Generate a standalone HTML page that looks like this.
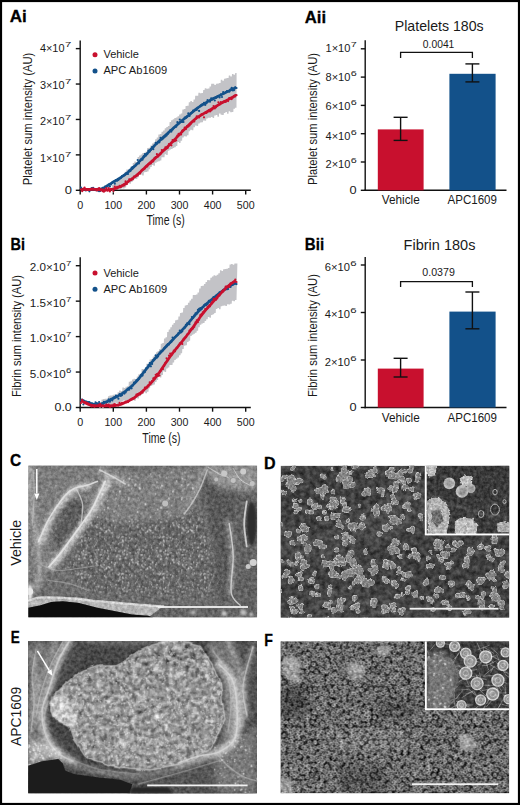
<!DOCTYPE html>
<html><head><meta charset="utf-8"><style>
html,body{margin:0;padding:0;background:#fff;}
svg{display:block;}
text{font-family:"Liberation Sans", sans-serif;}
</style></head><body>
<svg width="520" height="805" viewBox="0 0 520 805">
<rect x="0" y="0" width="520" height="805" fill="#fff"/>
<text x="9.8" y="22.4" font-size="17.0" text-anchor="start" font-weight="bold" textLength="17" lengthAdjust="spacingAndGlyphs" fill="#000" stroke="#000" stroke-width="0.3">Ai</text><text x="304.8" y="22.7" font-size="17.0" text-anchor="start" font-weight="bold" textLength="21.3" lengthAdjust="spacingAndGlyphs" fill="#000" stroke="#000" stroke-width="0.3">Aii</text><text x="10.5" y="250.0" font-size="17.0" text-anchor="start" font-weight="bold" textLength="14.5" lengthAdjust="spacingAndGlyphs" fill="#000" stroke="#000" stroke-width="0.3">Bi</text><text x="304.8" y="250.2" font-size="17.0" text-anchor="start" font-weight="bold" textLength="19.3" lengthAdjust="spacingAndGlyphs" fill="#000" stroke="#000" stroke-width="0.3">Bii</text><text x="10.0" y="465.59999999999997" font-size="17.0" text-anchor="start" font-weight="bold" textLength="11.2" lengthAdjust="spacingAndGlyphs" fill="#000" stroke="#000" stroke-width="0.3">C</text><text x="264.0" y="469.0" font-size="17.0" text-anchor="start" font-weight="bold" textLength="11.6" lengthAdjust="spacingAndGlyphs" fill="#000" stroke="#000" stroke-width="0.3">D</text><text x="10.8" y="642.5" font-size="17.0" text-anchor="start" font-weight="bold" textLength="9.0" lengthAdjust="spacingAndGlyphs" fill="#000" stroke="#000" stroke-width="0.3">E</text><text x="264.2" y="646.4000000000001" font-size="17.0" text-anchor="start" font-weight="bold" textLength="8.6" lengthAdjust="spacingAndGlyphs" fill="#000" stroke="#000" stroke-width="0.3">F</text><line x1="80.2" y1="40.5" x2="80.2" y2="191.0" stroke="#111" stroke-width="1.4"/><line x1="79.5" y1="190.3" x2="250.8" y2="190.3" stroke="#111" stroke-width="1.4"/><line x1="75.8" y1="190.3" x2="80.2" y2="190.3" stroke="#111" stroke-width="1.4"/><line x1="75.8" y1="154.88" x2="80.2" y2="154.88" stroke="#111" stroke-width="1.4"/><line x1="75.8" y1="119.46000000000001" x2="80.2" y2="119.46000000000001" stroke="#111" stroke-width="1.4"/><line x1="75.8" y1="84.04" x2="80.2" y2="84.04" stroke="#111" stroke-width="1.4"/><line x1="75.8" y1="48.620000000000005" x2="80.2" y2="48.620000000000005" stroke="#111" stroke-width="1.4"/><line x1="80.2" y1="190.3" x2="80.2" y2="194.5" stroke="#111" stroke-width="1.4"/><text x="80.2" y="208.70000000000002" font-size="11.5" text-anchor="middle" textLength="6.0" lengthAdjust="spacingAndGlyphs" fill="#1a1a1a">0</text><line x1="113.30000000000001" y1="190.3" x2="113.30000000000001" y2="194.5" stroke="#111" stroke-width="1.4"/><text x="113.30000000000001" y="208.70000000000002" font-size="11.5" text-anchor="middle" textLength="17.7" lengthAdjust="spacingAndGlyphs" fill="#1a1a1a">100</text><line x1="146.4" y1="190.3" x2="146.4" y2="194.5" stroke="#111" stroke-width="1.4"/><text x="146.4" y="208.70000000000002" font-size="11.5" text-anchor="middle" textLength="17.7" lengthAdjust="spacingAndGlyphs" fill="#1a1a1a">200</text><line x1="179.5" y1="190.3" x2="179.5" y2="194.5" stroke="#111" stroke-width="1.4"/><text x="179.5" y="208.70000000000002" font-size="11.5" text-anchor="middle" textLength="17.7" lengthAdjust="spacingAndGlyphs" fill="#1a1a1a">300</text><line x1="212.60000000000002" y1="190.3" x2="212.60000000000002" y2="194.5" stroke="#111" stroke-width="1.4"/><text x="212.60000000000002" y="208.70000000000002" font-size="11.5" text-anchor="middle" textLength="17.7" lengthAdjust="spacingAndGlyphs" fill="#1a1a1a">400</text><line x1="245.7" y1="190.3" x2="245.7" y2="194.5" stroke="#111" stroke-width="1.4"/><text x="245.7" y="208.70000000000002" font-size="11.5" text-anchor="middle" textLength="17.7" lengthAdjust="spacingAndGlyphs" fill="#1a1a1a">500</text><text x="165.6" y="224.60000000000002" font-size="13.8" text-anchor="middle" textLength="38.3" lengthAdjust="spacingAndGlyphs" fill="#1a1a1a">Time (s)</text><text x="31.6" y="119.0" font-size="12.8" text-anchor="middle" textLength="132.5" lengthAdjust="spacingAndGlyphs" transform="rotate(-90 31.6 119.0)" fill="#1a1a1a">Platelet sum intensity (AU)</text><text x="64.8" y="194.45000000000002" font-size="10.2" text-anchor="start" textLength="7.2" lengthAdjust="spacingAndGlyphs" fill="#1a1a1a">0</text><text x="39.9" y="162.35000000000002" font-size="10.2" text-anchor="start" textLength="24.6" lengthAdjust="spacingAndGlyphs" fill="#1a1a1a">1×10</text><text x="65.1" y="157.3" font-size="8.0" text-anchor="start" textLength="6.3" lengthAdjust="spacingAndGlyphs" fill="#1a1a1a">7</text><text x="39.9" y="125.2" font-size="10.2" text-anchor="start" textLength="24.6" lengthAdjust="spacingAndGlyphs" fill="#1a1a1a">2×10</text><text x="65.1" y="120.15" font-size="8.0" text-anchor="start" textLength="6.3" lengthAdjust="spacingAndGlyphs" fill="#1a1a1a">7</text><text x="39.9" y="88.55" font-size="10.2" text-anchor="start" textLength="24.6" lengthAdjust="spacingAndGlyphs" fill="#1a1a1a">3×10</text><text x="65.1" y="83.5" font-size="8.0" text-anchor="start" textLength="6.3" lengthAdjust="spacingAndGlyphs" fill="#1a1a1a">7</text><text x="39.9" y="51.75" font-size="10.2" text-anchor="start" textLength="24.6" lengthAdjust="spacingAndGlyphs" fill="#1a1a1a">4×10</text><text x="65.1" y="46.7" font-size="8.0" text-anchor="start" textLength="6.3" lengthAdjust="spacingAndGlyphs" fill="#1a1a1a">7</text><path d="M112.0,185.1 L113.4,185.1 L113.6,183.1 L115.0,183.1 L115.2,180.4 L116.6,180.4 L116.8,180.2 L118.2,180.2 L118.4,178.5 L119.8,178.5 L120.0,176.7 L121.4,176.7 L121.6,176.4 L123.0,176.4 L123.2,173.8 L124.6,173.8 L124.8,171.8 L126.2,171.8 L126.4,169.6 L127.8,169.6 L128.0,170.3 L129.4,170.3 L129.6,167.9 L131.0,167.9 L131.2,167.0 L132.6,167.0 L132.8,162.9 L134.2,162.9 L134.4,161.6 L135.8,161.6 L136.0,161.9 L137.4,161.9 L137.6,157.1 L139.0,157.1 L139.2,155.4 L140.6,155.4 L140.8,154.6 L142.2,154.6 L142.4,153.0 L143.8,153.0 L144.0,152.7 L145.4,152.7 L145.6,151.4 L147.0,151.4 L147.2,148.0 L148.6,148.0 L148.8,147.7 L150.2,147.7 L150.4,145.5 L151.8,145.5 L152.0,143.6 L153.4,143.6 L153.6,142.5 L155.0,142.5 L155.2,139.3 L156.6,139.3 L156.8,137.6 L158.2,137.6 L158.4,134.6 L159.8,134.6 L160.0,133.9 L161.4,133.9 L161.6,131.7 L163.0,131.7 L163.2,130.4 L164.6,130.4 L164.8,128.2 L166.2,128.2 L166.4,127.1 L167.8,127.1 L168.0,126.0 L169.4,126.0 L169.6,122.0 L171.0,122.0 L171.2,120.3 L172.6,120.3 L172.8,119.2 L174.2,119.2 L174.4,117.9 L175.8,117.9 L176.0,117.6 L177.4,117.6 L177.6,116.2 L179.0,116.2 L179.2,114.4 L180.6,114.4 L180.8,113.5 L182.2,113.5 L182.4,109.6 L183.8,109.6 L184.0,109.1 L185.4,109.1 L185.6,106.1 L187.0,106.1 L187.2,105.8 L188.6,105.8 L188.8,102.3 L190.2,102.3 L190.4,100.9 L191.8,100.9 L192.0,101.9 L193.4,101.9 L193.6,99.6 L195.0,99.6 L195.2,95.8 L196.6,95.8 L196.8,95.7 L198.2,95.7 L198.4,92.7 L199.8,92.7 L200.0,93.2 L201.4,93.2 L201.6,93.0 L203.0,93.0 L203.2,90.0 L204.6,90.0 L204.8,88.3 L206.2,88.3 L206.4,88.8 L207.8,88.8 L208.0,88.4 L209.4,88.4 L209.6,86.6 L211.0,86.6 L211.2,83.8 L212.6,83.8 L212.8,83.7 L214.2,83.7 L214.4,85.0 L215.8,85.0 L216.0,83.8 L217.4,83.8 L217.6,83.6 L219.0,83.6 L219.2,82.9 L220.6,82.9 L220.8,79.7 L222.2,79.7 L222.4,80.8 L223.8,80.8 L224.0,78.7 L225.4,78.7 L225.6,78.2 L227.0,78.2 L227.2,78.1 L228.6,78.1 L228.8,75.4 L230.2,75.4 L230.4,76.5 L231.8,76.5 L232.0,73.9 L233.4,73.9 L233.6,74.7 L235.0,74.7 L235.2,72.9 L236.6,72.9 L236.5,107.7 L235.1,107.7 L234.9,108.8 L233.5,108.8 L233.3,112.0 L231.9,112.0 L231.7,112.3 L230.3,112.3 L230.1,111.3 L228.7,111.3 L228.5,113.7 L227.1,113.7 L226.9,112.0 L225.5,112.0 L225.3,113.0 L223.9,113.0 L223.7,114.9 L222.3,114.9 L222.1,114.7 L220.7,114.7 L220.5,113.4 L219.1,113.4 L218.9,116.8 L217.5,116.8 L217.3,114.9 L215.9,114.9 L215.7,115.6 L214.3,115.6 L214.1,117.9 L212.7,117.9 L212.5,117.1 L211.1,117.1 L210.9,117.7 L209.5,117.7 L209.3,117.7 L207.9,117.7 L207.7,118.5 L206.3,118.5 L206.1,120.8 L204.7,120.8 L204.5,120.4 L203.1,120.4 L202.9,122.3 L201.5,122.3 L201.3,122.4 L199.9,122.4 L199.7,123.5 L198.3,123.5 L198.1,126.0 L196.7,126.0 L196.5,125.5 L195.1,125.5 L194.9,127.3 L193.5,127.3 L193.3,130.2 L191.9,130.2 L191.7,129.8 L190.3,129.8 L190.1,131.2 L188.7,131.2 L188.5,135.2 L187.1,135.2 L186.9,136.5 L185.5,136.5 L185.3,136.2 L183.9,136.2 L183.7,137.5 L182.3,137.5 L182.1,140.8 L180.7,140.8 L180.5,143.0 L179.1,143.0 L178.9,142.1 L177.5,142.1 L177.3,146.0 L175.9,146.0 L175.7,147.3 L174.3,147.3 L174.1,147.9 L172.7,147.9 L172.5,148.9 L171.1,148.9 L170.9,149.4 L169.5,149.4 L169.3,150.7 L167.9,150.7 L167.7,155.1 L166.3,155.1 L166.1,154.3 L164.7,154.3 L164.5,157.3 L163.1,157.3 L162.9,157.3 L161.5,157.3 L161.3,160.6 L159.9,160.6 L159.7,161.3 L158.3,161.3 L158.1,161.8 L156.7,161.8 L156.5,162.7 L155.1,162.7 L154.9,165.8 L153.5,165.8 L153.3,165.1 L151.9,165.1 L151.7,166.9 L150.3,166.9 L150.1,169.3 L148.7,169.3 L148.5,171.5 L147.1,171.5 L146.9,172.1 L145.5,172.1 L145.3,172.2 L143.9,172.2 L143.7,175.5 L142.3,175.5 L142.1,174.5 L140.7,174.5 L140.5,175.1 L139.1,175.1 L138.9,177.2 L137.5,177.2 L137.3,179.0 L135.9,179.0 L135.7,178.9 L134.3,178.9 L134.1,180.4 L132.7,180.4 L132.5,182.1 L131.1,182.1 L130.9,183.8 L129.5,183.8 L129.3,183.3 L127.9,183.3 L127.7,184.9 L126.3,184.9 L126.1,187.4 L124.7,187.4 L124.5,188.5 L123.1,188.5 L122.9,188.2 L121.5,188.2 L121.3,189.0 L119.9,189.0 L119.7,189.4 L118.3,189.4 L118.1,188.7 L116.7,188.7 L116.5,189.1 L115.1,189.1 L114.9,189.7 L113.5,189.7 L113.3,193.3 L111.9,193.3 Z" fill="#c3c3c7"/><circle cx="81.0" cy="187.7" r="1.1" fill="#13518a"/><circle cx="82.2" cy="189.6" r="1.1" fill="#13518a"/><circle cx="83.4" cy="189.0" r="1.1" fill="#13518a"/><circle cx="84.6" cy="188.8" r="1.1" fill="#13518a"/><circle cx="85.8" cy="190.4" r="1.1" fill="#13518a"/><circle cx="87.0" cy="189.4" r="1.1" fill="#13518a"/><circle cx="88.2" cy="189.0" r="1.1" fill="#13518a"/><circle cx="89.4" cy="191.3" r="1.1" fill="#13518a"/><circle cx="90.6" cy="188.8" r="1.1" fill="#13518a"/><circle cx="91.8" cy="188.0" r="1.1" fill="#13518a"/><circle cx="93.1" cy="187.8" r="1.1" fill="#13518a"/><circle cx="94.3" cy="188.8" r="1.1" fill="#13518a"/><circle cx="95.5" cy="190.1" r="1.1" fill="#13518a"/><circle cx="96.7" cy="190.2" r="1.1" fill="#13518a"/><circle cx="97.9" cy="190.5" r="1.1" fill="#13518a"/><circle cx="99.1" cy="191.2" r="1.1" fill="#13518a"/><circle cx="100.3" cy="190.9" r="1.1" fill="#13518a"/><circle cx="101.5" cy="189.5" r="1.1" fill="#13518a"/><circle cx="102.7" cy="189.6" r="1.1" fill="#13518a"/><circle cx="103.9" cy="188.5" r="1.1" fill="#13518a"/><circle cx="105.1" cy="186.6" r="1.1" fill="#13518a"/><circle cx="106.3" cy="187.6" r="1.1" fill="#13518a"/><circle cx="107.5" cy="185.5" r="1.1" fill="#13518a"/><circle cx="108.7" cy="184.5" r="1.1" fill="#13518a"/><circle cx="109.9" cy="186.4" r="1.1" fill="#13518a"/><circle cx="111.1" cy="184.4" r="1.1" fill="#13518a"/><circle cx="112.3" cy="182.4" r="1.1" fill="#13518a"/><circle cx="113.5" cy="181.6" r="1.1" fill="#13518a"/><circle cx="114.8" cy="183.7" r="1.1" fill="#13518a"/><circle cx="116.0" cy="180.2" r="1.1" fill="#13518a"/><circle cx="117.2" cy="180.7" r="1.1" fill="#13518a"/><circle cx="118.4" cy="180.0" r="1.1" fill="#13518a"/><circle cx="119.6" cy="178.6" r="1.1" fill="#13518a"/><circle cx="120.8" cy="178.1" r="1.1" fill="#13518a"/><circle cx="122.0" cy="176.2" r="1.1" fill="#13518a"/><circle cx="123.2" cy="175.5" r="1.1" fill="#13518a"/><circle cx="124.4" cy="175.2" r="1.1" fill="#13518a"/><circle cx="125.6" cy="173.5" r="1.1" fill="#13518a"/><circle cx="126.8" cy="174.0" r="1.1" fill="#13518a"/><circle cx="128.0" cy="174.0" r="1.1" fill="#13518a"/><circle cx="129.2" cy="170.4" r="1.1" fill="#13518a"/><circle cx="130.4" cy="171.1" r="1.1" fill="#13518a"/><circle cx="131.6" cy="167.6" r="1.1" fill="#13518a"/><circle cx="132.8" cy="167.0" r="1.1" fill="#13518a"/><circle cx="134.0" cy="166.6" r="1.1" fill="#13518a"/><circle cx="135.2" cy="166.0" r="1.1" fill="#13518a"/><circle cx="136.4" cy="164.4" r="1.1" fill="#13518a"/><circle cx="137.7" cy="160.0" r="1.1" fill="#13518a"/><circle cx="138.9" cy="163.5" r="1.1" fill="#13518a"/><circle cx="140.1" cy="160.7" r="1.1" fill="#13518a"/><circle cx="141.3" cy="159.2" r="1.1" fill="#13518a"/><circle cx="142.5" cy="159.7" r="1.1" fill="#13518a"/><circle cx="143.7" cy="156.2" r="1.1" fill="#13518a"/><circle cx="144.9" cy="154.2" r="1.1" fill="#13518a"/><circle cx="146.1" cy="155.3" r="1.1" fill="#13518a"/><circle cx="147.3" cy="154.1" r="1.1" fill="#13518a"/><circle cx="148.5" cy="150.6" r="1.1" fill="#13518a"/><circle cx="149.7" cy="151.4" r="1.1" fill="#13518a"/><circle cx="150.9" cy="149.8" r="1.1" fill="#13518a"/><circle cx="152.1" cy="147.1" r="1.1" fill="#13518a"/><circle cx="153.3" cy="149.2" r="1.1" fill="#13518a"/><circle cx="154.5" cy="145.5" r="1.1" fill="#13518a"/><circle cx="155.7" cy="142.9" r="1.1" fill="#13518a"/><circle cx="156.9" cy="143.7" r="1.1" fill="#13518a"/><circle cx="158.1" cy="142.3" r="1.1" fill="#13518a"/><circle cx="159.4" cy="142.3" r="1.1" fill="#13518a"/><circle cx="160.6" cy="137.8" r="1.1" fill="#13518a"/><circle cx="161.8" cy="139.6" r="1.1" fill="#13518a"/><circle cx="163.0" cy="138.6" r="1.1" fill="#13518a"/><circle cx="164.2" cy="137.4" r="1.1" fill="#13518a"/><circle cx="165.4" cy="136.4" r="1.1" fill="#13518a"/><circle cx="166.6" cy="135.4" r="1.1" fill="#13518a"/><circle cx="167.8" cy="133.9" r="1.1" fill="#13518a"/><circle cx="169.0" cy="132.3" r="1.1" fill="#13518a"/><circle cx="170.2" cy="130.3" r="1.1" fill="#13518a"/><circle cx="171.4" cy="131.6" r="1.1" fill="#13518a"/><circle cx="172.6" cy="129.6" r="1.1" fill="#13518a"/><circle cx="173.8" cy="128.0" r="1.1" fill="#13518a"/><circle cx="175.0" cy="126.9" r="1.1" fill="#13518a"/><circle cx="176.2" cy="126.7" r="1.1" fill="#13518a"/><circle cx="177.4" cy="122.2" r="1.1" fill="#13518a"/><circle cx="178.6" cy="123.6" r="1.1" fill="#13518a"/><circle cx="179.8" cy="119.6" r="1.1" fill="#13518a"/><circle cx="181.1" cy="121.8" r="1.1" fill="#13518a"/><circle cx="182.3" cy="121.9" r="1.1" fill="#13518a"/><circle cx="183.5" cy="122.0" r="1.1" fill="#13518a"/><circle cx="184.7" cy="117.7" r="1.1" fill="#13518a"/><circle cx="185.9" cy="117.9" r="1.1" fill="#13518a"/><circle cx="187.1" cy="116.6" r="1.1" fill="#13518a"/><circle cx="188.3" cy="113.4" r="1.1" fill="#13518a"/><circle cx="189.5" cy="115.9" r="1.1" fill="#13518a"/><circle cx="190.7" cy="113.4" r="1.1" fill="#13518a"/><circle cx="191.9" cy="112.6" r="1.1" fill="#13518a"/><circle cx="193.1" cy="110.7" r="1.1" fill="#13518a"/><circle cx="194.3" cy="110.8" r="1.1" fill="#13518a"/><circle cx="195.5" cy="109.4" r="1.1" fill="#13518a"/><circle cx="196.7" cy="109.9" r="1.1" fill="#13518a"/><circle cx="197.9" cy="108.1" r="1.1" fill="#13518a"/><circle cx="199.1" cy="110.9" r="1.1" fill="#13518a"/><circle cx="200.3" cy="105.9" r="1.1" fill="#13518a"/><circle cx="201.5" cy="104.8" r="1.1" fill="#13518a"/><circle cx="202.7" cy="104.4" r="1.1" fill="#13518a"/><circle cx="204.0" cy="102.9" r="1.1" fill="#13518a"/><circle cx="205.2" cy="104.9" r="1.1" fill="#13518a"/><circle cx="206.4" cy="103.3" r="1.1" fill="#13518a"/><circle cx="207.6" cy="100.1" r="1.1" fill="#13518a"/><circle cx="208.8" cy="101.0" r="1.1" fill="#13518a"/><circle cx="210.0" cy="101.7" r="1.1" fill="#13518a"/><circle cx="211.2" cy="98.3" r="1.1" fill="#13518a"/><circle cx="212.4" cy="99.5" r="1.1" fill="#13518a"/><circle cx="213.6" cy="98.1" r="1.1" fill="#13518a"/><circle cx="214.8" cy="100.5" r="1.1" fill="#13518a"/><circle cx="216.0" cy="97.9" r="1.1" fill="#13518a"/><circle cx="217.2" cy="96.4" r="1.1" fill="#13518a"/><circle cx="218.4" cy="95.8" r="1.1" fill="#13518a"/><circle cx="219.6" cy="97.5" r="1.1" fill="#13518a"/><circle cx="220.8" cy="94.4" r="1.1" fill="#13518a"/><circle cx="222.0" cy="97.0" r="1.1" fill="#13518a"/><circle cx="223.2" cy="92.2" r="1.1" fill="#13518a"/><circle cx="224.4" cy="93.2" r="1.1" fill="#13518a"/><circle cx="225.7" cy="92.2" r="1.1" fill="#13518a"/><circle cx="226.9" cy="91.2" r="1.1" fill="#13518a"/><circle cx="228.1" cy="91.2" r="1.1" fill="#13518a"/><circle cx="229.3" cy="91.7" r="1.1" fill="#13518a"/><circle cx="230.5" cy="89.7" r="1.1" fill="#13518a"/><circle cx="231.7" cy="87.8" r="1.1" fill="#13518a"/><circle cx="232.9" cy="90.4" r="1.1" fill="#13518a"/><circle cx="234.1" cy="90.1" r="1.1" fill="#13518a"/><circle cx="235.3" cy="87.3" r="1.1" fill="#13518a"/><circle cx="236.5" cy="88.0" r="1.1" fill="#13518a"/><path d="M81.0,189.3 L82.0,189.3 L83.0,189.3 L84.0,189.3 L85.0,189.3 L86.0,189.3 L87.0,189.3 L88.0,189.3 L89.0,189.3 L90.0,189.3 L91.0,189.4 L92.0,189.4 L93.0,189.4 L94.0,189.3 L95.0,189.3 L96.0,189.3 L97.0,189.3 L98.0,189.2 L99.0,189.1 L100.0,189.0 L101.0,188.8 L102.0,188.5 L103.0,188.1 L104.0,187.7 L105.0,187.2 L106.0,186.6 L107.0,186.0 L108.0,185.4 L109.0,184.7 L110.0,184.1 L111.0,183.5 L112.0,182.8 L113.0,182.2 L114.0,181.6 L115.0,181.0 L116.0,180.4 L117.0,179.8 L118.0,179.2 L119.0,178.6 L120.0,178.0 L121.0,177.3 L122.0,176.7 L123.0,176.0 L124.0,175.3 L125.0,174.6 L126.0,173.8 L127.0,173.0 L128.0,172.2 L129.0,171.3 L130.0,170.5 L131.0,169.6 L132.0,168.7 L133.0,167.7 L134.0,166.8 L135.0,165.8 L136.0,164.9 L137.0,163.9 L138.0,162.9 L139.0,161.9 L140.0,160.9 L141.0,159.9 L142.0,158.9 L143.0,157.8 L144.0,156.8 L145.0,155.7 L146.0,154.7 L147.0,153.6 L148.0,152.6 L149.0,151.5 L150.0,150.4 L151.0,149.3 L152.0,148.3 L153.0,147.2 L154.0,146.2 L155.0,145.1 L156.0,144.1 L157.0,143.1 L158.0,142.1 L159.0,141.2 L160.0,140.2 L161.0,139.3 L162.0,138.4 L163.0,137.5 L164.0,136.6 L165.0,135.7 L166.0,134.8 L167.0,133.9 L168.0,133.0 L169.0,132.1 L170.0,131.2 L171.0,130.3 L172.0,129.4 L173.0,128.5 L174.0,127.6 L175.0,126.7 L176.0,125.8 L177.0,124.9 L178.0,124.0 L179.0,123.2 L180.0,122.3 L181.0,121.5 L182.0,120.6 L183.0,119.8 L184.0,119.0 L185.0,118.2 L186.0,117.4 L187.0,116.6 L188.0,115.8 L189.0,115.0 L190.0,114.2 L191.0,113.3 L192.0,112.5 L193.0,111.7 L194.0,110.8 L195.0,110.0 L196.0,109.2 L197.0,108.4 L198.0,107.7 L199.0,107.0 L200.0,106.3 L201.0,105.6 L202.0,105.0 L203.0,104.4 L204.0,103.8 L205.0,103.1 L206.0,102.6 L207.0,102.0 L208.0,101.4 L209.0,100.9 L210.0,100.3 L211.0,99.8 L212.0,99.3 L213.0,98.8 L214.0,98.3 L215.0,97.8 L216.0,97.3 L217.0,96.9 L218.0,96.4 L219.0,95.9 L220.0,95.4 L221.0,94.9 L222.0,94.4 L223.0,93.9 L224.0,93.4 L225.0,92.9 L226.0,92.4 L227.0,91.9 L228.0,91.4 L229.0,90.9 L230.0,90.3 L231.0,89.8 L232.0,89.3 L233.0,88.8 L234.0,88.4 L235.0,88.0 L236.0,87.6" stroke="#13518a" stroke-width="2.7" fill="none" stroke-linejoin="round"/><circle cx="81.0" cy="189.5" r="1.1" fill="#c8102e"/><circle cx="82.2" cy="191.2" r="1.1" fill="#c8102e"/><circle cx="83.4" cy="188.6" r="1.1" fill="#c8102e"/><circle cx="84.6" cy="187.5" r="1.1" fill="#c8102e"/><circle cx="85.8" cy="189.7" r="1.1" fill="#c8102e"/><circle cx="87.0" cy="190.1" r="1.1" fill="#c8102e"/><circle cx="88.2" cy="189.8" r="1.1" fill="#c8102e"/><circle cx="89.4" cy="189.9" r="1.1" fill="#c8102e"/><circle cx="90.6" cy="189.2" r="1.1" fill="#c8102e"/><circle cx="91.8" cy="188.7" r="1.1" fill="#c8102e"/><circle cx="93.1" cy="188.5" r="1.1" fill="#c8102e"/><circle cx="94.3" cy="189.1" r="1.1" fill="#c8102e"/><circle cx="95.5" cy="189.0" r="1.1" fill="#c8102e"/><circle cx="96.7" cy="190.5" r="1.1" fill="#c8102e"/><circle cx="97.9" cy="190.2" r="1.1" fill="#c8102e"/><circle cx="99.1" cy="188.2" r="1.1" fill="#c8102e"/><circle cx="100.3" cy="190.5" r="1.1" fill="#c8102e"/><circle cx="101.5" cy="189.8" r="1.1" fill="#c8102e"/><circle cx="102.7" cy="191.2" r="1.1" fill="#c8102e"/><circle cx="103.9" cy="191.7" r="1.1" fill="#c8102e"/><circle cx="105.1" cy="190.7" r="1.1" fill="#c8102e"/><circle cx="106.3" cy="188.1" r="1.1" fill="#c8102e"/><circle cx="107.5" cy="190.7" r="1.1" fill="#c8102e"/><circle cx="108.7" cy="188.2" r="1.1" fill="#c8102e"/><circle cx="109.9" cy="191.5" r="1.1" fill="#c8102e"/><circle cx="111.1" cy="188.9" r="1.1" fill="#c8102e"/><circle cx="112.3" cy="189.2" r="1.1" fill="#c8102e"/><circle cx="113.5" cy="191.0" r="1.1" fill="#c8102e"/><circle cx="114.8" cy="186.7" r="1.1" fill="#c8102e"/><circle cx="116.0" cy="188.4" r="1.1" fill="#c8102e"/><circle cx="117.2" cy="186.8" r="1.1" fill="#c8102e"/><circle cx="118.4" cy="187.0" r="1.1" fill="#c8102e"/><circle cx="119.6" cy="185.9" r="1.1" fill="#c8102e"/><circle cx="120.8" cy="187.1" r="1.1" fill="#c8102e"/><circle cx="122.0" cy="185.5" r="1.1" fill="#c8102e"/><circle cx="123.2" cy="185.6" r="1.1" fill="#c8102e"/><circle cx="124.4" cy="185.4" r="1.1" fill="#c8102e"/><circle cx="125.6" cy="181.4" r="1.1" fill="#c8102e"/><circle cx="126.8" cy="184.1" r="1.1" fill="#c8102e"/><circle cx="128.0" cy="181.6" r="1.1" fill="#c8102e"/><circle cx="129.2" cy="179.3" r="1.1" fill="#c8102e"/><circle cx="130.4" cy="179.6" r="1.1" fill="#c8102e"/><circle cx="131.6" cy="179.8" r="1.1" fill="#c8102e"/><circle cx="132.8" cy="179.2" r="1.1" fill="#c8102e"/><circle cx="134.0" cy="176.6" r="1.1" fill="#c8102e"/><circle cx="135.2" cy="176.7" r="1.1" fill="#c8102e"/><circle cx="136.4" cy="176.1" r="1.1" fill="#c8102e"/><circle cx="137.7" cy="175.3" r="1.1" fill="#c8102e"/><circle cx="138.9" cy="173.2" r="1.1" fill="#c8102e"/><circle cx="140.1" cy="173.5" r="1.1" fill="#c8102e"/><circle cx="141.3" cy="170.5" r="1.1" fill="#c8102e"/><circle cx="142.5" cy="169.7" r="1.1" fill="#c8102e"/><circle cx="143.7" cy="169.3" r="1.1" fill="#c8102e"/><circle cx="144.9" cy="168.4" r="1.1" fill="#c8102e"/><circle cx="146.1" cy="166.6" r="1.1" fill="#c8102e"/><circle cx="147.3" cy="166.4" r="1.1" fill="#c8102e"/><circle cx="148.5" cy="164.1" r="1.1" fill="#c8102e"/><circle cx="149.7" cy="163.8" r="1.1" fill="#c8102e"/><circle cx="150.9" cy="163.4" r="1.1" fill="#c8102e"/><circle cx="152.1" cy="161.8" r="1.1" fill="#c8102e"/><circle cx="153.3" cy="161.3" r="1.1" fill="#c8102e"/><circle cx="154.5" cy="158.2" r="1.1" fill="#c8102e"/><circle cx="155.7" cy="157.1" r="1.1" fill="#c8102e"/><circle cx="156.9" cy="154.2" r="1.1" fill="#c8102e"/><circle cx="158.1" cy="156.4" r="1.1" fill="#c8102e"/><circle cx="159.4" cy="155.1" r="1.1" fill="#c8102e"/><circle cx="160.6" cy="153.8" r="1.1" fill="#c8102e"/><circle cx="161.8" cy="150.1" r="1.1" fill="#c8102e"/><circle cx="163.0" cy="150.7" r="1.1" fill="#c8102e"/><circle cx="164.2" cy="149.7" r="1.1" fill="#c8102e"/><circle cx="165.4" cy="147.3" r="1.1" fill="#c8102e"/><circle cx="166.6" cy="148.4" r="1.1" fill="#c8102e"/><circle cx="167.8" cy="147.8" r="1.1" fill="#c8102e"/><circle cx="169.0" cy="144.0" r="1.1" fill="#c8102e"/><circle cx="170.2" cy="144.9" r="1.1" fill="#c8102e"/><circle cx="171.4" cy="145.3" r="1.1" fill="#c8102e"/><circle cx="172.6" cy="140.0" r="1.1" fill="#c8102e"/><circle cx="173.8" cy="141.4" r="1.1" fill="#c8102e"/><circle cx="175.0" cy="141.0" r="1.1" fill="#c8102e"/><circle cx="176.2" cy="140.3" r="1.1" fill="#c8102e"/><circle cx="177.4" cy="135.6" r="1.1" fill="#c8102e"/><circle cx="178.6" cy="133.9" r="1.1" fill="#c8102e"/><circle cx="179.8" cy="134.3" r="1.1" fill="#c8102e"/><circle cx="181.1" cy="134.4" r="1.1" fill="#c8102e"/><circle cx="182.3" cy="130.5" r="1.1" fill="#c8102e"/><circle cx="183.5" cy="130.1" r="1.1" fill="#c8102e"/><circle cx="184.7" cy="127.6" r="1.1" fill="#c8102e"/><circle cx="185.9" cy="129.1" r="1.1" fill="#c8102e"/><circle cx="187.1" cy="126.2" r="1.1" fill="#c8102e"/><circle cx="188.3" cy="126.4" r="1.1" fill="#c8102e"/><circle cx="189.5" cy="125.5" r="1.1" fill="#c8102e"/><circle cx="190.7" cy="124.1" r="1.1" fill="#c8102e"/><circle cx="191.9" cy="122.4" r="1.1" fill="#c8102e"/><circle cx="193.1" cy="121.4" r="1.1" fill="#c8102e"/><circle cx="194.3" cy="121.4" r="1.1" fill="#c8102e"/><circle cx="195.5" cy="119.1" r="1.1" fill="#c8102e"/><circle cx="196.7" cy="116.4" r="1.1" fill="#c8102e"/><circle cx="197.9" cy="116.5" r="1.1" fill="#c8102e"/><circle cx="199.1" cy="117.5" r="1.1" fill="#c8102e"/><circle cx="200.3" cy="116.0" r="1.1" fill="#c8102e"/><circle cx="201.5" cy="114.3" r="1.1" fill="#c8102e"/><circle cx="202.7" cy="114.4" r="1.1" fill="#c8102e"/><circle cx="204.0" cy="117.3" r="1.1" fill="#c8102e"/><circle cx="205.2" cy="112.9" r="1.1" fill="#c8102e"/><circle cx="206.4" cy="112.9" r="1.1" fill="#c8102e"/><circle cx="207.6" cy="111.8" r="1.1" fill="#c8102e"/><circle cx="208.8" cy="110.4" r="1.1" fill="#c8102e"/><circle cx="210.0" cy="111.4" r="1.1" fill="#c8102e"/><circle cx="211.2" cy="110.4" r="1.1" fill="#c8102e"/><circle cx="212.4" cy="109.3" r="1.1" fill="#c8102e"/><circle cx="213.6" cy="106.1" r="1.1" fill="#c8102e"/><circle cx="214.8" cy="108.5" r="1.1" fill="#c8102e"/><circle cx="216.0" cy="107.3" r="1.1" fill="#c8102e"/><circle cx="217.2" cy="105.8" r="1.1" fill="#c8102e"/><circle cx="218.4" cy="102.3" r="1.1" fill="#c8102e"/><circle cx="219.6" cy="104.1" r="1.1" fill="#c8102e"/><circle cx="220.8" cy="102.2" r="1.1" fill="#c8102e"/><circle cx="222.0" cy="102.7" r="1.1" fill="#c8102e"/><circle cx="223.2" cy="101.9" r="1.1" fill="#c8102e"/><circle cx="224.4" cy="101.0" r="1.1" fill="#c8102e"/><circle cx="225.7" cy="101.9" r="1.1" fill="#c8102e"/><circle cx="226.9" cy="100.4" r="1.1" fill="#c8102e"/><circle cx="228.1" cy="101.1" r="1.1" fill="#c8102e"/><circle cx="229.3" cy="98.1" r="1.1" fill="#c8102e"/><circle cx="230.5" cy="98.4" r="1.1" fill="#c8102e"/><circle cx="231.7" cy="99.1" r="1.1" fill="#c8102e"/><circle cx="232.9" cy="97.5" r="1.1" fill="#c8102e"/><circle cx="234.1" cy="95.8" r="1.1" fill="#c8102e"/><circle cx="235.3" cy="95.2" r="1.1" fill="#c8102e"/><circle cx="236.5" cy="95.2" r="1.1" fill="#c8102e"/><path d="M81.0,189.6 L82.0,189.5 L83.0,189.5 L84.0,189.5 L85.0,189.4 L86.0,189.4 L87.0,189.4 L88.0,189.3 L89.0,189.3 L90.0,189.3 L91.0,189.3 L92.0,189.3 L93.0,189.3 L94.0,189.3 L95.0,189.3 L96.0,189.3 L97.0,189.4 L98.0,189.4 L99.0,189.5 L100.0,189.6 L101.0,189.7 L102.0,189.8 L103.0,189.9 L104.0,189.9 L105.0,190.0 L106.0,190.0 L107.0,189.9 L108.0,189.9 L109.0,189.8 L110.0,189.7 L111.0,189.5 L112.0,189.3 L113.0,189.1 L114.0,188.8 L115.0,188.5 L116.0,188.2 L117.0,187.9 L118.0,187.5 L119.0,187.1 L120.0,186.7 L121.0,186.2 L122.0,185.7 L123.0,185.1 L124.0,184.5 L125.0,183.9 L126.0,183.2 L127.0,182.5 L128.0,181.7 L129.0,181.0 L130.0,180.2 L131.0,179.5 L132.0,178.7 L133.0,178.0 L134.0,177.2 L135.0,176.5 L136.0,175.7 L137.0,174.9 L138.0,174.0 L139.0,173.2 L140.0,172.3 L141.0,171.4 L142.0,170.4 L143.0,169.4 L144.0,168.5 L145.0,167.5 L146.0,166.5 L147.0,165.6 L148.0,164.7 L149.0,163.7 L150.0,162.8 L151.0,162.0 L152.0,161.1 L153.0,160.2 L154.0,159.4 L155.0,158.5 L156.0,157.6 L157.0,156.7 L158.0,155.8 L159.0,154.9 L160.0,154.0 L161.0,153.0 L162.0,152.1 L163.0,151.1 L164.0,150.2 L165.0,149.2 L166.0,148.2 L167.0,147.2 L168.0,146.3 L169.0,145.3 L170.0,144.3 L171.0,143.2 L172.0,142.2 L173.0,141.2 L174.0,140.2 L175.0,139.1 L176.0,138.1 L177.0,137.0 L178.0,136.0 L179.0,135.0 L180.0,133.9 L181.0,132.9 L182.0,131.8 L183.0,130.8 L184.0,129.8 L185.0,128.7 L186.0,127.7 L187.0,126.7 L188.0,125.7 L189.0,124.7 L190.0,123.7 L191.0,122.7 L192.0,121.8 L193.0,120.9 L194.0,120.0 L195.0,119.2 L196.0,118.4 L197.0,117.7 L198.0,117.0 L199.0,116.3 L200.0,115.7 L201.0,115.1 L202.0,114.5 L203.0,114.0 L204.0,113.4 L205.0,112.8 L206.0,112.3 L207.0,111.7 L208.0,111.1 L209.0,110.5 L210.0,109.9 L211.0,109.3 L212.0,108.7 L213.0,108.1 L214.0,107.5 L215.0,106.9 L216.0,106.3 L217.0,105.8 L218.0,105.2 L219.0,104.6 L220.0,104.0 L221.0,103.4 L222.0,102.9 L223.0,102.3 L224.0,101.8 L225.0,101.2 L226.0,100.7 L227.0,100.1 L228.0,99.6 L229.0,99.0 L230.0,98.5 L231.0,98.0 L232.0,97.5 L233.0,97.0 L234.0,96.5 L235.0,96.1 L236.0,95.8" stroke="#c8102e" stroke-width="2.7" fill="none" stroke-linejoin="round"/><circle cx="95.0" cy="54.7" r="2.5" fill="#c8102e"/><circle cx="95.0" cy="70.9" r="2.5" fill="#13518a"/><text x="103.4" y="58.300000000000004" font-size="11.8" text-anchor="start" textLength="35.5" lengthAdjust="spacingAndGlyphs" fill="#1a1a1a">Vehicle</text><text x="103.4" y="74.30000000000001" font-size="11.8" text-anchor="start" textLength="63.8" lengthAdjust="spacingAndGlyphs" fill="#1a1a1a">APC Ab1609</text><line x1="80.2" y1="257.3" x2="80.2" y2="408.2" stroke="#111" stroke-width="1.4"/><line x1="79.5" y1="407.5" x2="250.8" y2="407.5" stroke="#111" stroke-width="1.4"/><line x1="75.8" y1="407.5" x2="80.2" y2="407.5" stroke="#111" stroke-width="1.4"/><line x1="75.8" y1="372.05" x2="80.2" y2="372.05" stroke="#111" stroke-width="1.4"/><line x1="75.8" y1="336.6" x2="80.2" y2="336.6" stroke="#111" stroke-width="1.4"/><line x1="75.8" y1="301.15" x2="80.2" y2="301.15" stroke="#111" stroke-width="1.4"/><line x1="75.8" y1="265.7" x2="80.2" y2="265.7" stroke="#111" stroke-width="1.4"/><line x1="80.2" y1="407.5" x2="80.2" y2="411.7" stroke="#111" stroke-width="1.4"/><text x="80.2" y="425.9" font-size="11.5" text-anchor="middle" textLength="6.0" lengthAdjust="spacingAndGlyphs" fill="#1a1a1a">0</text><line x1="113.30000000000001" y1="407.5" x2="113.30000000000001" y2="411.7" stroke="#111" stroke-width="1.4"/><text x="113.30000000000001" y="425.9" font-size="11.5" text-anchor="middle" textLength="17.7" lengthAdjust="spacingAndGlyphs" fill="#1a1a1a">100</text><line x1="146.4" y1="407.5" x2="146.4" y2="411.7" stroke="#111" stroke-width="1.4"/><text x="146.4" y="425.9" font-size="11.5" text-anchor="middle" textLength="17.7" lengthAdjust="spacingAndGlyphs" fill="#1a1a1a">200</text><line x1="179.5" y1="407.5" x2="179.5" y2="411.7" stroke="#111" stroke-width="1.4"/><text x="179.5" y="425.9" font-size="11.5" text-anchor="middle" textLength="17.7" lengthAdjust="spacingAndGlyphs" fill="#1a1a1a">300</text><line x1="212.60000000000002" y1="407.5" x2="212.60000000000002" y2="411.7" stroke="#111" stroke-width="1.4"/><text x="212.60000000000002" y="425.9" font-size="11.5" text-anchor="middle" textLength="17.7" lengthAdjust="spacingAndGlyphs" fill="#1a1a1a">400</text><line x1="245.7" y1="407.5" x2="245.7" y2="411.7" stroke="#111" stroke-width="1.4"/><text x="245.7" y="425.9" font-size="11.5" text-anchor="middle" textLength="17.7" lengthAdjust="spacingAndGlyphs" fill="#1a1a1a">500</text><text x="161.5" y="442.8" font-size="13.8" text-anchor="middle" textLength="38.3" lengthAdjust="spacingAndGlyphs" fill="#1a1a1a">Time (s)</text><text x="20.8" y="336.0" font-size="12.8" text-anchor="middle" textLength="122.0" lengthAdjust="spacingAndGlyphs" transform="rotate(-90 20.8 336.0)" fill="#1a1a1a">Fibrin sum intensity (AU)</text><text x="54.5" y="410.65000000000003" font-size="10.2" text-anchor="start" textLength="17.25" lengthAdjust="spacingAndGlyphs" fill="#1a1a1a">0.0</text><text x="29.8" y="377.7" font-size="10.2" text-anchor="start" textLength="36.0" lengthAdjust="spacingAndGlyphs" fill="#1a1a1a">5.0×10</text><text x="66.1" y="372.65" font-size="8.0" text-anchor="start" textLength="5.3" lengthAdjust="spacingAndGlyphs" fill="#1a1a1a">6</text><text x="29.8" y="342.3" font-size="10.2" text-anchor="start" textLength="36.0" lengthAdjust="spacingAndGlyphs" fill="#1a1a1a">1.0×10</text><text x="66.1" y="337.25" font-size="8.0" text-anchor="start" textLength="5.3" lengthAdjust="spacingAndGlyphs" fill="#1a1a1a">7</text><text x="29.8" y="306.55" font-size="10.2" text-anchor="start" textLength="36.0" lengthAdjust="spacingAndGlyphs" fill="#1a1a1a">1.5×10</text><text x="66.1" y="301.5" font-size="8.0" text-anchor="start" textLength="5.3" lengthAdjust="spacingAndGlyphs" fill="#1a1a1a">7</text><text x="29.8" y="270.8" font-size="10.2" text-anchor="start" textLength="36.0" lengthAdjust="spacingAndGlyphs" fill="#1a1a1a">2.0×10</text><text x="66.1" y="265.75" font-size="8.0" text-anchor="start" textLength="5.3" lengthAdjust="spacingAndGlyphs" fill="#1a1a1a">7</text><path d="M100.0,402.0 L101.4,402.0 L101.6,399.5 L103.0,399.5 L103.2,398.9 L104.6,398.9 L104.8,398.7 L106.2,398.7 L106.4,398.8 L107.8,398.8 L108.0,396.2 L109.4,396.2 L109.6,395.4 L111.0,395.4 L111.2,395.5 L112.6,395.5 L112.8,394.7 L114.2,394.7 L114.4,394.6 L115.8,394.6 L116.0,394.4 L117.4,394.4 L117.6,392.2 L119.0,392.2 L119.2,390.4 L120.6,390.4 L120.8,390.9 L122.2,390.9 L122.4,387.5 L123.8,387.5 L124.0,388.1 L125.4,388.1 L125.6,386.8 L127.0,386.8 L127.2,386.2 L128.6,386.2 L128.8,381.8 L130.2,381.8 L130.4,381.3 L131.8,381.3 L132.0,379.5 L133.4,379.5 L133.6,378.8 L135.0,378.8 L135.2,379.1 L136.6,379.1 L136.8,376.5 L138.2,376.5 L138.4,374.2 L139.8,374.2 L140.0,373.6 L141.4,373.6 L141.6,369.1 L143.0,369.1 L143.2,369.0 L144.6,369.0 L144.8,367.8 L146.2,367.8 L146.4,363.7 L147.8,363.7 L148.0,364.0 L149.4,364.0 L149.6,359.4 L151.0,359.4 L151.2,358.9 L152.6,358.9 L152.8,356.4 L154.2,356.4 L154.4,355.0 L155.8,355.0 L156.0,352.3 L157.4,352.3 L157.6,351.0 L159.0,351.0 L159.2,349.1 L160.6,349.1 L160.8,343.8 L162.2,343.8 L162.4,343.0 L163.8,343.0 L164.0,338.4 L165.4,338.4 L165.6,337.3 L167.0,337.3 L167.2,332.0 L168.6,332.0 L168.8,329.4 L170.2,329.4 L170.4,327.3 L171.8,327.3 L172.0,324.8 L173.4,324.8 L173.6,323.0 L175.0,323.0 L175.2,320.2 L176.6,320.2 L176.8,319.8 L178.2,319.8 L178.4,316.4 L179.8,316.4 L180.0,313.0 L181.4,313.0 L181.6,312.6 L183.0,312.6 L183.2,307.9 L184.6,307.9 L184.8,305.6 L186.2,305.6 L186.4,304.9 L187.8,304.9 L188.0,302.8 L189.4,302.8 L189.6,300.5 L191.0,300.5 L191.2,298.8 L192.6,298.8 L192.8,295.0 L194.2,295.0 L194.4,295.1 L195.8,295.1 L196.0,294.5 L197.4,294.5 L197.6,292.5 L199.0,292.5 L199.2,288.6 L200.6,288.6 L200.8,285.9 L202.2,285.9 L202.4,285.7 L203.8,285.7 L204.0,284.0 L205.4,284.0 L205.6,282.1 L207.0,282.1 L207.2,279.9 L208.6,279.9 L208.8,280.2 L210.2,280.2 L210.4,277.7 L211.8,277.7 L212.0,276.6 L213.4,276.6 L213.6,275.3 L215.0,275.3 L215.2,275.7 L216.6,275.7 L216.8,274.7 L218.2,274.7 L218.4,273.2 L219.8,273.2 L220.0,270.3 L221.4,270.3 L221.6,271.1 L223.0,271.1 L223.2,269.2 L224.6,269.2 L224.8,269.1 L226.2,269.1 L226.4,268.8 L227.8,268.8 L228.0,267.9 L229.4,267.9 L229.6,264.6 L231.0,264.6 L231.2,264.0 L232.6,264.0 L232.8,264.8 L234.2,264.8 L234.4,263.6 L235.8,263.6 L236.0,263.4 L237.4,263.4 L236.5,299.9 L235.1,299.9 L234.9,301.3 L233.5,301.3 L233.3,300.8 L231.9,300.8 L231.7,303.8 L230.3,303.8 L230.1,304.6 L228.7,304.6 L228.5,304.3 L227.1,304.3 L226.9,305.9 L225.5,305.9 L225.3,305.4 L223.9,305.4 L223.7,305.8 L222.3,305.8 L222.1,306.2 L220.7,306.2 L220.5,309.2 L219.1,309.2 L218.9,308.1 L217.5,308.1 L217.3,309.1 L215.9,309.1 L215.7,312.9 L214.3,312.9 L214.1,314.3 L212.7,314.3 L212.5,315.0 L211.1,315.0 L210.9,317.8 L209.5,317.8 L209.3,316.9 L207.9,316.9 L207.7,319.2 L206.3,319.2 L206.1,320.9 L204.7,320.9 L204.5,322.9 L203.1,322.9 L202.9,323.6 L201.5,323.6 L201.3,324.8 L199.9,324.8 L199.7,327.3 L198.3,327.3 L198.1,330.7 L196.7,330.7 L196.5,332.7 L195.1,332.7 L194.9,333.7 L193.5,333.7 L193.3,334.8 L191.9,334.8 L191.7,336.1 L190.3,336.1 L190.1,340.8 L188.7,340.8 L188.5,342.0 L187.1,342.0 L186.9,345.3 L185.5,345.3 L185.3,345.7 L183.9,345.7 L183.7,348.9 L182.3,348.9 L182.1,353.3 L180.7,353.3 L180.5,355.3 L179.1,355.3 L178.9,357.6 L177.5,357.6 L177.3,358.7 L175.9,358.7 L175.7,360.0 L174.3,360.0 L174.1,362.4 L172.7,362.4 L172.5,365.1 L171.1,365.1 L170.9,365.1 L169.5,365.1 L169.3,367.6 L167.9,367.6 L167.7,368.6 L166.3,368.6 L166.1,371.9 L164.7,371.9 L164.5,371.2 L163.1,371.2 L162.9,375.1 L161.5,375.1 L161.3,377.6 L159.9,377.6 L159.7,376.4 L158.3,376.4 L158.1,380.0 L156.7,380.0 L156.5,381.9 L155.1,381.9 L154.9,384.4 L153.5,384.4 L153.3,385.3 L151.9,385.3 L151.7,386.0 L150.3,386.0 L150.1,388.3 L148.7,388.3 L148.5,391.7 L147.1,391.7 L146.9,393.2 L145.5,393.2 L145.3,392.3 L143.9,392.3 L143.7,393.7 L142.3,393.7 L142.1,395.1 L140.7,395.1 L140.5,396.2 L139.1,396.2 L138.9,398.6 L137.5,398.6 L137.3,398.3 L135.9,398.3 L135.7,400.8 L134.3,400.8 L134.1,400.2 L132.7,400.2 L132.5,398.6 L131.1,398.6 L130.9,400.0 L129.5,400.0 L129.3,399.7 L127.9,399.7 L127.7,400.7 L126.3,400.7 L126.1,400.3 L124.7,400.3 L124.5,400.6 L123.1,400.6 L122.9,401.2 L121.5,401.2 L121.3,402.3 L119.9,402.3 L119.7,403.9 L118.3,403.9 L118.1,403.9 L116.7,403.9 L116.5,402.7 L115.1,402.7 L114.9,405.3 L113.5,405.3 L113.3,406.2 L111.9,406.2 L111.7,406.3 L110.3,406.3 L110.1,406.7 L108.7,406.7 L108.5,404.6 L107.1,404.6 L106.9,406.4 L105.5,406.4 L105.3,405.5 L103.9,405.5 L103.7,408.1 L102.3,408.1 L102.1,406.6 L100.7,406.6 L100.5,408.7 L99.1,408.7 Z" fill="#c3c3c7"/><circle cx="81.0" cy="400.3" r="1.1" fill="#13518a"/><circle cx="82.2" cy="399.9" r="1.1" fill="#13518a"/><circle cx="83.4" cy="404.4" r="1.1" fill="#13518a"/><circle cx="84.6" cy="402.0" r="1.1" fill="#13518a"/><circle cx="85.8" cy="402.1" r="1.1" fill="#13518a"/><circle cx="87.0" cy="402.8" r="1.1" fill="#13518a"/><circle cx="88.2" cy="402.1" r="1.1" fill="#13518a"/><circle cx="89.4" cy="402.2" r="1.1" fill="#13518a"/><circle cx="90.6" cy="404.3" r="1.1" fill="#13518a"/><circle cx="91.8" cy="403.4" r="1.1" fill="#13518a"/><circle cx="93.1" cy="405.0" r="1.1" fill="#13518a"/><circle cx="94.3" cy="404.0" r="1.1" fill="#13518a"/><circle cx="95.5" cy="402.3" r="1.1" fill="#13518a"/><circle cx="96.7" cy="403.0" r="1.1" fill="#13518a"/><circle cx="97.9" cy="403.5" r="1.1" fill="#13518a"/><circle cx="99.1" cy="402.1" r="1.1" fill="#13518a"/><circle cx="100.3" cy="404.1" r="1.1" fill="#13518a"/><circle cx="101.5" cy="403.7" r="1.1" fill="#13518a"/><circle cx="102.7" cy="404.4" r="1.1" fill="#13518a"/><circle cx="103.9" cy="401.9" r="1.1" fill="#13518a"/><circle cx="105.1" cy="402.2" r="1.1" fill="#13518a"/><circle cx="106.3" cy="402.6" r="1.1" fill="#13518a"/><circle cx="107.5" cy="401.8" r="1.1" fill="#13518a"/><circle cx="108.7" cy="399.3" r="1.1" fill="#13518a"/><circle cx="109.9" cy="401.7" r="1.1" fill="#13518a"/><circle cx="111.1" cy="398.8" r="1.1" fill="#13518a"/><circle cx="112.3" cy="400.4" r="1.1" fill="#13518a"/><circle cx="113.5" cy="397.7" r="1.1" fill="#13518a"/><circle cx="114.8" cy="397.0" r="1.1" fill="#13518a"/><circle cx="116.0" cy="395.6" r="1.1" fill="#13518a"/><circle cx="117.2" cy="396.4" r="1.1" fill="#13518a"/><circle cx="118.4" cy="398.7" r="1.1" fill="#13518a"/><circle cx="119.6" cy="394.1" r="1.1" fill="#13518a"/><circle cx="120.8" cy="396.0" r="1.1" fill="#13518a"/><circle cx="122.0" cy="395.2" r="1.1" fill="#13518a"/><circle cx="123.2" cy="392.5" r="1.1" fill="#13518a"/><circle cx="124.4" cy="393.6" r="1.1" fill="#13518a"/><circle cx="125.6" cy="392.4" r="1.1" fill="#13518a"/><circle cx="126.8" cy="389.7" r="1.1" fill="#13518a"/><circle cx="128.0" cy="388.6" r="1.1" fill="#13518a"/><circle cx="129.2" cy="389.7" r="1.1" fill="#13518a"/><circle cx="130.4" cy="388.0" r="1.1" fill="#13518a"/><circle cx="131.6" cy="388.3" r="1.1" fill="#13518a"/><circle cx="132.8" cy="385.4" r="1.1" fill="#13518a"/><circle cx="134.0" cy="382.5" r="1.1" fill="#13518a"/><circle cx="135.2" cy="382.8" r="1.1" fill="#13518a"/><circle cx="136.4" cy="380.4" r="1.1" fill="#13518a"/><circle cx="137.7" cy="380.3" r="1.1" fill="#13518a"/><circle cx="138.9" cy="379.1" r="1.1" fill="#13518a"/><circle cx="140.1" cy="376.6" r="1.1" fill="#13518a"/><circle cx="141.3" cy="374.8" r="1.1" fill="#13518a"/><circle cx="142.5" cy="375.6" r="1.1" fill="#13518a"/><circle cx="143.7" cy="371.6" r="1.1" fill="#13518a"/><circle cx="144.9" cy="372.1" r="1.1" fill="#13518a"/><circle cx="146.1" cy="368.3" r="1.1" fill="#13518a"/><circle cx="147.3" cy="367.8" r="1.1" fill="#13518a"/><circle cx="148.5" cy="365.0" r="1.1" fill="#13518a"/><circle cx="149.7" cy="363.2" r="1.1" fill="#13518a"/><circle cx="150.9" cy="366.3" r="1.1" fill="#13518a"/><circle cx="152.1" cy="363.9" r="1.1" fill="#13518a"/><circle cx="153.3" cy="360.1" r="1.1" fill="#13518a"/><circle cx="154.5" cy="359.4" r="1.1" fill="#13518a"/><circle cx="155.7" cy="355.3" r="1.1" fill="#13518a"/><circle cx="156.9" cy="357.7" r="1.1" fill="#13518a"/><circle cx="158.1" cy="356.4" r="1.1" fill="#13518a"/><circle cx="159.4" cy="353.7" r="1.1" fill="#13518a"/><circle cx="160.6" cy="351.6" r="1.1" fill="#13518a"/><circle cx="161.8" cy="351.2" r="1.1" fill="#13518a"/><circle cx="163.0" cy="350.4" r="1.1" fill="#13518a"/><circle cx="164.2" cy="348.4" r="1.1" fill="#13518a"/><circle cx="165.4" cy="346.8" r="1.1" fill="#13518a"/><circle cx="166.6" cy="345.4" r="1.1" fill="#13518a"/><circle cx="167.8" cy="344.1" r="1.1" fill="#13518a"/><circle cx="169.0" cy="344.5" r="1.1" fill="#13518a"/><circle cx="170.2" cy="342.7" r="1.1" fill="#13518a"/><circle cx="171.4" cy="341.8" r="1.1" fill="#13518a"/><circle cx="172.6" cy="337.6" r="1.1" fill="#13518a"/><circle cx="173.8" cy="338.0" r="1.1" fill="#13518a"/><circle cx="175.0" cy="337.0" r="1.1" fill="#13518a"/><circle cx="176.2" cy="335.8" r="1.1" fill="#13518a"/><circle cx="177.4" cy="335.2" r="1.1" fill="#13518a"/><circle cx="178.6" cy="333.0" r="1.1" fill="#13518a"/><circle cx="179.8" cy="330.5" r="1.1" fill="#13518a"/><circle cx="181.1" cy="332.3" r="1.1" fill="#13518a"/><circle cx="182.3" cy="331.3" r="1.1" fill="#13518a"/><circle cx="183.5" cy="328.6" r="1.1" fill="#13518a"/><circle cx="184.7" cy="327.7" r="1.1" fill="#13518a"/><circle cx="185.9" cy="324.8" r="1.1" fill="#13518a"/><circle cx="187.1" cy="323.3" r="1.1" fill="#13518a"/><circle cx="188.3" cy="323.3" r="1.1" fill="#13518a"/><circle cx="189.5" cy="324.2" r="1.1" fill="#13518a"/><circle cx="190.7" cy="319.9" r="1.1" fill="#13518a"/><circle cx="191.9" cy="317.0" r="1.1" fill="#13518a"/><circle cx="193.1" cy="317.8" r="1.1" fill="#13518a"/><circle cx="194.3" cy="315.7" r="1.1" fill="#13518a"/><circle cx="195.5" cy="313.3" r="1.1" fill="#13518a"/><circle cx="196.7" cy="313.4" r="1.1" fill="#13518a"/><circle cx="197.9" cy="309.9" r="1.1" fill="#13518a"/><circle cx="199.1" cy="308.8" r="1.1" fill="#13518a"/><circle cx="200.3" cy="308.2" r="1.1" fill="#13518a"/><circle cx="201.5" cy="309.2" r="1.1" fill="#13518a"/><circle cx="202.7" cy="307.1" r="1.1" fill="#13518a"/><circle cx="204.0" cy="305.4" r="1.1" fill="#13518a"/><circle cx="205.2" cy="304.4" r="1.1" fill="#13518a"/><circle cx="206.4" cy="305.0" r="1.1" fill="#13518a"/><circle cx="207.6" cy="304.0" r="1.1" fill="#13518a"/><circle cx="208.8" cy="300.9" r="1.1" fill="#13518a"/><circle cx="210.0" cy="301.2" r="1.1" fill="#13518a"/><circle cx="211.2" cy="302.8" r="1.1" fill="#13518a"/><circle cx="212.4" cy="299.9" r="1.1" fill="#13518a"/><circle cx="213.6" cy="297.2" r="1.1" fill="#13518a"/><circle cx="214.8" cy="297.2" r="1.1" fill="#13518a"/><circle cx="216.0" cy="296.1" r="1.1" fill="#13518a"/><circle cx="217.2" cy="296.0" r="1.1" fill="#13518a"/><circle cx="218.4" cy="294.8" r="1.1" fill="#13518a"/><circle cx="219.6" cy="292.3" r="1.1" fill="#13518a"/><circle cx="220.8" cy="292.0" r="1.1" fill="#13518a"/><circle cx="222.0" cy="291.8" r="1.1" fill="#13518a"/><circle cx="223.2" cy="289.8" r="1.1" fill="#13518a"/><circle cx="224.4" cy="290.0" r="1.1" fill="#13518a"/><circle cx="225.7" cy="287.5" r="1.1" fill="#13518a"/><circle cx="226.9" cy="289.3" r="1.1" fill="#13518a"/><circle cx="228.1" cy="289.0" r="1.1" fill="#13518a"/><circle cx="229.3" cy="285.6" r="1.1" fill="#13518a"/><circle cx="230.5" cy="287.0" r="1.1" fill="#13518a"/><circle cx="231.7" cy="285.0" r="1.1" fill="#13518a"/><circle cx="232.9" cy="284.4" r="1.1" fill="#13518a"/><circle cx="234.1" cy="283.5" r="1.1" fill="#13518a"/><circle cx="235.3" cy="283.6" r="1.1" fill="#13518a"/><circle cx="236.5" cy="284.1" r="1.1" fill="#13518a"/><path d="M81.0,399.7 L82.0,400.0 L83.0,400.5 L84.0,400.9 L85.0,401.4 L86.0,401.8 L87.0,402.3 L88.0,402.7 L89.0,403.1 L90.0,403.4 L91.0,403.7 L92.0,403.9 L93.0,404.1 L94.0,404.3 L95.0,404.4 L96.0,404.5 L97.0,404.5 L98.0,404.5 L99.0,404.4 L100.0,404.2 L101.0,404.0 L102.0,403.7 L103.0,403.3 L104.0,402.9 L105.0,402.4 L106.0,401.9 L107.0,401.5 L108.0,401.0 L109.0,400.5 L110.0,400.0 L111.0,399.5 L112.0,399.0 L113.0,398.5 L114.0,398.0 L115.0,397.5 L116.0,397.0 L117.0,396.5 L118.0,396.0 L119.0,395.4 L120.0,394.9 L121.0,394.3 L122.0,393.6 L123.0,393.0 L124.0,392.3 L125.0,391.5 L126.0,390.8 L127.0,390.0 L128.0,389.3 L129.0,388.4 L130.0,387.6 L131.0,386.7 L132.0,385.8 L133.0,384.9 L134.0,383.9 L135.0,382.8 L136.0,381.8 L137.0,380.6 L138.0,379.5 L139.0,378.3 L140.0,377.1 L141.0,375.8 L142.0,374.6 L143.0,373.3 L144.0,372.0 L145.0,370.7 L146.0,369.4 L147.0,368.2 L148.0,366.9 L149.0,365.6 L150.0,364.4 L151.0,363.2 L152.0,362.0 L153.0,360.8 L154.0,359.6 L155.0,358.5 L156.0,357.4 L157.0,356.3 L158.0,355.2 L159.0,354.1 L160.0,353.0 L161.0,352.0 L162.0,350.9 L163.0,349.9 L164.0,348.8 L165.0,347.8 L166.0,346.7 L167.0,345.7 L168.0,344.6 L169.0,343.6 L170.0,342.6 L171.0,341.5 L172.0,340.5 L173.0,339.5 L174.0,338.4 L175.0,337.4 L176.0,336.4 L177.0,335.4 L178.0,334.3 L179.0,333.3 L180.0,332.3 L181.0,331.2 L182.0,330.2 L183.0,329.1 L184.0,328.1 L185.0,327.0 L186.0,325.9 L187.0,324.7 L188.0,323.6 L189.0,322.4 L190.0,321.2 L191.0,320.0 L192.0,318.7 L193.0,317.5 L194.0,316.4 L195.0,315.2 L196.0,314.1 L197.0,313.0 L198.0,311.9 L199.0,310.9 L200.0,309.8 L201.0,308.9 L202.0,307.9 L203.0,306.9 L204.0,306.0 L205.0,305.1 L206.0,304.2 L207.0,303.4 L208.0,302.5 L209.0,301.7 L210.0,300.8 L211.0,300.0 L212.0,299.2 L213.0,298.4 L214.0,297.6 L215.0,296.8 L216.0,295.9 L217.0,295.2 L218.0,294.4 L219.0,293.6 L220.0,292.8 L221.0,292.1 L222.0,291.3 L223.0,290.6 L224.0,289.9 L225.0,289.2 L226.0,288.5 L227.0,287.8 L228.0,287.2 L229.0,286.5 L230.0,285.9 L231.0,285.3 L232.0,284.7 L233.0,284.2 L234.0,283.7 L235.0,283.3 L236.0,282.9" stroke="#13518a" stroke-width="2.7" fill="none" stroke-linejoin="round"/><circle cx="81.0" cy="403.0" r="1.1" fill="#c8102e"/><circle cx="82.2" cy="399.9" r="1.1" fill="#c8102e"/><circle cx="83.4" cy="402.0" r="1.1" fill="#c8102e"/><circle cx="84.6" cy="402.4" r="1.1" fill="#c8102e"/><circle cx="85.8" cy="402.3" r="1.1" fill="#c8102e"/><circle cx="87.0" cy="403.1" r="1.1" fill="#c8102e"/><circle cx="88.2" cy="403.6" r="1.1" fill="#c8102e"/><circle cx="89.4" cy="404.4" r="1.1" fill="#c8102e"/><circle cx="90.6" cy="405.6" r="1.1" fill="#c8102e"/><circle cx="91.8" cy="406.5" r="1.1" fill="#c8102e"/><circle cx="93.1" cy="405.7" r="1.1" fill="#c8102e"/><circle cx="94.3" cy="406.8" r="1.1" fill="#c8102e"/><circle cx="95.5" cy="406.2" r="1.1" fill="#c8102e"/><circle cx="96.7" cy="405.9" r="1.1" fill="#c8102e"/><circle cx="97.9" cy="405.5" r="1.1" fill="#c8102e"/><circle cx="99.1" cy="404.7" r="1.1" fill="#c8102e"/><circle cx="100.3" cy="404.0" r="1.1" fill="#c8102e"/><circle cx="101.5" cy="405.7" r="1.1" fill="#c8102e"/><circle cx="102.7" cy="405.6" r="1.1" fill="#c8102e"/><circle cx="103.9" cy="406.2" r="1.1" fill="#c8102e"/><circle cx="105.1" cy="406.2" r="1.1" fill="#c8102e"/><circle cx="106.3" cy="404.5" r="1.1" fill="#c8102e"/><circle cx="107.5" cy="405.1" r="1.1" fill="#c8102e"/><circle cx="108.7" cy="404.6" r="1.1" fill="#c8102e"/><circle cx="109.9" cy="406.9" r="1.1" fill="#c8102e"/><circle cx="111.1" cy="405.7" r="1.1" fill="#c8102e"/><circle cx="112.3" cy="405.9" r="1.1" fill="#c8102e"/><circle cx="113.5" cy="404.7" r="1.1" fill="#c8102e"/><circle cx="114.8" cy="404.2" r="1.1" fill="#c8102e"/><circle cx="116.0" cy="404.8" r="1.1" fill="#c8102e"/><circle cx="117.2" cy="405.1" r="1.1" fill="#c8102e"/><circle cx="118.4" cy="405.5" r="1.1" fill="#c8102e"/><circle cx="119.6" cy="402.8" r="1.1" fill="#c8102e"/><circle cx="120.8" cy="404.5" r="1.1" fill="#c8102e"/><circle cx="122.0" cy="402.9" r="1.1" fill="#c8102e"/><circle cx="123.2" cy="402.9" r="1.1" fill="#c8102e"/><circle cx="124.4" cy="402.6" r="1.1" fill="#c8102e"/><circle cx="125.6" cy="401.6" r="1.1" fill="#c8102e"/><circle cx="126.8" cy="402.1" r="1.1" fill="#c8102e"/><circle cx="128.0" cy="402.1" r="1.1" fill="#c8102e"/><circle cx="129.2" cy="401.0" r="1.1" fill="#c8102e"/><circle cx="130.4" cy="399.5" r="1.1" fill="#c8102e"/><circle cx="131.6" cy="399.4" r="1.1" fill="#c8102e"/><circle cx="132.8" cy="398.7" r="1.1" fill="#c8102e"/><circle cx="134.0" cy="398.6" r="1.1" fill="#c8102e"/><circle cx="135.2" cy="397.3" r="1.1" fill="#c8102e"/><circle cx="136.4" cy="394.6" r="1.1" fill="#c8102e"/><circle cx="137.7" cy="394.1" r="1.1" fill="#c8102e"/><circle cx="138.9" cy="393.7" r="1.1" fill="#c8102e"/><circle cx="140.1" cy="394.3" r="1.1" fill="#c8102e"/><circle cx="141.3" cy="392.3" r="1.1" fill="#c8102e"/><circle cx="142.5" cy="392.6" r="1.1" fill="#c8102e"/><circle cx="143.7" cy="390.1" r="1.1" fill="#c8102e"/><circle cx="144.9" cy="387.6" r="1.1" fill="#c8102e"/><circle cx="146.1" cy="387.9" r="1.1" fill="#c8102e"/><circle cx="147.3" cy="387.5" r="1.1" fill="#c8102e"/><circle cx="148.5" cy="385.4" r="1.1" fill="#c8102e"/><circle cx="149.7" cy="382.3" r="1.1" fill="#c8102e"/><circle cx="150.9" cy="383.3" r="1.1" fill="#c8102e"/><circle cx="152.1" cy="381.1" r="1.1" fill="#c8102e"/><circle cx="153.3" cy="378.3" r="1.1" fill="#c8102e"/><circle cx="154.5" cy="377.6" r="1.1" fill="#c8102e"/><circle cx="155.7" cy="374.8" r="1.1" fill="#c8102e"/><circle cx="156.9" cy="374.2" r="1.1" fill="#c8102e"/><circle cx="158.1" cy="375.8" r="1.1" fill="#c8102e"/><circle cx="159.4" cy="375.5" r="1.1" fill="#c8102e"/><circle cx="160.6" cy="371.0" r="1.1" fill="#c8102e"/><circle cx="161.8" cy="368.9" r="1.1" fill="#c8102e"/><circle cx="163.0" cy="369.0" r="1.1" fill="#c8102e"/><circle cx="164.2" cy="365.8" r="1.1" fill="#c8102e"/><circle cx="165.4" cy="362.8" r="1.1" fill="#c8102e"/><circle cx="166.6" cy="358.3" r="1.1" fill="#c8102e"/><circle cx="167.8" cy="360.5" r="1.1" fill="#c8102e"/><circle cx="169.0" cy="355.7" r="1.1" fill="#c8102e"/><circle cx="170.2" cy="353.7" r="1.1" fill="#c8102e"/><circle cx="171.4" cy="354.7" r="1.1" fill="#c8102e"/><circle cx="172.6" cy="352.8" r="1.1" fill="#c8102e"/><circle cx="173.8" cy="350.5" r="1.1" fill="#c8102e"/><circle cx="175.0" cy="351.3" r="1.1" fill="#c8102e"/><circle cx="176.2" cy="348.8" r="1.1" fill="#c8102e"/><circle cx="177.4" cy="347.8" r="1.1" fill="#c8102e"/><circle cx="178.6" cy="345.6" r="1.1" fill="#c8102e"/><circle cx="179.8" cy="343.3" r="1.1" fill="#c8102e"/><circle cx="181.1" cy="342.9" r="1.1" fill="#c8102e"/><circle cx="182.3" cy="344.0" r="1.1" fill="#c8102e"/><circle cx="183.5" cy="339.2" r="1.1" fill="#c8102e"/><circle cx="184.7" cy="337.9" r="1.1" fill="#c8102e"/><circle cx="185.9" cy="337.1" r="1.1" fill="#c8102e"/><circle cx="187.1" cy="334.6" r="1.1" fill="#c8102e"/><circle cx="188.3" cy="333.9" r="1.1" fill="#c8102e"/><circle cx="189.5" cy="330.7" r="1.1" fill="#c8102e"/><circle cx="190.7" cy="329.4" r="1.1" fill="#c8102e"/><circle cx="191.9" cy="328.6" r="1.1" fill="#c8102e"/><circle cx="193.1" cy="328.4" r="1.1" fill="#c8102e"/><circle cx="194.3" cy="326.8" r="1.1" fill="#c8102e"/><circle cx="195.5" cy="322.3" r="1.1" fill="#c8102e"/><circle cx="196.7" cy="320.3" r="1.1" fill="#c8102e"/><circle cx="197.9" cy="322.1" r="1.1" fill="#c8102e"/><circle cx="199.1" cy="319.6" r="1.1" fill="#c8102e"/><circle cx="200.3" cy="315.2" r="1.1" fill="#c8102e"/><circle cx="201.5" cy="314.2" r="1.1" fill="#c8102e"/><circle cx="202.7" cy="312.3" r="1.1" fill="#c8102e"/><circle cx="204.0" cy="311.4" r="1.1" fill="#c8102e"/><circle cx="205.2" cy="309.0" r="1.1" fill="#c8102e"/><circle cx="206.4" cy="309.2" r="1.1" fill="#c8102e"/><circle cx="207.6" cy="306.8" r="1.1" fill="#c8102e"/><circle cx="208.8" cy="306.0" r="1.1" fill="#c8102e"/><circle cx="210.0" cy="306.3" r="1.1" fill="#c8102e"/><circle cx="211.2" cy="304.3" r="1.1" fill="#c8102e"/><circle cx="212.4" cy="301.7" r="1.1" fill="#c8102e"/><circle cx="213.6" cy="298.9" r="1.1" fill="#c8102e"/><circle cx="214.8" cy="299.1" r="1.1" fill="#c8102e"/><circle cx="216.0" cy="299.8" r="1.1" fill="#c8102e"/><circle cx="217.2" cy="298.5" r="1.1" fill="#c8102e"/><circle cx="218.4" cy="295.7" r="1.1" fill="#c8102e"/><circle cx="219.6" cy="295.4" r="1.1" fill="#c8102e"/><circle cx="220.8" cy="293.5" r="1.1" fill="#c8102e"/><circle cx="222.0" cy="291.3" r="1.1" fill="#c8102e"/><circle cx="223.2" cy="291.4" r="1.1" fill="#c8102e"/><circle cx="224.4" cy="289.8" r="1.1" fill="#c8102e"/><circle cx="225.7" cy="286.7" r="1.1" fill="#c8102e"/><circle cx="226.9" cy="286.6" r="1.1" fill="#c8102e"/><circle cx="228.1" cy="286.4" r="1.1" fill="#c8102e"/><circle cx="229.3" cy="286.8" r="1.1" fill="#c8102e"/><circle cx="230.5" cy="283.4" r="1.1" fill="#c8102e"/><circle cx="231.7" cy="283.3" r="1.1" fill="#c8102e"/><circle cx="232.9" cy="282.3" r="1.1" fill="#c8102e"/><circle cx="234.1" cy="281.6" r="1.1" fill="#c8102e"/><circle cx="235.3" cy="279.7" r="1.1" fill="#c8102e"/><circle cx="236.5" cy="282.0" r="1.1" fill="#c8102e"/><path d="M81.0,400.6 L82.0,401.1 L83.0,401.6 L84.0,402.2 L85.0,402.7 L86.0,403.3 L87.0,403.7 L88.0,404.2 L89.0,404.6 L90.0,404.9 L91.0,405.1 L92.0,405.3 L93.0,405.5 L94.0,405.6 L95.0,405.7 L96.0,405.8 L97.0,405.8 L98.0,405.8 L99.0,405.8 L100.0,405.8 L101.0,405.8 L102.0,405.8 L103.0,405.9 L104.0,405.9 L105.0,405.9 L106.0,405.9 L107.0,405.9 L108.0,405.9 L109.0,405.9 L110.0,405.9 L111.0,405.9 L112.0,405.8 L113.0,405.8 L114.0,405.7 L115.0,405.6 L116.0,405.5 L117.0,405.3 L118.0,405.1 L119.0,404.8 L120.0,404.6 L121.0,404.2 L122.0,403.9 L123.0,403.5 L124.0,403.1 L125.0,402.6 L126.0,402.2 L127.0,401.7 L128.0,401.2 L129.0,400.7 L130.0,400.1 L131.0,399.6 L132.0,399.0 L133.0,398.4 L134.0,397.8 L135.0,397.1 L136.0,396.4 L137.0,395.7 L138.0,395.0 L139.0,394.2 L140.0,393.4 L141.0,392.6 L142.0,391.7 L143.0,390.8 L144.0,389.9 L145.0,388.9 L146.0,388.0 L147.0,387.0 L148.0,386.0 L149.0,385.0 L150.0,384.0 L151.0,382.9 L152.0,381.8 L153.0,380.7 L154.0,379.5 L155.0,378.3 L156.0,377.0 L157.0,375.7 L158.0,374.3 L159.0,372.9 L160.0,371.4 L161.0,370.0 L162.0,368.5 L163.0,367.0 L164.0,365.5 L165.0,364.0 L166.0,362.5 L167.0,361.1 L168.0,359.6 L169.0,358.2 L170.0,356.8 L171.0,355.5 L172.0,354.1 L173.0,352.8 L174.0,351.5 L175.0,350.2 L176.0,348.9 L177.0,347.7 L178.0,346.5 L179.0,345.2 L180.0,344.0 L181.0,342.8 L182.0,341.6 L183.0,340.3 L184.0,339.1 L185.0,337.8 L186.0,336.6 L187.0,335.3 L188.0,334.0 L189.0,332.7 L190.0,331.3 L191.0,330.0 L192.0,328.6 L193.0,327.2 L194.0,325.8 L195.0,324.4 L196.0,323.0 L197.0,321.6 L198.0,320.1 L199.0,318.7 L200.0,317.3 L201.0,316.0 L202.0,314.6 L203.0,313.4 L204.0,312.1 L205.0,310.9 L206.0,309.7 L207.0,308.6 L208.0,307.5 L209.0,306.4 L210.0,305.2 L211.0,304.1 L212.0,303.0 L213.0,301.9 L214.0,300.8 L215.0,299.7 L216.0,298.6 L217.0,297.5 L218.0,296.4 L219.0,295.2 L220.0,294.1 L221.0,293.1 L222.0,292.0 L223.0,291.0 L224.0,289.9 L225.0,289.0 L226.0,288.0 L227.0,287.1 L228.0,286.2 L229.0,285.4 L230.0,284.6 L231.0,283.8 L232.0,283.0 L233.0,282.3 L234.0,281.7 L235.0,281.1 L236.0,280.6" stroke="#c8102e" stroke-width="2.7" fill="none" stroke-linejoin="round"/><circle cx="95.0" cy="273.0" r="2.5" fill="#c8102e"/><circle cx="95.0" cy="289.2" r="2.5" fill="#13518a"/><text x="103.4" y="276.6" font-size="11.8" text-anchor="start" textLength="35.5" lengthAdjust="spacingAndGlyphs" fill="#1a1a1a">Vehicle</text><text x="103.4" y="292.6" font-size="11.8" text-anchor="start" textLength="63.8" lengthAdjust="spacingAndGlyphs" fill="#1a1a1a">APC Ab1609</text><line x1="365.2" y1="40.2" x2="365.2" y2="191.0" stroke="#111" stroke-width="1.4"/><line x1="364.5" y1="190.3" x2="506.5" y2="190.3" stroke="#111" stroke-width="1.4"/><line x1="360.8" y1="190.3" x2="365.2" y2="190.3" stroke="#111" stroke-width="1.4"/><line x1="360.8" y1="162.0" x2="365.2" y2="162.0" stroke="#111" stroke-width="1.4"/><line x1="360.8" y1="133.70000000000002" x2="365.2" y2="133.70000000000002" stroke="#111" stroke-width="1.4"/><line x1="360.8" y1="105.4" x2="365.2" y2="105.4" stroke="#111" stroke-width="1.4"/><line x1="360.8" y1="77.10000000000001" x2="365.2" y2="77.10000000000001" stroke="#111" stroke-width="1.4"/><line x1="360.8" y1="48.80000000000001" x2="365.2" y2="48.80000000000001" stroke="#111" stroke-width="1.4"/><text x="349.5" y="194.4" font-size="10.2" text-anchor="start" textLength="7.1" lengthAdjust="spacingAndGlyphs" fill="#1a1a1a">0</text><text x="325.5" y="168.15" font-size="10.2" text-anchor="start" textLength="24.9" lengthAdjust="spacingAndGlyphs" fill="#1a1a1a">2×10</text><text x="350.7" y="163.1" font-size="8.0" text-anchor="start" textLength="6.0" lengthAdjust="spacingAndGlyphs" fill="#1a1a1a">6</text><text x="325.5" y="139.55" font-size="10.2" text-anchor="start" textLength="24.9" lengthAdjust="spacingAndGlyphs" fill="#1a1a1a">4×10</text><text x="350.7" y="134.5" font-size="8.0" text-anchor="start" textLength="6.0" lengthAdjust="spacingAndGlyphs" fill="#1a1a1a">6</text><text x="325.5" y="110.35" font-size="10.2" text-anchor="start" textLength="24.9" lengthAdjust="spacingAndGlyphs" fill="#1a1a1a">6×10</text><text x="350.7" y="105.3" font-size="8.0" text-anchor="start" textLength="6.0" lengthAdjust="spacingAndGlyphs" fill="#1a1a1a">6</text><text x="325.5" y="81.25" font-size="10.2" text-anchor="start" textLength="24.9" lengthAdjust="spacingAndGlyphs" fill="#1a1a1a">8×10</text><text x="350.7" y="76.2" font-size="8.0" text-anchor="start" textLength="6.0" lengthAdjust="spacingAndGlyphs" fill="#1a1a1a">6</text><text x="325.5" y="52.449999999999996" font-size="10.2" text-anchor="start" textLength="24.9" lengthAdjust="spacingAndGlyphs" fill="#1a1a1a">1×10</text><text x="350.7" y="47.4" font-size="8.0" text-anchor="start" textLength="6.0" lengthAdjust="spacingAndGlyphs" fill="#1a1a1a">7</text><rect x="377.8" y="129.4" width="45.8" height="60.900000000000006" fill="#c8102e"/><rect x="449.4" y="73.8" width="46.2" height="116.50000000000001" fill="#13518a"/><line x1="400.6" y1="117.3" x2="400.6" y2="140.4" stroke="#111" stroke-width="1.4"/><line x1="393.6" y1="117.3" x2="407.6" y2="117.3" stroke="#111" stroke-width="1.4"/><line x1="393.6" y1="140.4" x2="407.6" y2="140.4" stroke="#111" stroke-width="1.4"/><line x1="472.4" y1="63.9" x2="472.4" y2="81.9" stroke="#111" stroke-width="1.4"/><line x1="465.4" y1="63.9" x2="479.4" y2="63.9" stroke="#111" stroke-width="1.4"/><line x1="465.4" y1="81.9" x2="479.4" y2="81.9" stroke="#111" stroke-width="1.4"/><path d="M400.6,57.9 V52.4 H472.4 V57.9" stroke="#111" stroke-width="1.3" fill="none"/><text x="438.6" y="48.3" font-size="10.6" text-anchor="middle" textLength="31.5" lengthAdjust="spacingAndGlyphs" fill="#1a1a1a">0.0041</text><text x="394.8" y="31.3" font-size="14.6" text-anchor="start" textLength="88.8" lengthAdjust="spacingAndGlyphs" fill="#1a1a1a">Platelets 180s</text><text x="400.8" y="204.3" font-size="12.2" text-anchor="middle" textLength="38.0" lengthAdjust="spacingAndGlyphs" fill="#1a1a1a">Vehicle</text><text x="472.2" y="204.3" font-size="12.2" text-anchor="middle" textLength="49.4" lengthAdjust="spacingAndGlyphs" fill="#1a1a1a">APC1609</text><text x="317.4" y="119.0" font-size="12.6" text-anchor="middle" textLength="132.0" lengthAdjust="spacingAndGlyphs" transform="rotate(-90 317.4 119.0)" fill="#1a1a1a">Platelet sum intensity (AU)</text><line x1="365.2" y1="257.0" x2="365.2" y2="408.2" stroke="#111" stroke-width="1.4"/><line x1="364.5" y1="407.5" x2="506.5" y2="407.5" stroke="#111" stroke-width="1.4"/><line x1="360.8" y1="407.5" x2="365.2" y2="407.5" stroke="#111" stroke-width="1.4"/><line x1="360.8" y1="360.0" x2="365.2" y2="360.0" stroke="#111" stroke-width="1.4"/><line x1="360.8" y1="312.5" x2="365.2" y2="312.5" stroke="#111" stroke-width="1.4"/><line x1="360.8" y1="265.0" x2="365.2" y2="265.0" stroke="#111" stroke-width="1.4"/><text x="349.40000000000003" y="410.85" font-size="10.2" text-anchor="start" textLength="7.1" lengthAdjust="spacingAndGlyphs" fill="#1a1a1a">0</text><text x="324.8" y="365.90000000000003" font-size="10.2" text-anchor="start" textLength="25.2" lengthAdjust="spacingAndGlyphs" fill="#1a1a1a">2×10</text><text x="350.3" y="360.85" font-size="8.0" text-anchor="start" textLength="6.3" lengthAdjust="spacingAndGlyphs" fill="#1a1a1a">6</text><text x="324.8" y="317.85" font-size="10.2" text-anchor="start" textLength="25.2" lengthAdjust="spacingAndGlyphs" fill="#1a1a1a">4×10</text><text x="350.3" y="312.8" font-size="8.0" text-anchor="start" textLength="6.3" lengthAdjust="spacingAndGlyphs" fill="#1a1a1a">6</text><text x="324.8" y="270.6" font-size="10.2" text-anchor="start" textLength="25.2" lengthAdjust="spacingAndGlyphs" fill="#1a1a1a">6×10</text><text x="350.3" y="265.55" font-size="8.0" text-anchor="start" textLength="6.3" lengthAdjust="spacingAndGlyphs" fill="#1a1a1a">6</text><rect x="377.8" y="368.6" width="45.8" height="38.89999999999998" fill="#c8102e"/><rect x="449.4" y="311.6" width="46.2" height="95.89999999999998" fill="#13518a"/><line x1="400.6" y1="358.3" x2="400.6" y2="377.0" stroke="#111" stroke-width="1.4"/><line x1="393.6" y1="358.3" x2="407.6" y2="358.3" stroke="#111" stroke-width="1.4"/><line x1="393.6" y1="377.0" x2="407.6" y2="377.0" stroke="#111" stroke-width="1.4"/><line x1="472.4" y1="292.0" x2="472.4" y2="328.8" stroke="#111" stroke-width="1.4"/><line x1="465.4" y1="292.0" x2="479.4" y2="292.0" stroke="#111" stroke-width="1.4"/><line x1="465.4" y1="328.8" x2="479.4" y2="328.8" stroke="#111" stroke-width="1.4"/><path d="M400.6,287.1 V281.6 H472.4 V287.1" stroke="#111" stroke-width="1.3" fill="none"/><text x="438.6" y="276.3" font-size="10.6" text-anchor="middle" textLength="32.5" lengthAdjust="spacingAndGlyphs" fill="#1a1a1a">0.0379</text><text x="403.6" y="250.4" font-size="14.6" text-anchor="start" textLength="71.8" lengthAdjust="spacingAndGlyphs" fill="#1a1a1a">Fibrin 180s</text><text x="400.8" y="421.5" font-size="12.2" text-anchor="middle" textLength="38.0" lengthAdjust="spacingAndGlyphs" fill="#1a1a1a">Vehicle</text><text x="472.2" y="421.5" font-size="12.2" text-anchor="middle" textLength="49.4" lengthAdjust="spacingAndGlyphs" fill="#1a1a1a">APC1609</text><text x="317.4" y="335.5" font-size="12.6" text-anchor="middle" textLength="123.0" lengthAdjust="spacingAndGlyphs" transform="rotate(-90 317.4 335.5)" fill="#1a1a1a">Fibrin sum intensity (AU)</text><text x="21.5" y="542.8" font-size="15.0" text-anchor="middle" textLength="46.0" lengthAdjust="spacingAndGlyphs" transform="rotate(-90 21.5 542.8)" fill="#1a1a1a">Vehicle</text><text x="21.4" y="716.4" font-size="14.6" text-anchor="middle" textLength="59.2" lengthAdjust="spacingAndGlyphs" transform="rotate(-90 21.4 716.4)" fill="#1a1a1a">APC1609</text>
<defs><filter id="b0_5" x="-30%" y="-30%" width="160%" height="160%"><feGaussianBlur stdDeviation="0.5"/></filter><filter id="b0_8" x="-30%" y="-30%" width="160%" height="160%"><feGaussianBlur stdDeviation="0.8"/></filter><filter id="b1" x="-30%" y="-30%" width="160%" height="160%"><feGaussianBlur stdDeviation="1"/></filter><filter id="b1_5" x="-30%" y="-30%" width="160%" height="160%"><feGaussianBlur stdDeviation="1.5"/></filter><filter id="b2" x="-30%" y="-30%" width="160%" height="160%"><feGaussianBlur stdDeviation="2"/></filter><filter id="b3" x="-30%" y="-30%" width="160%" height="160%"><feGaussianBlur stdDeviation="3"/></filter><filter id="b4" x="-30%" y="-30%" width="160%" height="160%"><feGaussianBlur stdDeviation="4"/></filter><filter id="b6" x="-30%" y="-30%" width="160%" height="160%"><feGaussianBlur stdDeviation="6"/></filter><filter id="b8" x="-30%" y="-30%" width="160%" height="160%"><feGaussianBlur stdDeviation="8"/></filter><filter id="gr1" x="0" y="0" width="100%" height="100%"><feTurbulence type="fractalNoise" baseFrequency="0.7" numOctaves="2" seed="3"/><feColorMatrix type="matrix" values="0 0 0 0 0  0 0 0 0 0  0 0 0 0 0  1.2 0 0 0 -0.35"/></filter><filter id="gr1w" x="0" y="0" width="100%" height="100%"><feTurbulence type="fractalNoise" baseFrequency="0.7" numOctaves="2" seed="53"/><feColorMatrix type="matrix" values="0 0 0 0 1  0 0 0 0 1  0 0 0 0 1  1.2 0 0 0 -0.35"/></filter><filter id="gr2" x="0" y="0" width="100%" height="100%"><feTurbulence type="fractalNoise" baseFrequency="0.35" numOctaves="3" seed="7"/><feColorMatrix type="matrix" values="0 0 0 0 0  0 0 0 0 0  0 0 0 0 0  1.2 0 0 0 -0.35"/></filter><filter id="gr2w" x="0" y="0" width="100%" height="100%"><feTurbulence type="fractalNoise" baseFrequency="0.35" numOctaves="3" seed="57"/><feColorMatrix type="matrix" values="0 0 0 0 1  0 0 0 0 1  0 0 0 0 1  1.2 0 0 0 -0.35"/></filter><filter id="gr3" x="0" y="0" width="100%" height="100%"><feTurbulence type="fractalNoise" baseFrequency="0.15" numOctaves="3" seed="11"/><feColorMatrix type="matrix" values="0 0 0 0 0  0 0 0 0 0  0 0 0 0 0  1.2 0 0 0 -0.35"/></filter><filter id="gr3w" x="0" y="0" width="100%" height="100%"><feTurbulence type="fractalNoise" baseFrequency="0.15" numOctaves="3" seed="61"/><feColorMatrix type="matrix" values="0 0 0 0 1  0 0 0 0 1  0 0 0 0 1  1.2 0 0 0 -0.35"/></filter><filter id="txC" x="0" y="0" width="100%" height="100%" color-interpolation-filters="sRGB"><feTurbulence type="fractalNoise" baseFrequency="0.3" numOctaves="3" seed="3" result="n"/><feColorMatrix in="n" type="matrix" values="1 0 0 0 0  1 0 0 0 0  1 0 0 0 0  0 0 0 0 1" result="g"/><feComposite in="SourceGraphic" in2="g" operator="arithmetic" k1="0" k2="1" k3="0.32" k4="-0.16" result="c"/><feComposite in="c" in2="SourceGraphic" operator="in"/></filter><filter id="txCs" x="0" y="0" width="100%" height="100%" color-interpolation-filters="sRGB"><feTurbulence type="fractalNoise" baseFrequency="0.45" numOctaves="2" seed="4" result="n"/><feColorMatrix in="n" type="matrix" values="1 0 0 0 0  1 0 0 0 0  1 0 0 0 0  0 0 0 0 1" result="g"/><feComposite in="SourceGraphic" in2="g" operator="arithmetic" k1="0" k2="1" k3="0.5" k4="-0.25" result="c"/><feComposite in="c" in2="SourceGraphic" operator="in"/></filter><filter id="txD" x="0" y="0" width="100%" height="100%" color-interpolation-filters="sRGB"><feTurbulence type="fractalNoise" baseFrequency="0.2" numOctaves="3" seed="5" result="n"/><feColorMatrix in="n" type="matrix" values="1 0 0 0 0  1 0 0 0 0  1 0 0 0 0  0 0 0 0 1" result="g"/><feComposite in="SourceGraphic" in2="g" operator="arithmetic" k1="0" k2="1" k3="0.35" k4="-0.175" result="c"/><feComposite in="c" in2="SourceGraphic" operator="in"/></filter><filter id="txDb" x="0" y="0" width="100%" height="100%" color-interpolation-filters="sRGB"><feTurbulence type="fractalNoise" baseFrequency="0.45" numOctaves="2" seed="6" result="n"/><feColorMatrix in="n" type="matrix" values="1 0 0 0 0  1 0 0 0 0  1 0 0 0 0  0 0 0 0 1" result="g"/><feComposite in="SourceGraphic" in2="g" operator="arithmetic" k1="0" k2="1" k3="0.6" k4="-0.3" result="c"/><feComposite in="c" in2="SourceGraphic" operator="in"/></filter><filter id="txE" x="0" y="0" width="100%" height="100%" color-interpolation-filters="sRGB"><feTurbulence type="fractalNoise" baseFrequency="0.3" numOctaves="2" seed="7" result="n"/><feColorMatrix in="n" type="matrix" values="1 0 0 0 0  1 0 0 0 0  1 0 0 0 0  0 0 0 0 1" result="g"/><feComposite in="SourceGraphic" in2="g" operator="arithmetic" k1="0" k2="1" k3="0.3" k4="-0.15" result="c"/><feComposite in="c" in2="SourceGraphic" operator="in"/></filter><filter id="txEc" x="0" y="0" width="100%" height="100%" color-interpolation-filters="sRGB"><feTurbulence type="fractalNoise" baseFrequency="0.22" numOctaves="3" seed="8" result="n"/><feColorMatrix in="n" type="matrix" values="1 0 0 0 0  1 0 0 0 0  1 0 0 0 0  0 0 0 0 1" result="g"/><feComposite in="SourceGraphic" in2="g" operator="arithmetic" k1="0" k2="1" k3="0.75" k4="-0.375" result="c"/><feComposite in="c" in2="SourceGraphic" operator="in"/></filter><filter id="txF" x="0" y="0" width="100%" height="100%" color-interpolation-filters="sRGB"><feTurbulence type="fractalNoise" baseFrequency="0.3" numOctaves="2" seed="9" result="n"/><feColorMatrix in="n" type="matrix" values="1 0 0 0 0  1 0 0 0 0  1 0 0 0 0  0 0 0 0 1" result="g"/><feComposite in="SourceGraphic" in2="g" operator="arithmetic" k1="0" k2="1" k3="0.6" k4="-0.3" result="c"/><feComposite in="c" in2="SourceGraphic" operator="in"/></filter><filter id="dsp" x="-5%" y="-5%" width="110%" height="110%" color-interpolation-filters="sRGB"><feTurbulence type="fractalNoise" baseFrequency="0.18" numOctaves="2" seed="21" result="t"/><feDisplacementMap in="SourceGraphic" in2="t" scale="3.5" xChannelSelector="R" yChannelSelector="G" result="d0"/><feGaussianBlur in="d0" stdDeviation="0.35" result="d"/><feTurbulence type="fractalNoise" baseFrequency="0.45" numOctaves="2" seed="6" result="n"/><feColorMatrix in="n" type="matrix" values="1 0 0 0 0  1 0 0 0 0  1 0 0 0 0  0 0 0 0 1" result="g"/><feComposite in="d" in2="g" operator="arithmetic" k1="0" k2="1" k3="0.4" k4="-0.2" result="c"/><feComposite in="c" in2="d" operator="in"/></filter><filter id="dsp2" x="-5%" y="-5%" width="110%" height="110%"><feTurbulence type="fractalNoise" baseFrequency="0.06" numOctaves="2" seed="31" result="t"/><feDisplacementMap in="SourceGraphic" in2="t" scale="7" xChannelSelector="R" yChannelSelector="G"/></filter><pattern id="spA" width="47" height="41" patternUnits="userSpaceOnUse"><circle cx="6.3" cy="34.7" r="0.83" fill="#f0f0f0" opacity="0.70"/><circle cx="23.3" cy="18.4" r="0.78" fill="#f0f0f0" opacity="0.92"/><circle cx="4.4" cy="1.2" r="0.87" fill="#f0f0f0" opacity="0.77"/><circle cx="35.8" cy="0.1" r="0.67" fill="#f0f0f0" opacity="0.89"/><circle cx="35.8" cy="41.1" r="0.67" fill="#f0f0f0" opacity="0.89"/><circle cx="10.8" cy="38.8" r="0.90" fill="#f0f0f0" opacity="0.61"/><circle cx="1.2" cy="22.2" r="0.92" fill="#f0f0f0" opacity="0.75"/><circle cx="10.2" cy="17.3" r="0.46" fill="#f0f0f0" opacity="0.69"/><circle cx="20.6" cy="20.3" r="0.57" fill="#f0f0f0" opacity="0.69"/><circle cx="10.3" cy="18.8" r="0.59" fill="#f0f0f0" opacity="0.61"/><circle cx="39.4" cy="22.8" r="0.77" fill="#f0f0f0" opacity="0.67"/><circle cx="-0.4" cy="35.3" r="0.51" fill="#f0f0f0" opacity="0.73"/><circle cx="46.6" cy="35.3" r="0.51" fill="#f0f0f0" opacity="0.73"/><circle cx="33.9" cy="29.2" r="0.92" fill="#f0f0f0" opacity="0.77"/><circle cx="39.0" cy="27.5" r="0.60" fill="#f0f0f0" opacity="0.84"/><circle cx="41.5" cy="34.7" r="0.70" fill="#f0f0f0" opacity="0.84"/><circle cx="1.6" cy="10.0" r="0.85" fill="#f0f0f0" opacity="0.77"/><circle cx="8.1" cy="22.5" r="0.80" fill="#f0f0f0" opacity="0.87"/><circle cx="17.6" cy="18.0" r="0.70" fill="#f0f0f0" opacity="0.91"/><circle cx="24.5" cy="16.1" r="0.69" fill="#f0f0f0" opacity="0.61"/><circle cx="2.0" cy="28.8" r="0.94" fill="#f0f0f0" opacity="0.84"/><circle cx="18.5" cy="7.0" r="0.70" fill="#f0f0f0" opacity="0.99"/><circle cx="36.2" cy="22.1" r="0.88" fill="#f0f0f0" opacity="0.69"/><circle cx="24.1" cy="39.1" r="0.74" fill="#f0f0f0" opacity="0.78"/><circle cx="12.7" cy="22.5" r="0.93" fill="#f0f0f0" opacity="0.60"/><circle cx="36.8" cy="33.6" r="0.89" fill="#f0f0f0" opacity="0.90"/><circle cx="38.0" cy="21.3" r="0.73" fill="#f0f0f0" opacity="0.77"/><circle cx="2.6" cy="35.7" r="0.73" fill="#f0f0f0" opacity="0.68"/><circle cx="23.7" cy="19.9" r="0.63" fill="#f0f0f0" opacity="0.74"/><circle cx="25.3" cy="25.6" r="0.76" fill="#f0f0f0" opacity="0.78"/><circle cx="1.3" cy="9.4" r="0.54" fill="#f0f0f0" opacity="0.83"/><circle cx="40.5" cy="32.7" r="0.85" fill="#f0f0f0" opacity="0.93"/><circle cx="12.0" cy="34.5" r="0.79" fill="#f0f0f0" opacity="0.63"/><circle cx="0.8" cy="0.6" r="0.83" fill="#f0f0f0" opacity="0.70"/><circle cx="0.8" cy="41.6" r="0.83" fill="#f0f0f0" opacity="0.70"/><circle cx="47.8" cy="0.6" r="0.83" fill="#f0f0f0" opacity="0.70"/><circle cx="47.8" cy="41.6" r="0.83" fill="#f0f0f0" opacity="0.70"/><circle cx="5.1" cy="25.6" r="0.62" fill="#f0f0f0" opacity="0.63"/><circle cx="7.5" cy="21.6" r="0.53" fill="#f0f0f0" opacity="0.71"/><circle cx="33.4" cy="18.6" r="0.61" fill="#f0f0f0" opacity="0.79"/><circle cx="1.1" cy="15.8" r="0.66" fill="#f0f0f0" opacity="0.68"/><circle cx="5.1" cy="36.9" r="0.71" fill="#f0f0f0" opacity="0.68"/><circle cx="28.5" cy="33.5" r="0.46" fill="#f0f0f0" opacity="0.61"/><circle cx="6.9" cy="29.5" r="0.53" fill="#f0f0f0" opacity="0.88"/><circle cx="31.9" cy="22.3" r="0.56" fill="#f0f0f0" opacity="0.99"/><circle cx="37.5" cy="21.2" r="0.56" fill="#f0f0f0" opacity="0.86"/><circle cx="18.6" cy="23.6" r="0.61" fill="#f0f0f0" opacity="0.85"/><circle cx="2.8" cy="12.2" r="0.93" fill="#f0f0f0" opacity="0.95"/><circle cx="14.4" cy="35.2" r="0.61" fill="#f0f0f0" opacity="0.98"/><circle cx="35.0" cy="17.1" r="0.58" fill="#f0f0f0" opacity="0.60"/><circle cx="41.3" cy="1.6" r="0.86" fill="#f0f0f0" opacity="0.98"/><circle cx="26.8" cy="7.0" r="0.88" fill="#f0f0f0" opacity="0.99"/><circle cx="33.1" cy="20.9" r="0.64" fill="#f0f0f0" opacity="0.74"/><circle cx="9.7" cy="27.6" r="0.67" fill="#f0f0f0" opacity="0.68"/><circle cx="4.9" cy="27.3" r="0.60" fill="#f0f0f0" opacity="0.80"/><circle cx="15.3" cy="35.7" r="0.90" fill="#f0f0f0" opacity="0.61"/><circle cx="9.4" cy="13.4" r="0.94" fill="#f0f0f0" opacity="0.91"/><circle cx="15.9" cy="8.7" r="0.79" fill="#f0f0f0" opacity="0.94"/><circle cx="43.8" cy="14.1" r="0.89" fill="#f0f0f0" opacity="0.87"/><circle cx="22.8" cy="40.4" r="0.57" fill="#f0f0f0" opacity="0.89"/><circle cx="4.0" cy="7.0" r="0.91" fill="#f0f0f0" opacity="0.69"/><circle cx="35.7" cy="24.6" r="0.87" fill="#f0f0f0" opacity="0.75"/><circle cx="16.0" cy="11.9" r="0.88" fill="#f0f0f0" opacity="0.84"/><circle cx="44.9" cy="36.4" r="0.52" fill="#f0f0f0" opacity="0.82"/><circle cx="4.9" cy="1.6" r="0.49" fill="#f0f0f0" opacity="0.95"/><circle cx="37.0" cy="34.0" r="0.62" fill="#f0f0f0" opacity="0.85"/><circle cx="36.7" cy="15.5" r="0.74" fill="#f0f0f0" opacity="0.69"/><circle cx="3.8" cy="10.9" r="0.90" fill="#f0f0f0" opacity="0.83"/><circle cx="43.5" cy="18.8" r="0.59" fill="#f0f0f0" opacity="0.91"/><circle cx="38.9" cy="0.5" r="0.79" fill="#f0f0f0" opacity="0.64"/><circle cx="38.9" cy="41.5" r="0.79" fill="#f0f0f0" opacity="0.64"/><circle cx="5.4" cy="36.3" r="0.47" fill="#f0f0f0" opacity="0.70"/><circle cx="46.4" cy="17.3" r="0.51" fill="#f0f0f0" opacity="0.67"/><circle cx="11.3" cy="30.5" r="0.50" fill="#f0f0f0" opacity="0.96"/><circle cx="17.8" cy="39.8" r="0.90" fill="#f0f0f0" opacity="0.72"/><circle cx="11.9" cy="19.6" r="0.50" fill="#f0f0f0" opacity="0.86"/><circle cx="1.9" cy="0.4" r="0.94" fill="#f0f0f0" opacity="0.72"/><circle cx="1.9" cy="41.4" r="0.94" fill="#f0f0f0" opacity="0.72"/><circle cx="28.0" cy="18.4" r="0.61" fill="#f0f0f0" opacity="0.63"/><circle cx="42.9" cy="39.8" r="0.93" fill="#f0f0f0" opacity="0.64"/><circle cx="10.1" cy="25.3" r="0.94" fill="#f0f0f0" opacity="0.82"/><circle cx="32.3" cy="27.1" r="0.58" fill="#f0f0f0" opacity="0.82"/><circle cx="14.4" cy="10.1" r="0.49" fill="#f0f0f0" opacity="0.71"/><circle cx="46.2" cy="18.4" r="0.78" fill="#f0f0f0" opacity="0.86"/><circle cx="44.2" cy="16.0" r="0.60" fill="#f0f0f0" opacity="0.73"/><circle cx="14.9" cy="34.7" r="0.90" fill="#f0f0f0" opacity="0.72"/><circle cx="15.7" cy="22.3" r="0.74" fill="#f0f0f0" opacity="0.84"/><circle cx="11.5" cy="0.8" r="0.57" fill="#f0f0f0" opacity="0.63"/><circle cx="25.9" cy="2.9" r="0.49" fill="#f0f0f0" opacity="0.85"/><circle cx="13.7" cy="32.5" r="0.70" fill="#f0f0f0" opacity="0.95"/><circle cx="7.2" cy="20.6" r="0.85" fill="#f0f0f0" opacity="0.63"/><circle cx="44.6" cy="7.1" r="0.84" fill="#f0f0f0" opacity="0.99"/><circle cx="38.6" cy="13.1" r="0.50" fill="#f0f0f0" opacity="0.81"/><circle cx="43.2" cy="12.0" r="0.90" fill="#f0f0f0" opacity="0.66"/><circle cx="42.8" cy="1.3" r="0.61" fill="#f0f0f0" opacity="0.96"/><circle cx="37.8" cy="37.2" r="0.87" fill="#f0f0f0" opacity="0.90"/><circle cx="32.4" cy="7.3" r="0.67" fill="#f0f0f0" opacity="0.66"/><circle cx="33.6" cy="27.4" r="0.58" fill="#f0f0f0" opacity="0.63"/><circle cx="45.3" cy="33.1" r="0.72" fill="#f0f0f0" opacity="0.82"/><circle cx="40.0" cy="18.6" r="0.65" fill="#f0f0f0" opacity="0.74"/><circle cx="12.1" cy="1.0" r="0.77" fill="#f0f0f0" opacity="0.77"/><circle cx="26.8" cy="2.6" r="0.63" fill="#f0f0f0" opacity="0.66"/><circle cx="5.9" cy="10.6" r="0.86" fill="#f0f0f0" opacity="0.76"/><circle cx="18.9" cy="25.1" r="0.57" fill="#f0f0f0" opacity="0.60"/><circle cx="24.8" cy="20.5" r="0.77" fill="#f0f0f0" opacity="0.78"/><circle cx="32.3" cy="30.0" r="0.57" fill="#f0f0f0" opacity="0.80"/><circle cx="22.5" cy="9.2" r="0.66" fill="#f0f0f0" opacity="0.82"/><circle cx="42.6" cy="37.6" r="0.59" fill="#f0f0f0" opacity="0.86"/><circle cx="2.3" cy="2.9" r="0.71" fill="#f0f0f0" opacity="0.95"/><circle cx="7.5" cy="31.4" r="0.89" fill="#f0f0f0" opacity="0.72"/><circle cx="32.6" cy="34.8" r="0.64" fill="#f0f0f0" opacity="0.88"/><circle cx="34.6" cy="24.4" r="0.88" fill="#f0f0f0" opacity="0.96"/><circle cx="45.1" cy="23.4" r="0.54" fill="#f0f0f0" opacity="0.70"/><circle cx="10.2" cy="23.4" r="0.83" fill="#f0f0f0" opacity="0.62"/><circle cx="32.0" cy="29.4" r="0.62" fill="#f0f0f0" opacity="0.81"/><circle cx="7.7" cy="29.9" r="0.47" fill="#f0f0f0" opacity="0.99"/><circle cx="38.0" cy="25.8" r="0.58" fill="#f0f0f0" opacity="0.97"/><circle cx="45.1" cy="5.7" r="0.84" fill="#f0f0f0" opacity="0.94"/><circle cx="31.0" cy="28.7" r="0.67" fill="#f0f0f0" opacity="0.97"/><circle cx="45.6" cy="15.7" r="0.85" fill="#f0f0f0" opacity="0.77"/><circle cx="7.7" cy="13.3" r="0.51" fill="#f0f0f0" opacity="0.96"/><circle cx="45.1" cy="4.9" r="0.75" fill="#f0f0f0" opacity="0.76"/><circle cx="5.6" cy="12.1" r="0.57" fill="#f0f0f0" opacity="0.90"/><circle cx="0.2" cy="7.8" r="0.67" fill="#f0f0f0" opacity="0.61"/><circle cx="47.2" cy="7.8" r="0.67" fill="#f0f0f0" opacity="0.61"/><circle cx="29.5" cy="24.8" r="0.87" fill="#f0f0f0" opacity="0.68"/><circle cx="13.4" cy="22.2" r="0.59" fill="#f0f0f0" opacity="0.83"/><circle cx="11.8" cy="28.0" r="0.85" fill="#f0f0f0" opacity="0.92"/><circle cx="45.8" cy="22.4" r="0.70" fill="#f0f0f0" opacity="0.94"/><circle cx="36.1" cy="23.4" r="0.64" fill="#f0f0f0" opacity="0.71"/><circle cx="5.1" cy="33.1" r="0.51" fill="#f0f0f0" opacity="0.90"/><circle cx="25.6" cy="39.6" r="0.83" fill="#f0f0f0" opacity="0.99"/><circle cx="6.4" cy="20.5" r="0.74" fill="#f0f0f0" opacity="0.72"/><circle cx="23.6" cy="14.6" r="0.71" fill="#f0f0f0" opacity="0.60"/><circle cx="20.8" cy="18.4" r="0.60" fill="#f0f0f0" opacity="0.76"/><circle cx="36.8" cy="28.0" r="0.70" fill="#f0f0f0" opacity="0.86"/><circle cx="17.7" cy="8.4" r="0.45" fill="#f0f0f0" opacity="0.71"/><circle cx="28.1" cy="36.1" r="0.86" fill="#f0f0f0" opacity="0.80"/><circle cx="-0.6" cy="18.9" r="0.87" fill="#f0f0f0" opacity="0.76"/><circle cx="46.4" cy="18.9" r="0.87" fill="#f0f0f0" opacity="0.76"/><circle cx="35.0" cy="-0.5" r="0.60" fill="#f0f0f0" opacity="0.67"/><circle cx="35.0" cy="40.5" r="0.60" fill="#f0f0f0" opacity="0.67"/><circle cx="29.1" cy="21.8" r="0.63" fill="#f0f0f0" opacity="0.60"/><circle cx="18.3" cy="17.5" r="0.65" fill="#f0f0f0" opacity="0.94"/><circle cx="27.5" cy="30.1" r="0.90" fill="#f0f0f0" opacity="0.90"/><circle cx="23.2" cy="30.6" r="0.77" fill="#f0f0f0" opacity="0.86"/><circle cx="29.6" cy="16.7" r="0.76" fill="#f0f0f0" opacity="0.85"/><circle cx="44.0" cy="32.1" r="0.87" fill="#f0f0f0" opacity="0.91"/><circle cx="38.3" cy="24.8" r="0.62" fill="#f0f0f0" opacity="0.71"/><circle cx="33.3" cy="35.8" r="0.72" fill="#f0f0f0" opacity="0.66"/></pattern><pattern id="spB" width="53" height="43" patternUnits="userSpaceOnUse"><circle cx="50.7" cy="40.8" r="0.38" fill="#f2f2f2" opacity="0.54"/><circle cx="44.3" cy="31.6" r="0.72" fill="#f2f2f2" opacity="0.65"/><circle cx="32.1" cy="26.1" r="0.67" fill="#f2f2f2" opacity="0.58"/><circle cx="22.8" cy="16.9" r="0.75" fill="#f2f2f2" opacity="1.00"/><circle cx="50.3" cy="23.4" r="0.59" fill="#f2f2f2" opacity="0.63"/><circle cx="1.9" cy="1.2" r="0.61" fill="#f2f2f2" opacity="0.66"/><circle cx="20.1" cy="38.3" r="0.64" fill="#f2f2f2" opacity="0.78"/><circle cx="12.5" cy="1.0" r="0.53" fill="#f2f2f2" opacity="0.57"/><circle cx="27.0" cy="-0.1" r="0.72" fill="#f2f2f2" opacity="0.59"/><circle cx="27.0" cy="42.9" r="0.72" fill="#f2f2f2" opacity="0.59"/><circle cx="47.4" cy="34.3" r="0.75" fill="#f2f2f2" opacity="0.95"/><circle cx="40.4" cy="34.0" r="0.54" fill="#f2f2f2" opacity="0.99"/><circle cx="51.0" cy="6.9" r="0.76" fill="#f2f2f2" opacity="0.86"/><circle cx="24.5" cy="22.8" r="0.62" fill="#f2f2f2" opacity="0.96"/><circle cx="26.5" cy="35.8" r="0.54" fill="#f2f2f2" opacity="0.94"/><circle cx="47.7" cy="19.8" r="0.66" fill="#f2f2f2" opacity="0.96"/><circle cx="38.4" cy="20.9" r="0.47" fill="#f2f2f2" opacity="0.66"/><circle cx="37.1" cy="7.1" r="0.85" fill="#f2f2f2" opacity="0.63"/><circle cx="48.3" cy="13.3" r="0.88" fill="#f2f2f2" opacity="0.85"/><circle cx="26.7" cy="22.3" r="0.71" fill="#f2f2f2" opacity="0.79"/><circle cx="16.5" cy="8.9" r="0.63" fill="#f2f2f2" opacity="0.97"/><circle cx="33.0" cy="3.2" r="0.80" fill="#f2f2f2" opacity="0.86"/><circle cx="48.1" cy="8.2" r="0.76" fill="#f2f2f2" opacity="0.53"/><circle cx="34.6" cy="11.7" r="0.47" fill="#f2f2f2" opacity="0.94"/><circle cx="5.6" cy="22.5" r="0.82" fill="#f2f2f2" opacity="0.62"/><circle cx="11.2" cy="37.9" r="0.58" fill="#f2f2f2" opacity="0.86"/><circle cx="1.7" cy="15.6" r="0.44" fill="#f2f2f2" opacity="0.84"/><circle cx="4.4" cy="41.0" r="0.36" fill="#f2f2f2" opacity="0.86"/><circle cx="1.1" cy="11.0" r="0.80" fill="#f2f2f2" opacity="0.58"/><circle cx="9.7" cy="29.7" r="0.56" fill="#f2f2f2" opacity="0.52"/><circle cx="52.5" cy="6.5" r="0.37" fill="#f2f2f2" opacity="0.67"/><circle cx="32.6" cy="31.9" r="0.41" fill="#f2f2f2" opacity="0.67"/><circle cx="1.6" cy="19.3" r="0.77" fill="#f2f2f2" opacity="0.87"/><circle cx="47.8" cy="32.5" r="0.82" fill="#f2f2f2" opacity="0.85"/><circle cx="25.1" cy="9.7" r="0.71" fill="#f2f2f2" opacity="0.66"/><circle cx="5.4" cy="19.3" r="0.83" fill="#f2f2f2" opacity="0.56"/><circle cx="31.0" cy="16.9" r="0.63" fill="#f2f2f2" opacity="0.57"/><circle cx="50.9" cy="11.1" r="0.68" fill="#f2f2f2" opacity="0.71"/><circle cx="1.0" cy="24.0" r="0.43" fill="#f2f2f2" opacity="0.53"/><circle cx="1.8" cy="6.9" r="0.40" fill="#f2f2f2" opacity="0.82"/><circle cx="26.9" cy="-0.7" r="0.86" fill="#f2f2f2" opacity="1.00"/><circle cx="26.9" cy="42.3" r="0.86" fill="#f2f2f2" opacity="1.00"/><circle cx="12.3" cy="19.1" r="0.49" fill="#f2f2f2" opacity="0.80"/><circle cx="33.1" cy="34.4" r="0.74" fill="#f2f2f2" opacity="0.63"/><circle cx="22.4" cy="22.6" r="0.35" fill="#f2f2f2" opacity="0.52"/><circle cx="21.7" cy="4.8" r="0.75" fill="#f2f2f2" opacity="0.62"/><circle cx="5.3" cy="7.8" r="0.48" fill="#f2f2f2" opacity="0.61"/><circle cx="27.6" cy="20.0" r="0.52" fill="#f2f2f2" opacity="0.82"/><circle cx="11.3" cy="39.0" r="0.88" fill="#f2f2f2" opacity="0.86"/><circle cx="23.0" cy="22.0" r="0.67" fill="#f2f2f2" opacity="0.53"/><circle cx="22.2" cy="22.6" r="0.45" fill="#f2f2f2" opacity="0.55"/><circle cx="42.5" cy="15.7" r="0.64" fill="#f2f2f2" opacity="0.96"/><circle cx="32.4" cy="12.5" r="0.89" fill="#f2f2f2" opacity="0.69"/><circle cx="1.0" cy="29.5" r="0.41" fill="#f2f2f2" opacity="0.65"/><circle cx="44.6" cy="28.9" r="0.36" fill="#f2f2f2" opacity="0.73"/><circle cx="21.8" cy="20.9" r="0.46" fill="#f2f2f2" opacity="0.79"/><circle cx="3.9" cy="12.2" r="0.56" fill="#f2f2f2" opacity="0.97"/><circle cx="4.1" cy="32.5" r="0.46" fill="#f2f2f2" opacity="0.79"/><circle cx="20.8" cy="19.9" r="0.76" fill="#f2f2f2" opacity="0.70"/><circle cx="6.5" cy="5.2" r="0.39" fill="#f2f2f2" opacity="0.93"/><circle cx="34.0" cy="41.3" r="0.73" fill="#f2f2f2" opacity="0.51"/><circle cx="34.9" cy="33.4" r="0.75" fill="#f2f2f2" opacity="0.75"/><circle cx="19.0" cy="19.7" r="0.79" fill="#f2f2f2" opacity="0.63"/><circle cx="27.9" cy="20.5" r="0.88" fill="#f2f2f2" opacity="0.90"/><circle cx="49.4" cy="35.9" r="0.51" fill="#f2f2f2" opacity="0.62"/><circle cx="25.9" cy="11.2" r="0.59" fill="#f2f2f2" opacity="0.84"/><circle cx="48.7" cy="25.2" r="0.80" fill="#f2f2f2" opacity="0.55"/><circle cx="18.9" cy="-0.1" r="0.43" fill="#f2f2f2" opacity="0.71"/><circle cx="18.9" cy="42.9" r="0.43" fill="#f2f2f2" opacity="0.71"/><circle cx="3.5" cy="3.7" r="0.84" fill="#f2f2f2" opacity="0.99"/><circle cx="34.3" cy="5.5" r="0.51" fill="#f2f2f2" opacity="0.62"/><circle cx="35.5" cy="29.3" r="0.59" fill="#f2f2f2" opacity="0.76"/><circle cx="5.9" cy="23.3" r="0.87" fill="#f2f2f2" opacity="0.88"/><circle cx="5.1" cy="22.2" r="0.74" fill="#f2f2f2" opacity="0.63"/><circle cx="47.4" cy="19.8" r="0.74" fill="#f2f2f2" opacity="0.70"/><circle cx="-0.3" cy="33.7" r="0.67" fill="#f2f2f2" opacity="0.57"/><circle cx="52.7" cy="33.7" r="0.67" fill="#f2f2f2" opacity="0.57"/><circle cx="23.4" cy="1.3" r="0.68" fill="#f2f2f2" opacity="0.94"/><circle cx="9.6" cy="21.9" r="0.62" fill="#f2f2f2" opacity="0.70"/><circle cx="37.7" cy="40.3" r="0.74" fill="#f2f2f2" opacity="0.74"/><circle cx="51.0" cy="14.2" r="0.76" fill="#f2f2f2" opacity="0.83"/><circle cx="40.4" cy="36.6" r="0.47" fill="#f2f2f2" opacity="0.81"/><circle cx="21.3" cy="28.7" r="0.89" fill="#f2f2f2" opacity="0.82"/><circle cx="0.6" cy="20.0" r="0.74" fill="#f2f2f2" opacity="0.94"/><circle cx="53.6" cy="20.0" r="0.74" fill="#f2f2f2" opacity="0.94"/><circle cx="34.5" cy="35.1" r="0.36" fill="#f2f2f2" opacity="0.97"/><circle cx="38.7" cy="26.1" r="0.85" fill="#f2f2f2" opacity="0.94"/><circle cx="5.3" cy="35.1" r="0.77" fill="#f2f2f2" opacity="0.60"/><circle cx="39.4" cy="25.2" r="0.46" fill="#f2f2f2" opacity="0.90"/><circle cx="7.3" cy="26.3" r="0.59" fill="#f2f2f2" opacity="0.63"/><circle cx="30.0" cy="20.1" r="0.46" fill="#f2f2f2" opacity="0.98"/><circle cx="3.9" cy="0.1" r="0.62" fill="#f2f2f2" opacity="0.92"/><circle cx="3.9" cy="43.1" r="0.62" fill="#f2f2f2" opacity="0.92"/><circle cx="34.9" cy="32.5" r="0.62" fill="#f2f2f2" opacity="0.84"/><circle cx="17.7" cy="11.5" r="0.63" fill="#f2f2f2" opacity="0.51"/><circle cx="4.2" cy="32.4" r="0.45" fill="#f2f2f2" opacity="0.88"/></pattern><pattern id="spW" width="41" height="37" patternUnits="userSpaceOnUse"><circle cx="19.5" cy="24.3" r="0.63" fill="#ffffff" opacity="0.74"/><circle cx="0.4" cy="13.9" r="0.50" fill="#ffffff" opacity="0.94"/><circle cx="41.4" cy="13.9" r="0.50" fill="#ffffff" opacity="0.94"/><circle cx="28.3" cy="22.3" r="0.60" fill="#ffffff" opacity="0.90"/><circle cx="6.0" cy="16.3" r="0.46" fill="#ffffff" opacity="0.97"/><circle cx="2.4" cy="30.3" r="0.43" fill="#ffffff" opacity="0.91"/><circle cx="13.8" cy="15.0" r="0.69" fill="#ffffff" opacity="0.71"/><circle cx="2.5" cy="33.9" r="0.58" fill="#ffffff" opacity="0.73"/><circle cx="40.5" cy="35.0" r="0.44" fill="#ffffff" opacity="0.83"/><circle cx="5.5" cy="11.6" r="0.62" fill="#ffffff" opacity="0.75"/><circle cx="28.6" cy="1.9" r="0.46" fill="#ffffff" opacity="0.94"/><circle cx="16.4" cy="15.5" r="0.61" fill="#ffffff" opacity="0.84"/><circle cx="15.8" cy="1.1" r="0.65" fill="#ffffff" opacity="0.99"/><circle cx="40.0" cy="24.6" r="0.52" fill="#ffffff" opacity="0.81"/><circle cx="28.3" cy="24.9" r="0.44" fill="#ffffff" opacity="0.77"/><circle cx="14.9" cy="18.9" r="0.68" fill="#ffffff" opacity="0.85"/><circle cx="1.2" cy="30.4" r="0.55" fill="#ffffff" opacity="0.86"/><circle cx="9.1" cy="15.8" r="0.54" fill="#ffffff" opacity="0.93"/><circle cx="4.2" cy="20.3" r="0.46" fill="#ffffff" opacity="0.91"/><circle cx="1.5" cy="10.2" r="0.52" fill="#ffffff" opacity="0.89"/><circle cx="2.1" cy="17.0" r="0.47" fill="#ffffff" opacity="0.78"/><circle cx="19.5" cy="35.5" r="0.57" fill="#ffffff" opacity="0.99"/><circle cx="6.9" cy="34.2" r="0.53" fill="#ffffff" opacity="0.76"/><circle cx="30.7" cy="33.7" r="0.40" fill="#ffffff" opacity="0.78"/><circle cx="31.6" cy="12.6" r="0.48" fill="#ffffff" opacity="0.70"/><circle cx="1.6" cy="22.9" r="0.74" fill="#ffffff" opacity="1.00"/><circle cx="20.6" cy="0.9" r="0.51" fill="#ffffff" opacity="0.94"/><circle cx="34.1" cy="23.7" r="0.48" fill="#ffffff" opacity="0.86"/><circle cx="19.6" cy="23.2" r="0.49" fill="#ffffff" opacity="0.98"/><circle cx="36.7" cy="6.0" r="0.50" fill="#ffffff" opacity="0.96"/><circle cx="11.4" cy="34.9" r="0.58" fill="#ffffff" opacity="0.91"/><circle cx="28.9" cy="7.9" r="0.50" fill="#ffffff" opacity="0.78"/><circle cx="28.0" cy="25.7" r="0.45" fill="#ffffff" opacity="0.97"/><circle cx="17.2" cy="8.9" r="0.55" fill="#ffffff" opacity="0.99"/><circle cx="23.0" cy="23.1" r="0.72" fill="#ffffff" opacity="0.99"/><circle cx="31.2" cy="15.5" r="0.61" fill="#ffffff" opacity="0.97"/><circle cx="32.4" cy="21.5" r="0.52" fill="#ffffff" opacity="0.81"/><circle cx="30.2" cy="20.8" r="0.41" fill="#ffffff" opacity="0.91"/><circle cx="37.1" cy="29.5" r="0.71" fill="#ffffff" opacity="0.97"/><circle cx="21.9" cy="29.2" r="0.53" fill="#ffffff" opacity="0.73"/><circle cx="14.5" cy="11.5" r="0.73" fill="#ffffff" opacity="0.91"/><circle cx="22.2" cy="23.0" r="0.44" fill="#ffffff" opacity="0.86"/><circle cx="28.7" cy="14.6" r="0.49" fill="#ffffff" opacity="0.82"/><circle cx="13.3" cy="25.4" r="0.45" fill="#ffffff" opacity="0.73"/><circle cx="12.8" cy="25.7" r="0.67" fill="#ffffff" opacity="0.90"/><circle cx="38.3" cy="13.5" r="0.41" fill="#ffffff" opacity="0.85"/><circle cx="18.2" cy="6.6" r="0.63" fill="#ffffff" opacity="0.80"/><circle cx="9.8" cy="12.1" r="0.73" fill="#ffffff" opacity="0.70"/><circle cx="14.8" cy="10.3" r="0.47" fill="#ffffff" opacity="0.83"/><circle cx="9.0" cy="34.0" r="0.58" fill="#ffffff" opacity="0.91"/><circle cx="6.7" cy="17.2" r="0.61" fill="#ffffff" opacity="0.95"/><circle cx="10.2" cy="17.0" r="0.70" fill="#ffffff" opacity="0.95"/><circle cx="9.3" cy="19.9" r="0.67" fill="#ffffff" opacity="0.82"/><circle cx="27.6" cy="24.5" r="0.74" fill="#ffffff" opacity="0.87"/><circle cx="27.9" cy="13.0" r="0.66" fill="#ffffff" opacity="0.80"/><circle cx="20.5" cy="13.4" r="0.51" fill="#ffffff" opacity="0.74"/><circle cx="9.3" cy="20.1" r="0.49" fill="#ffffff" opacity="0.71"/><circle cx="32.9" cy="10.6" r="0.73" fill="#ffffff" opacity="0.88"/><circle cx="16.0" cy="32.3" r="0.71" fill="#ffffff" opacity="0.80"/><circle cx="5.2" cy="23.7" r="0.69" fill="#ffffff" opacity="0.88"/><circle cx="32.2" cy="15.3" r="0.62" fill="#ffffff" opacity="0.78"/><circle cx="16.7" cy="14.0" r="0.53" fill="#ffffff" opacity="0.82"/><circle cx="33.1" cy="6.3" r="0.47" fill="#ffffff" opacity="0.78"/><circle cx="39.8" cy="19.3" r="0.42" fill="#ffffff" opacity="0.95"/><circle cx="35.8" cy="30.4" r="0.53" fill="#ffffff" opacity="0.92"/><circle cx="12.5" cy="5.1" r="0.70" fill="#ffffff" opacity="0.95"/><circle cx="8.7" cy="32.6" r="0.41" fill="#ffffff" opacity="0.79"/><circle cx="0.5" cy="6.3" r="0.46" fill="#ffffff" opacity="0.91"/><circle cx="12.2" cy="7.0" r="0.46" fill="#ffffff" opacity="0.79"/><circle cx="35.3" cy="22.5" r="0.44" fill="#ffffff" opacity="0.91"/><circle cx="22.0" cy="16.6" r="0.58" fill="#ffffff" opacity="0.90"/><circle cx="32.8" cy="18.7" r="0.62" fill="#ffffff" opacity="0.84"/><circle cx="26.0" cy="14.4" r="0.55" fill="#ffffff" opacity="0.85"/><circle cx="29.3" cy="10.3" r="0.72" fill="#ffffff" opacity="0.85"/><circle cx="35.1" cy="25.5" r="0.73" fill="#ffffff" opacity="0.90"/><circle cx="17.5" cy="15.0" r="0.61" fill="#ffffff" opacity="0.93"/><circle cx="34.4" cy="4.8" r="0.42" fill="#ffffff" opacity="0.73"/><circle cx="3.5" cy="2.1" r="0.40" fill="#ffffff" opacity="0.77"/><circle cx="4.6" cy="25.4" r="0.62" fill="#ffffff" opacity="0.99"/><circle cx="39.4" cy="27.6" r="0.73" fill="#ffffff" opacity="0.71"/><circle cx="9.3" cy="34.3" r="0.57" fill="#ffffff" opacity="0.76"/><circle cx="31.0" cy="15.7" r="0.59" fill="#ffffff" opacity="0.79"/><circle cx="9.9" cy="3.2" r="0.61" fill="#ffffff" opacity="0.99"/><circle cx="-0.5" cy="28.3" r="0.73" fill="#ffffff" opacity="0.81"/><circle cx="40.5" cy="28.3" r="0.73" fill="#ffffff" opacity="0.81"/><circle cx="12.2" cy="34.2" r="0.61" fill="#ffffff" opacity="0.90"/><circle cx="0.5" cy="8.5" r="0.57" fill="#ffffff" opacity="0.92"/><circle cx="41.5" cy="8.5" r="0.57" fill="#ffffff" opacity="0.92"/><circle cx="33.9" cy="28.0" r="0.52" fill="#ffffff" opacity="0.81"/><circle cx="35.4" cy="-0.4" r="0.57" fill="#ffffff" opacity="0.76"/><circle cx="35.4" cy="36.6" r="0.57" fill="#ffffff" opacity="0.76"/><circle cx="25.6" cy="19.8" r="0.53" fill="#ffffff" opacity="0.77"/><circle cx="15.8" cy="22.7" r="0.44" fill="#ffffff" opacity="0.86"/><circle cx="39.0" cy="27.6" r="0.49" fill="#ffffff" opacity="0.83"/><circle cx="4.2" cy="27.3" r="0.62" fill="#ffffff" opacity="0.75"/><circle cx="22.5" cy="22.0" r="0.60" fill="#ffffff" opacity="0.81"/><circle cx="12.7" cy="13.1" r="0.75" fill="#ffffff" opacity="0.80"/><circle cx="20.6" cy="17.0" r="0.46" fill="#ffffff" opacity="0.82"/><circle cx="8.4" cy="11.9" r="0.53" fill="#ffffff" opacity="0.80"/><circle cx="38.5" cy="11.0" r="0.52" fill="#ffffff" opacity="0.90"/><circle cx="16.3" cy="19.1" r="0.63" fill="#ffffff" opacity="0.72"/><circle cx="27.5" cy="3.7" r="0.49" fill="#ffffff" opacity="0.94"/><circle cx="-0.4" cy="24.9" r="0.46" fill="#ffffff" opacity="0.83"/><circle cx="40.6" cy="24.9" r="0.46" fill="#ffffff" opacity="0.83"/><circle cx="11.6" cy="31.1" r="0.48" fill="#ffffff" opacity="0.76"/><circle cx="26.2" cy="23.6" r="0.61" fill="#ffffff" opacity="0.84"/><circle cx="39.3" cy="17.0" r="0.73" fill="#ffffff" opacity="0.82"/><circle cx="19.1" cy="13.3" r="0.65" fill="#ffffff" opacity="0.93"/><circle cx="9.8" cy="19.5" r="0.65" fill="#ffffff" opacity="0.85"/><circle cx="27.2" cy="22.8" r="0.65" fill="#ffffff" opacity="0.81"/><circle cx="12.6" cy="0.9" r="0.71" fill="#ffffff" opacity="0.94"/><circle cx="16.0" cy="35.8" r="0.72" fill="#ffffff" opacity="0.75"/><circle cx="34.3" cy="15.6" r="0.51" fill="#ffffff" opacity="0.78"/><circle cx="17.0" cy="1.9" r="0.42" fill="#ffffff" opacity="0.74"/><circle cx="12.6" cy="5.9" r="0.44" fill="#ffffff" opacity="0.95"/><circle cx="15.6" cy="18.1" r="0.61" fill="#ffffff" opacity="0.98"/><circle cx="6.0" cy="8.4" r="0.70" fill="#ffffff" opacity="0.97"/><circle cx="38.2" cy="19.6" r="0.53" fill="#ffffff" opacity="0.76"/><circle cx="37.3" cy="28.3" r="0.59" fill="#ffffff" opacity="0.94"/><circle cx="10.7" cy="19.7" r="0.72" fill="#ffffff" opacity="0.73"/><circle cx="25.3" cy="6.9" r="0.69" fill="#ffffff" opacity="0.95"/><circle cx="26.4" cy="16.1" r="0.41" fill="#ffffff" opacity="0.85"/><circle cx="14.7" cy="14.8" r="0.43" fill="#ffffff" opacity="0.98"/><circle cx="21.4" cy="20.8" r="0.69" fill="#ffffff" opacity="0.97"/><circle cx="22.5" cy="20.1" r="0.70" fill="#ffffff" opacity="0.81"/><circle cx="36.9" cy="0.9" r="0.68" fill="#ffffff" opacity="0.86"/><circle cx="25.5" cy="-0.4" r="0.48" fill="#ffffff" opacity="0.82"/><circle cx="25.5" cy="36.6" r="0.48" fill="#ffffff" opacity="0.82"/><circle cx="32.8" cy="27.6" r="0.58" fill="#ffffff" opacity="0.93"/><circle cx="27.8" cy="32.2" r="0.63" fill="#ffffff" opacity="0.81"/><circle cx="11.8" cy="3.0" r="0.44" fill="#ffffff" opacity="0.71"/><circle cx="40.0" cy="5.2" r="0.61" fill="#ffffff" opacity="0.74"/><circle cx="39.6" cy="19.7" r="0.46" fill="#ffffff" opacity="0.95"/><circle cx="35.3" cy="36.2" r="0.48" fill="#ffffff" opacity="0.82"/><circle cx="27.1" cy="10.5" r="0.60" fill="#ffffff" opacity="0.91"/><circle cx="30.8" cy="30.5" r="0.66" fill="#ffffff" opacity="0.79"/><circle cx="31.0" cy="16.0" r="0.46" fill="#ffffff" opacity="0.71"/><circle cx="25.5" cy="13.2" r="0.43" fill="#ffffff" opacity="0.85"/><circle cx="17.0" cy="12.0" r="0.60" fill="#ffffff" opacity="0.86"/><circle cx="21.7" cy="-0.5" r="0.72" fill="#ffffff" opacity="0.79"/><circle cx="21.7" cy="36.5" r="0.72" fill="#ffffff" opacity="0.79"/><circle cx="35.8" cy="11.7" r="0.73" fill="#ffffff" opacity="0.72"/><circle cx="13.0" cy="34.5" r="0.63" fill="#ffffff" opacity="0.91"/><circle cx="8.4" cy="4.5" r="0.74" fill="#ffffff" opacity="0.72"/><circle cx="7.2" cy="15.9" r="0.69" fill="#ffffff" opacity="0.90"/><circle cx="-0.1" cy="28.8" r="0.55" fill="#ffffff" opacity="0.97"/><circle cx="40.9" cy="28.8" r="0.55" fill="#ffffff" opacity="0.97"/><circle cx="13.0" cy="1.9" r="0.74" fill="#ffffff" opacity="0.96"/><circle cx="27.1" cy="17.8" r="0.47" fill="#ffffff" opacity="0.77"/><circle cx="2.8" cy="3.5" r="0.57" fill="#ffffff" opacity="0.97"/><circle cx="38.2" cy="19.0" r="0.64" fill="#ffffff" opacity="0.84"/><circle cx="31.8" cy="26.1" r="0.74" fill="#ffffff" opacity="0.95"/><circle cx="27.8" cy="21.8" r="0.46" fill="#ffffff" opacity="0.84"/><circle cx="18.4" cy="5.7" r="0.47" fill="#ffffff" opacity="0.82"/><circle cx="7.2" cy="23.1" r="0.51" fill="#ffffff" opacity="1.00"/><circle cx="28.0" cy="19.1" r="0.55" fill="#ffffff" opacity="0.82"/><circle cx="8.2" cy="35.6" r="0.72" fill="#ffffff" opacity="0.90"/><circle cx="26.7" cy="5.3" r="0.59" fill="#ffffff" opacity="0.75"/></pattern><pattern id="spD" width="41" height="37" patternUnits="userSpaceOnUse"><circle cx="9.7" cy="3.8" r="0.72" fill="#303030" opacity="0.36"/><circle cx="2.7" cy="14.9" r="1.13" fill="#303030" opacity="0.62"/><circle cx="31.4" cy="8.2" r="0.83" fill="#303030" opacity="0.41"/><circle cx="7.1" cy="3.9" r="0.57" fill="#303030" opacity="0.67"/><circle cx="34.0" cy="29.8" r="1.04" fill="#303030" opacity="0.38"/><circle cx="12.7" cy="23.2" r="0.99" fill="#303030" opacity="0.64"/><circle cx="36.1" cy="3.2" r="0.88" fill="#303030" opacity="0.57"/><circle cx="20.7" cy="6.6" r="0.78" fill="#303030" opacity="0.34"/><circle cx="38.3" cy="32.0" r="0.84" fill="#303030" opacity="0.42"/><circle cx="37.3" cy="21.2" r="1.11" fill="#303030" opacity="0.64"/><circle cx="20.8" cy="15.3" r="0.88" fill="#303030" opacity="0.47"/><circle cx="6.6" cy="11.3" r="1.05" fill="#303030" opacity="0.32"/><circle cx="1.9" cy="23.2" r="0.62" fill="#303030" opacity="0.51"/><circle cx="19.3" cy="12.7" r="1.20" fill="#303030" opacity="0.38"/><circle cx="16.9" cy="7.5" r="0.91" fill="#303030" opacity="0.41"/><circle cx="14.6" cy="27.6" r="0.66" fill="#303030" opacity="0.52"/><circle cx="37.1" cy="3.7" r="0.45" fill="#303030" opacity="0.39"/><circle cx="31.4" cy="22.8" r="0.59" fill="#303030" opacity="0.43"/><circle cx="7.3" cy="17.0" r="0.43" fill="#303030" opacity="0.58"/><circle cx="36.7" cy="35.3" r="0.99" fill="#303030" opacity="0.68"/><circle cx="0.7" cy="10.7" r="1.17" fill="#303030" opacity="0.61"/><circle cx="41.7" cy="10.7" r="1.17" fill="#303030" opacity="0.61"/><circle cx="16.8" cy="34.9" r="0.90" fill="#303030" opacity="0.63"/><circle cx="12.0" cy="7.1" r="0.76" fill="#303030" opacity="0.35"/><circle cx="15.6" cy="35.6" r="0.67" fill="#303030" opacity="0.30"/><circle cx="1.8" cy="6.3" r="1.03" fill="#303030" opacity="0.45"/><circle cx="11.9" cy="3.6" r="1.19" fill="#303030" opacity="0.47"/><circle cx="8.5" cy="2.2" r="0.44" fill="#303030" opacity="0.37"/><circle cx="27.7" cy="5.5" r="0.43" fill="#303030" opacity="0.50"/><circle cx="10.2" cy="-0.1" r="0.50" fill="#303030" opacity="0.51"/><circle cx="10.2" cy="36.9" r="0.50" fill="#303030" opacity="0.51"/><circle cx="31.7" cy="15.1" r="1.19" fill="#303030" opacity="0.49"/><circle cx="9.9" cy="15.2" r="0.43" fill="#303030" opacity="0.47"/><circle cx="10.2" cy="32.9" r="1.06" fill="#303030" opacity="0.50"/><circle cx="1.3" cy="9.4" r="0.59" fill="#303030" opacity="0.38"/><circle cx="9.5" cy="32.2" r="0.51" fill="#303030" opacity="0.32"/><circle cx="38.0" cy="20.9" r="1.19" fill="#303030" opacity="0.46"/><circle cx="36.9" cy="24.2" r="1.03" fill="#303030" opacity="0.60"/><circle cx="20.3" cy="3.4" r="0.57" fill="#303030" opacity="0.65"/><circle cx="36.9" cy="34.2" r="0.67" fill="#303030" opacity="0.56"/><circle cx="32.8" cy="23.8" r="1.05" fill="#303030" opacity="0.51"/><circle cx="26.8" cy="25.4" r="0.61" fill="#303030" opacity="0.67"/><circle cx="39.2" cy="2.8" r="1.18" fill="#303030" opacity="0.68"/><circle cx="27.4" cy="1.6" r="1.12" fill="#303030" opacity="0.35"/><circle cx="39.7" cy="24.7" r="0.45" fill="#303030" opacity="0.37"/><circle cx="26.0" cy="21.1" r="1.00" fill="#303030" opacity="0.67"/><circle cx="9.0" cy="0.1" r="1.14" fill="#303030" opacity="0.31"/><circle cx="9.0" cy="37.1" r="1.14" fill="#303030" opacity="0.31"/><circle cx="35.9" cy="4.3" r="1.05" fill="#303030" opacity="0.61"/><circle cx="36.0" cy="20.4" r="1.10" fill="#303030" opacity="0.38"/><circle cx="27.5" cy="12.2" r="1.11" fill="#303030" opacity="0.61"/><circle cx="19.3" cy="19.5" r="0.42" fill="#303030" opacity="0.31"/><circle cx="24.4" cy="18.1" r="1.09" fill="#303030" opacity="0.54"/><circle cx="5.7" cy="13.4" r="1.01" fill="#303030" opacity="0.51"/><circle cx="0.4" cy="31.0" r="1.06" fill="#303030" opacity="0.33"/><circle cx="41.4" cy="31.0" r="1.06" fill="#303030" opacity="0.33"/><circle cx="22.3" cy="14.1" r="1.03" fill="#303030" opacity="0.42"/><circle cx="9.6" cy="18.0" r="1.17" fill="#303030" opacity="0.34"/><circle cx="4.7" cy="23.0" r="1.11" fill="#303030" opacity="0.50"/><circle cx="17.8" cy="31.7" r="1.02" fill="#303030" opacity="0.33"/><circle cx="36.1" cy="7.2" r="0.64" fill="#303030" opacity="0.63"/><circle cx="17.3" cy="29.5" r="0.53" fill="#303030" opacity="0.65"/><circle cx="7.2" cy="5.5" r="0.80" fill="#303030" opacity="0.44"/><circle cx="22.2" cy="33.5" r="0.97" fill="#303030" opacity="0.30"/></pattern><pattern id="dnA" width="61" height="53" patternUnits="userSpaceOnUse"><rect width="61" height="53" fill="#2e2e2e"/><circle cx="38.0" cy="39.3" r="1.77" fill="#505050" stroke="#a2a2a2" stroke-width="1.0"/><circle cx="57.5" cy="39.2" r="1.82" fill="#505050" stroke="#a2a2a2" stroke-width="1.0"/><circle cx="1.8" cy="24.7" r="1.83" fill="#505050" stroke="#a2a2a2" stroke-width="1.0"/><circle cx="62.8" cy="24.7" r="1.83" fill="#505050" stroke="#a2a2a2" stroke-width="1.0"/><circle cx="39.6" cy="47.7" r="1.50" fill="#505050" stroke="#a2a2a2" stroke-width="1.0"/><circle cx="28.6" cy="13.1" r="1.67" fill="#505050" stroke="#a2a2a2" stroke-width="1.0"/><circle cx="35.0" cy="0.7" r="1.54" fill="#505050" stroke="#a2a2a2" stroke-width="1.0"/><circle cx="35.0" cy="53.7" r="1.54" fill="#505050" stroke="#a2a2a2" stroke-width="1.0"/><circle cx="17.0" cy="48.6" r="1.76" fill="#505050" stroke="#a2a2a2" stroke-width="1.0"/><circle cx="9.7" cy="42.2" r="1.51" fill="#505050" stroke="#a2a2a2" stroke-width="1.0"/><circle cx="37.7" cy="6.7" r="1.45" fill="#505050" stroke="#a2a2a2" stroke-width="1.0"/><circle cx="53.2" cy="11.1" r="1.54" fill="#505050" stroke="#a2a2a2" stroke-width="1.0"/><circle cx="-1.1" cy="46.2" r="1.57" fill="#505050" stroke="#a2a2a2" stroke-width="1.0"/><circle cx="59.9" cy="46.2" r="1.57" fill="#505050" stroke="#a2a2a2" stroke-width="1.0"/><circle cx="-2.3" cy="28.6" r="1.72" fill="#505050" stroke="#a2a2a2" stroke-width="1.0"/><circle cx="58.7" cy="28.6" r="1.72" fill="#505050" stroke="#a2a2a2" stroke-width="1.0"/><circle cx="12.5" cy="49.9" r="1.73" fill="#505050" stroke="#a2a2a2" stroke-width="1.0"/><circle cx="18.2" cy="19.1" r="1.52" fill="#505050" stroke="#a2a2a2" stroke-width="1.0"/><circle cx="8.9" cy="3.5" r="1.57" fill="#505050" stroke="#a2a2a2" stroke-width="1.0"/><circle cx="41.4" cy="17.9" r="1.57" fill="#505050" stroke="#a2a2a2" stroke-width="1.0"/><circle cx="49.9" cy="25.5" r="1.58" fill="#505050" stroke="#a2a2a2" stroke-width="1.0"/><circle cx="29.4" cy="37.3" r="1.47" fill="#505050" stroke="#a2a2a2" stroke-width="1.0"/><circle cx="-1.5" cy="1.2" r="1.75" fill="#505050" stroke="#a2a2a2" stroke-width="1.0"/><circle cx="-1.5" cy="54.2" r="1.75" fill="#505050" stroke="#a2a2a2" stroke-width="1.0"/><circle cx="59.5" cy="1.2" r="1.75" fill="#505050" stroke="#a2a2a2" stroke-width="1.0"/><circle cx="59.5" cy="54.2" r="1.75" fill="#505050" stroke="#a2a2a2" stroke-width="1.0"/><circle cx="51.5" cy="1.0" r="1.77" fill="#505050" stroke="#a2a2a2" stroke-width="1.0"/><circle cx="51.5" cy="54.0" r="1.77" fill="#505050" stroke="#a2a2a2" stroke-width="1.0"/><circle cx="22.3" cy="30.7" r="1.45" fill="#505050" stroke="#a2a2a2" stroke-width="1.0"/><circle cx="2.9" cy="9.6" r="1.83" fill="#505050" stroke="#a2a2a2" stroke-width="1.0"/><circle cx="56.7" cy="49.9" r="1.59" fill="#505050" stroke="#a2a2a2" stroke-width="1.0"/><circle cx="47.3" cy="5.7" r="1.75" fill="#505050" stroke="#a2a2a2" stroke-width="1.0"/><circle cx="48.6" cy="45.6" r="1.46" fill="#505050" stroke="#a2a2a2" stroke-width="1.0"/><circle cx="57.7" cy="4.8" r="1.59" fill="#505050" stroke="#a2a2a2" stroke-width="1.0"/><circle cx="20.7" cy="49.0" r="1.67" fill="#505050" stroke="#a2a2a2" stroke-width="1.0"/><circle cx="9.1" cy="36.5" r="1.85" fill="#505050" stroke="#a2a2a2" stroke-width="1.0"/><circle cx="24.8" cy="12.6" r="1.69" fill="#505050" stroke="#a2a2a2" stroke-width="1.0"/><circle cx="25.7" cy="3.0" r="1.82" fill="#505050" stroke="#a2a2a2" stroke-width="1.0"/><circle cx="51.1" cy="6.9" r="1.74" fill="#505050" stroke="#a2a2a2" stroke-width="1.0"/><circle cx="57.9" cy="33.4" r="1.77" fill="#505050" stroke="#a2a2a2" stroke-width="1.0"/><circle cx="6.5" cy="23.0" r="1.51" fill="#505050" stroke="#a2a2a2" stroke-width="1.0"/><circle cx="51.5" cy="15.6" r="1.63" fill="#505050" stroke="#a2a2a2" stroke-width="1.0"/><circle cx="24.6" cy="7.8" r="1.60" fill="#505050" stroke="#a2a2a2" stroke-width="1.0"/><circle cx="38.2" cy="26.5" r="1.59" fill="#505050" stroke="#a2a2a2" stroke-width="1.0"/><circle cx="5.4" cy="14.4" r="1.76" fill="#505050" stroke="#a2a2a2" stroke-width="1.0"/><circle cx="52.9" cy="19.2" r="1.76" fill="#505050" stroke="#a2a2a2" stroke-width="1.0"/><circle cx="47.3" cy="36.8" r="1.72" fill="#505050" stroke="#a2a2a2" stroke-width="1.0"/><circle cx="46.3" cy="19.3" r="1.73" fill="#505050" stroke="#a2a2a2" stroke-width="1.0"/><circle cx="17.1" cy="25.7" r="1.76" fill="#505050" stroke="#a2a2a2" stroke-width="1.0"/><circle cx="33.4" cy="13.3" r="1.72" fill="#505050" stroke="#a2a2a2" stroke-width="1.0"/><circle cx="28.2" cy="43.3" r="1.71" fill="#505050" stroke="#a2a2a2" stroke-width="1.0"/><circle cx="42.0" cy="-1.3" r="1.83" fill="#505050" stroke="#a2a2a2" stroke-width="1.0"/><circle cx="42.0" cy="51.7" r="1.83" fill="#505050" stroke="#a2a2a2" stroke-width="1.0"/><circle cx="31.6" cy="28.1" r="1.52" fill="#505050" stroke="#a2a2a2" stroke-width="1.0"/><circle cx="51.0" cy="49.7" r="1.64" fill="#505050" stroke="#a2a2a2" stroke-width="1.0"/><circle cx="42.2" cy="38.1" r="1.74" fill="#505050" stroke="#a2a2a2" stroke-width="1.0"/><circle cx="35.4" cy="35.3" r="1.62" fill="#505050" stroke="#a2a2a2" stroke-width="1.0"/><circle cx="26.9" cy="34.5" r="1.54" fill="#505050" stroke="#a2a2a2" stroke-width="1.0"/><circle cx="41.8" cy="33.4" r="1.47" fill="#505050" stroke="#a2a2a2" stroke-width="1.0"/><circle cx="19.4" cy="9.6" r="1.53" fill="#505050" stroke="#a2a2a2" stroke-width="1.0"/><circle cx="2.2" cy="32.5" r="1.49" fill="#505050" stroke="#a2a2a2" stroke-width="1.0"/><circle cx="63.2" cy="32.5" r="1.49" fill="#505050" stroke="#a2a2a2" stroke-width="1.0"/><circle cx="33.3" cy="18.0" r="1.68" fill="#505050" stroke="#a2a2a2" stroke-width="1.0"/><circle cx="8.7" cy="31.6" r="1.68" fill="#505050" stroke="#a2a2a2" stroke-width="1.0"/><circle cx="37.1" cy="18.6" r="1.81" fill="#505050" stroke="#a2a2a2" stroke-width="1.0"/><circle cx="15.8" cy="-1.0" r="1.65" fill="#505050" stroke="#a2a2a2" stroke-width="1.0"/><circle cx="15.8" cy="52.0" r="1.65" fill="#505050" stroke="#a2a2a2" stroke-width="1.0"/><circle cx="25.3" cy="16.9" r="1.84" fill="#505050" stroke="#a2a2a2" stroke-width="1.0"/><circle cx="29.1" cy="6.5" r="1.70" fill="#505050" stroke="#a2a2a2" stroke-width="1.0"/><circle cx="47.7" cy="13.0" r="1.56" fill="#505050" stroke="#a2a2a2" stroke-width="1.0"/><circle cx="9.4" cy="-0.6" r="1.57" fill="#505050" stroke="#a2a2a2" stroke-width="1.0"/><circle cx="9.4" cy="52.4" r="1.57" fill="#505050" stroke="#a2a2a2" stroke-width="1.0"/><circle cx="28.3" cy="19.1" r="1.75" fill="#505050" stroke="#a2a2a2" stroke-width="1.0"/><circle cx="47.5" cy="22.7" r="1.68" fill="#505050" stroke="#a2a2a2" stroke-width="1.0"/><circle cx="29.4" cy="48.3" r="1.60" fill="#505050" stroke="#a2a2a2" stroke-width="1.0"/><circle cx="23.9" cy="45.2" r="1.53" fill="#505050" stroke="#a2a2a2" stroke-width="1.0"/><circle cx="18.1" cy="44.0" r="1.48" fill="#505050" stroke="#a2a2a2" stroke-width="1.0"/><circle cx="51.0" cy="36.8" r="1.62" fill="#505050" stroke="#a2a2a2" stroke-width="1.0"/><circle cx="14.0" cy="43.4" r="1.77" fill="#505050" stroke="#a2a2a2" stroke-width="1.0"/><circle cx="-0.1" cy="37.2" r="1.47" fill="#505050" stroke="#a2a2a2" stroke-width="1.0"/><circle cx="60.9" cy="37.2" r="1.47" fill="#505050" stroke="#a2a2a2" stroke-width="1.0"/><circle cx="43.5" cy="7.1" r="1.57" fill="#505050" stroke="#a2a2a2" stroke-width="1.0"/><circle cx="2.7" cy="5.7" r="1.60" fill="#505050" stroke="#a2a2a2" stroke-width="1.0"/><circle cx="57.3" cy="19.8" r="1.47" fill="#505050" stroke="#a2a2a2" stroke-width="1.0"/><circle cx="37.9" cy="14.0" r="1.67" fill="#505050" stroke="#a2a2a2" stroke-width="1.0"/><circle cx="15.5" cy="39.8" r="1.66" fill="#505050" stroke="#a2a2a2" stroke-width="1.0"/><circle cx="22.6" cy="39.0" r="1.52" fill="#505050" stroke="#a2a2a2" stroke-width="1.0"/><circle cx="5.2" cy="35.4" r="1.49" fill="#505050" stroke="#a2a2a2" stroke-width="1.0"/><circle cx="44.2" cy="2.8" r="1.51" fill="#505050" stroke="#a2a2a2" stroke-width="1.0"/><circle cx="13.6" cy="6.2" r="1.84" fill="#505050" stroke="#a2a2a2" stroke-width="1.0"/><circle cx="40.6" cy="43.5" r="1.51" fill="#505050" stroke="#a2a2a2" stroke-width="1.0"/><circle cx="14.3" cy="17.7" r="1.70" fill="#505050" stroke="#a2a2a2" stroke-width="1.0"/><circle cx="2.4" cy="47.1" r="1.64" fill="#505050" stroke="#a2a2a2" stroke-width="1.0"/><circle cx="63.4" cy="47.1" r="1.64" fill="#505050" stroke="#a2a2a2" stroke-width="1.0"/><circle cx="46.4" cy="0.0" r="1.64" fill="#505050" stroke="#a2a2a2" stroke-width="1.0"/><circle cx="46.4" cy="53.0" r="1.64" fill="#505050" stroke="#a2a2a2" stroke-width="1.0"/><circle cx="54.3" cy="32.8" r="1.62" fill="#505050" stroke="#a2a2a2" stroke-width="1.0"/><circle cx="9.4" cy="8.4" r="1.60" fill="#505050" stroke="#a2a2a2" stroke-width="1.0"/><circle cx="9.3" cy="13.5" r="1.56" fill="#505050" stroke="#a2a2a2" stroke-width="1.0"/><circle cx="17.8" cy="35.7" r="1.74" fill="#505050" stroke="#a2a2a2" stroke-width="1.0"/><circle cx="26.3" cy="-1.3" r="1.45" fill="#505050" stroke="#a2a2a2" stroke-width="1.0"/><circle cx="26.3" cy="51.7" r="1.45" fill="#505050" stroke="#a2a2a2" stroke-width="1.0"/><circle cx="3.7" cy="41.3" r="1.61" fill="#505050" stroke="#a2a2a2" stroke-width="1.0"/><circle cx="21.4" cy="5.0" r="1.48" fill="#505050" stroke="#a2a2a2" stroke-width="1.0"/><circle cx="54.8" cy="26.0" r="1.82" fill="#505050" stroke="#a2a2a2" stroke-width="1.0"/><circle cx="3.1" cy="21.1" r="1.47" fill="#505050" stroke="#a2a2a2" stroke-width="1.0"/><circle cx="15.6" cy="21.6" r="1.57" fill="#505050" stroke="#a2a2a2" stroke-width="1.0"/><circle cx="3.1" cy="2.0" r="1.84" fill="#505050" stroke="#a2a2a2" stroke-width="1.0"/><circle cx="3.1" cy="55.0" r="1.84" fill="#505050" stroke="#a2a2a2" stroke-width="1.0"/><circle cx="10.9" cy="27.0" r="1.61" fill="#505050" stroke="#a2a2a2" stroke-width="1.0"/><circle cx="32.4" cy="4.5" r="1.58" fill="#505050" stroke="#a2a2a2" stroke-width="1.0"/><circle cx="44.3" cy="48.4" r="1.57" fill="#505050" stroke="#a2a2a2" stroke-width="1.0"/><circle cx="19.1" cy="39.9" r="1.67" fill="#505050" stroke="#a2a2a2" stroke-width="1.0"/><circle cx="46.3" cy="30.5" r="1.63" fill="#505050" stroke="#a2a2a2" stroke-width="1.0"/><circle cx="42.8" cy="14.2" r="1.77" fill="#505050" stroke="#a2a2a2" stroke-width="1.0"/><circle cx="17.4" cy="3.4" r="1.76" fill="#505050" stroke="#a2a2a2" stroke-width="1.0"/><circle cx="5.8" cy="28.1" r="1.52" fill="#505050" stroke="#a2a2a2" stroke-width="1.0"/><circle cx="43.3" cy="23.6" r="1.83" fill="#505050" stroke="#a2a2a2" stroke-width="1.0"/><circle cx="28.1" cy="23.0" r="1.63" fill="#505050" stroke="#a2a2a2" stroke-width="1.0"/><circle cx="23.0" cy="0.5" r="1.65" fill="#505050" stroke="#a2a2a2" stroke-width="1.0"/><circle cx="23.0" cy="53.5" r="1.65" fill="#505050" stroke="#a2a2a2" stroke-width="1.0"/><circle cx="35.8" cy="9.8" r="1.61" fill="#505050" stroke="#a2a2a2" stroke-width="1.0"/><circle cx="32.7" cy="42.3" r="1.60" fill="#505050" stroke="#a2a2a2" stroke-width="1.0"/><circle cx="54.7" cy="36.4" r="1.79" fill="#505050" stroke="#a2a2a2" stroke-width="1.0"/><circle cx="42.0" cy="29.3" r="1.74" fill="#505050" stroke="#a2a2a2" stroke-width="1.0"/><circle cx="18.4" cy="14.9" r="1.69" fill="#505050" stroke="#a2a2a2" stroke-width="1.0"/><circle cx="-2.0" cy="9.9" r="1.46" fill="#505050" stroke="#a2a2a2" stroke-width="1.0"/><circle cx="59.0" cy="9.9" r="1.46" fill="#505050" stroke="#a2a2a2" stroke-width="1.0"/><circle cx="40.6" cy="3.9" r="1.56" fill="#505050" stroke="#a2a2a2" stroke-width="1.0"/><circle cx="1.0" cy="13.3" r="1.63" fill="#505050" stroke="#a2a2a2" stroke-width="1.0"/><circle cx="62.0" cy="13.3" r="1.63" fill="#505050" stroke="#a2a2a2" stroke-width="1.0"/><circle cx="-1.6" cy="23.5" r="1.64" fill="#505050" stroke="#a2a2a2" stroke-width="1.0"/><circle cx="59.4" cy="23.5" r="1.64" fill="#505050" stroke="#a2a2a2" stroke-width="1.0"/><circle cx="54.7" cy="46.9" r="1.53" fill="#505050" stroke="#a2a2a2" stroke-width="1.0"/><circle cx="31.6" cy="-1.3" r="1.73" fill="#505050" stroke="#a2a2a2" stroke-width="1.0"/><circle cx="31.6" cy="51.7" r="1.73" fill="#505050" stroke="#a2a2a2" stroke-width="1.0"/><circle cx="22.5" cy="25.3" r="1.68" fill="#505050" stroke="#a2a2a2" stroke-width="1.0"/><circle cx="33.3" cy="38.8" r="1.50" fill="#505050" stroke="#a2a2a2" stroke-width="1.0"/><circle cx="56.4" cy="15.9" r="1.67" fill="#505050" stroke="#a2a2a2" stroke-width="1.0"/><circle cx="5.4" cy="18.1" r="1.51" fill="#505050" stroke="#a2a2a2" stroke-width="1.0"/><circle cx="50.6" cy="33.2" r="1.61" fill="#505050" stroke="#a2a2a2" stroke-width="1.0"/><circle cx="13.2" cy="14.0" r="1.83" fill="#505050" stroke="#a2a2a2" stroke-width="1.0"/><circle cx="35.0" cy="48.3" r="1.51" fill="#505050" stroke="#a2a2a2" stroke-width="1.0"/><circle cx="33.1" cy="23.2" r="1.56" fill="#505050" stroke="#a2a2a2" stroke-width="1.0"/><circle cx="48.2" cy="40.9" r="1.78" fill="#505050" stroke="#a2a2a2" stroke-width="1.0"/><circle cx="10.4" cy="22.6" r="1.63" fill="#505050" stroke="#a2a2a2" stroke-width="1.0"/><circle cx="13.4" cy="35.3" r="1.69" fill="#505050" stroke="#a2a2a2" stroke-width="1.0"/><circle cx="52.2" cy="41.3" r="1.57" fill="#505050" stroke="#a2a2a2" stroke-width="1.0"/><circle cx="6.0" cy="45.7" r="1.58" fill="#505050" stroke="#a2a2a2" stroke-width="1.0"/><circle cx="-1.0" cy="16.5" r="1.55" fill="#505050" stroke="#a2a2a2" stroke-width="1.0"/><circle cx="60.0" cy="16.5" r="1.55" fill="#505050" stroke="#a2a2a2" stroke-width="1.0"/><circle cx="18.4" cy="29.7" r="1.69" fill="#505050" stroke="#a2a2a2" stroke-width="1.0"/><circle cx="31.8" cy="9.6" r="1.63" fill="#505050" stroke="#a2a2a2" stroke-width="1.0"/><circle cx="21.3" cy="21.9" r="1.56" fill="#505050" stroke="#a2a2a2" stroke-width="1.0"/><circle cx="10.4" cy="46.9" r="1.82" fill="#505050" stroke="#a2a2a2" stroke-width="1.0"/><circle cx="21.9" cy="15.8" r="1.57" fill="#505050" stroke="#a2a2a2" stroke-width="1.0"/><circle cx="35.9" cy="30.5" r="1.50" fill="#505050" stroke="#a2a2a2" stroke-width="1.0"/><circle cx="14.1" cy="29.1" r="1.69" fill="#505050" stroke="#a2a2a2" stroke-width="1.0"/><circle cx="10.4" cy="19.0" r="1.72" fill="#505050" stroke="#a2a2a2" stroke-width="1.0"/><circle cx="50.4" cy="29.6" r="1.55" fill="#505050" stroke="#a2a2a2" stroke-width="1.0"/><circle cx="45.4" cy="10.2" r="1.52" fill="#505050" stroke="#a2a2a2" stroke-width="1.0"/><circle cx="-0.7" cy="41.5" r="1.74" fill="#505050" stroke="#a2a2a2" stroke-width="1.0"/><circle cx="60.3" cy="41.5" r="1.74" fill="#505050" stroke="#a2a2a2" stroke-width="1.0"/><circle cx="26.2" cy="26.0" r="1.61" fill="#505050" stroke="#a2a2a2" stroke-width="1.0"/><circle cx="15.0" cy="10.5" r="1.63" fill="#505050" stroke="#a2a2a2" stroke-width="1.0"/><circle cx="4.5" cy="-2.3" r="1.72" fill="#505050" stroke="#a2a2a2" stroke-width="1.0"/><circle cx="4.5" cy="50.7" r="1.72" fill="#505050" stroke="#a2a2a2" stroke-width="1.0"/><circle cx="29.6" cy="1.7" r="1.59" fill="#505050" stroke="#a2a2a2" stroke-width="1.0"/><circle cx="29.6" cy="54.7" r="1.59" fill="#505050" stroke="#a2a2a2" stroke-width="1.0"/><circle cx="12.7" cy="1.7" r="1.63" fill="#505050" stroke="#a2a2a2" stroke-width="1.0"/><circle cx="12.7" cy="54.7" r="1.63" fill="#505050" stroke="#a2a2a2" stroke-width="1.0"/><circle cx="0.7" cy="-2.2" r="1.84" fill="#505050" stroke="#a2a2a2" stroke-width="1.0"/><circle cx="0.7" cy="50.8" r="1.84" fill="#505050" stroke="#a2a2a2" stroke-width="1.0"/><circle cx="61.7" cy="-2.2" r="1.84" fill="#505050" stroke="#a2a2a2" stroke-width="1.0"/><circle cx="61.7" cy="50.8" r="1.84" fill="#505050" stroke="#a2a2a2" stroke-width="1.0"/><circle cx="39.1" cy="35.6" r="1.73" fill="#505050" stroke="#a2a2a2" stroke-width="1.0"/><circle cx="27.1" cy="30.2" r="1.53" fill="#505050" stroke="#a2a2a2" stroke-width="1.0"/><circle cx="44.4" cy="42.6" r="1.78" fill="#505050" stroke="#a2a2a2" stroke-width="1.0"/><circle cx="55.3" cy="8.1" r="1.79" fill="#505050" stroke="#a2a2a2" stroke-width="1.0"/><circle cx="31.2" cy="33.7" r="1.74" fill="#505050" stroke="#a2a2a2" stroke-width="1.0"/><circle cx="22.6" cy="35.3" r="1.68" fill="#505050" stroke="#a2a2a2" stroke-width="1.0"/><circle cx="55.6" cy="1.4" r="1.48" fill="#505050" stroke="#a2a2a2" stroke-width="1.0"/><circle cx="55.6" cy="54.4" r="1.48" fill="#505050" stroke="#a2a2a2" stroke-width="1.0"/><circle cx="1.6" cy="28.3" r="1.75" fill="#505050" stroke="#a2a2a2" stroke-width="1.0"/><circle cx="62.6" cy="28.3" r="1.75" fill="#505050" stroke="#a2a2a2" stroke-width="1.0"/><circle cx="36.9" cy="43.4" r="1.52" fill="#505050" stroke="#a2a2a2" stroke-width="1.0"/><circle cx="6.3" cy="10.5" r="1.69" fill="#505050" stroke="#a2a2a2" stroke-width="1.0"/><circle cx="39.3" cy="22.4" r="1.60" fill="#505050" stroke="#a2a2a2" stroke-width="1.0"/><circle cx="53.1" cy="22.9" r="1.80" fill="#505050" stroke="#a2a2a2" stroke-width="1.0"/><circle cx="40.7" cy="11.0" r="1.81" fill="#505050" stroke="#a2a2a2" stroke-width="1.0"/><circle cx="25.1" cy="20.9" r="1.78" fill="#505050" stroke="#a2a2a2" stroke-width="1.0"/><circle cx="57.0" cy="43.1" r="1.46" fill="#505050" stroke="#a2a2a2" stroke-width="1.0"/><circle cx="38.6" cy="0.0" r="1.65" fill="#505050" stroke="#a2a2a2" stroke-width="1.0"/><circle cx="38.6" cy="53.0" r="1.65" fill="#505050" stroke="#a2a2a2" stroke-width="1.0"/><circle cx="46.3" cy="26.3" r="1.45" fill="#505050" stroke="#a2a2a2" stroke-width="1.0"/><circle cx="11.8" cy="39.1" r="1.61" fill="#505050" stroke="#a2a2a2" stroke-width="1.0"/><circle cx="13.7" cy="24.7" r="1.57" fill="#505050" stroke="#a2a2a2" stroke-width="1.0"/><circle cx="25.9" cy="40.6" r="1.46" fill="#505050" stroke="#a2a2a2" stroke-width="1.0"/></pattern></defs><clipPath id="Cc"><rect width="229.0" height="152.2"/></clipPath><g transform="translate(28.2,465.4)"><g clip-path="url(#Cc)"><g filter="url(#txC)"><rect width="229.0" height="152.2" fill="#6c6c6c"/><g filter="url(#b3)"><polygon points="0.0,0.0 76.0,0.0 76.0,17.0 71.5,27.7 62.3,46.0 46.0,69.0 32.3,87.7 20.8,101.5 10.0,120.0 0.0,125.0" fill="#7c7c7c"/><polygon points="10.4,76.0 18.5,57.7 25.4,46.0 37.0,30.0 46.0,23.0 50.0,27.0 40.0,38.0 30.0,52.0 22.0,66.0 16.0,80.0" fill="#979797"/><polygon points="25.0,50.0 37.0,36.0 48.0,30.0 56.0,35.0 58.0,48.0 46.0,69.0 32.0,85.0 24.0,80.0 22.0,66.0" fill="#5c5c5c"/><polygon points="76.0,2.0 110.0,6.0 145.0,3.0 176.0,2.0 172.0,23.0 163.0,39.0 150.0,50.0 120.0,56.0 90.0,60.0 62.0,50.0 71.5,27.7" fill="#7e7e7e"/><polygon points="62.0,46.0 90.0,58.0 120.0,55.0 150.0,50.0 163.0,39.0 180.0,60.0 188.0,100.0 192.0,130.0 150.0,134.0 100.0,132.0 60.0,128.0 30.0,112.0 46.0,69.0" fill="#646464"/><polygon points="176.0,6.0 206.0,14.0 207.0,60.0 202.0,128.0 197.0,138.0 190.0,136.0 186.0,80.0 178.0,40.0 172.0,23.0" fill="#585858"/><polygon points="206.0,14.0 229.0,18.0 229.0,152.0 205.0,140.0 202.0,128.0 207.0,60.0" fill="#626262"/><polygon points="178.0,0.0 229.0,0.0 229.0,24.0 212.0,25.0 192.0,22.0 179.0,12.0" fill="#969696"/><polygon points="0.0,125.0 10.0,120.0 20.8,101.5 32.3,87.7 40.0,105.0 60.0,126.0 69.0,134.0 23.0,131.0 0.0,133.0" fill="#6e6e6e"/><polygon points="128.0,143.0 229.0,143.0 229.0,152.2 132.0,152.2" fill="#646464"/></g><g filter="url(#b2)"><path d="M79.0,16.0 C78.1,17.9 76.0,22.7 73.5,27.7 C71.0,32.7 68.5,39.1 64.3,46.0 C60.0,52.9 53.0,62.0 48.0,69.0 C43.0,76.0 38.5,82.3 34.3,87.7 C30.1,93.1 24.7,99.2 22.8,101.5" fill="none" stroke="#e1e1e1" stroke-width="7" stroke-linecap="round" stroke-linejoin="round" opacity="0.8"/><path d="M12.4,76.0 C13.8,73.0 18.0,62.7 20.5,57.7 C23.0,52.7 24.3,50.6 27.4,46.0 C30.5,41.4 35.6,33.8 39.0,30.0 C42.4,26.2 44.5,24.7 48.0,23.0 C51.5,21.3 58.0,20.5 60.0,20.0" fill="none" stroke="#dcdcdc" stroke-width="6" stroke-linecap="round" stroke-linejoin="round" opacity="0.75"/><path d="M176.0,3.0 C175.0,5.8 172.3,14.2 170.0,20.0 C167.7,25.8 164.7,33.3 162.0,38.0 C159.3,42.7 155.3,46.3 154.0,48.0" fill="none" stroke="#c3c3c3" stroke-width="4" stroke-linecap="round" stroke-linejoin="round" opacity="0.5"/><path d="M2.0,0.0 C2.3,6.7 2.8,26.7 4.0,40.0 C5.2,53.3 7.7,68.3 9.0,80.0 C10.3,91.7 12.5,102.5 12.0,110.0 C11.5,117.5 7.0,122.5 6.0,125.0" fill="none" stroke="#bebebe" stroke-width="5" stroke-linecap="round" stroke-linejoin="round" opacity="0.65"/><path d="M72.0,5.0 C74.2,6.2 80.7,9.8 85.0,12.0 C89.3,14.2 95.8,17.0 98.0,18.0" fill="none" stroke="#cdcdcd" stroke-width="5" stroke-linecap="round" stroke-linejoin="round" opacity="0.6"/><path d="M200.0,55.0 C200.7,60.8 203.7,78.0 204.0,90.0 C204.3,102.0 202.3,120.8 202.0,127.0" fill="none" stroke="#c3c3c3" stroke-width="5" stroke-linecap="round" stroke-linejoin="round" opacity="0.6"/></g><polygon points="0.0,135.4 14.0,132.0 46.0,133.0 69.0,135.8 92.0,137.7 120.0,140.0 128.0,140.8 134.0,141.5 128.0,146.0 122.0,150.5 120.0,150.4 103.8,149.2 92.3,146.9 80.8,144.6 69.2,142.3 50.8,137.7 34.6,135.8 23.0,136.5 11.5,140.0 0.0,142.3" fill="#b6b6b6" filter="url(#b0_5)"/><path d="M0.0,135.4 C2.3,134.8 6.3,132.4 14.0,132.0 C21.7,131.6 36.8,132.4 46.0,133.0 C55.2,133.6 61.3,135.0 69.0,135.8 C76.7,136.6 83.5,137.0 92.0,137.7 C100.5,138.4 112.8,139.4 120.0,140.0 C127.2,140.6 132.5,140.8 135.0,141.0" fill="none" stroke="#dcdcdc" stroke-width="2.2" stroke-linecap="round" stroke-linejoin="round" filter="url(#b0_5)" opacity="0.9"/></g><mask id="mC"><polygon points="62.0,52.0 90.0,60.0 120.0,57.0 150.0,52.0 165.0,40.0 180.0,62.0 186.0,100.0 190.0,128.0 150.0,132.0 100.0,130.0 60.0,126.0 38.0,110.0 48.0,72.0" fill="#fff" filter="url(#b6)"/></mask><rect width="229.0" height="152.2" fill="url(#spW)" mask="url(#mC)" opacity="0.9"/><rect width="229.0" height="152.2" fill="url(#spB)" mask="url(#mC)" opacity="0.4"/><polygon points="76.0,4.0 110.0,8.0 145.0,5.0 172.0,4.0 168.0,25.0 160.0,40.0 140.0,52.0 110.0,56.0 80.0,58.0 64.0,50.0 71.5,28.0" fill="url(#spB)" opacity="0.9"/><polygon points="0.0,0.0 76.0,0.0 69.0,35.0 39.0,81.0 10.0,120.0 0.0,125.0" fill="url(#spB)" opacity="0.3"/><g filter="url(#b0_5)"><path d="M77.0,16.0 C76.1,17.9 74.0,22.7 71.5,27.7 C69.0,32.7 66.5,39.1 62.3,46.0 C58.0,52.9 51.0,62.0 46.0,69.0 C41.0,76.0 36.5,82.3 32.3,87.7 C28.1,93.1 22.7,99.2 20.8,101.5" fill="none" stroke="#e4e4e4" stroke-width="1.8" stroke-linecap="round" stroke-linejoin="round" opacity="0.9"/><path d="M71.5,4.6 C73.6,5.7 79.8,8.7 84.0,11.0 C88.2,13.3 94.8,17.2 97.0,18.5" fill="none" stroke="#dcdcdc" stroke-width="1.6" stroke-linecap="round" stroke-linejoin="round" opacity="0.8"/><path d="M10.4,76.0 C11.8,73.0 16.0,62.7 18.5,57.7 C21.0,52.7 22.3,50.6 25.4,46.0 C28.5,41.4 33.6,33.8 37.0,30.0 C40.4,26.2 42.2,24.7 46.0,23.0 C49.8,21.3 56.2,20.8 60.0,19.6 C63.8,18.4 67.5,16.6 69.0,16.0" fill="none" stroke="#e4e4e4" stroke-width="1.6" stroke-linecap="round" stroke-linejoin="round" opacity="0.85"/><path d="M47.3,21.9 C48.4,24.6 53.2,32.0 54.2,38.0 C55.2,44.0 53.2,54.4 53.0,57.7" fill="none" stroke="#d2d2d2" stroke-width="1.3" stroke-linecap="round" stroke-linejoin="round" opacity="0.75"/><path d="M179.0,4.6 C177.8,7.7 174.7,17.3 172.0,23.0 C169.3,28.7 165.7,34.8 163.0,39.0 C160.3,43.2 157.2,46.9 156.0,48.5" fill="none" stroke="#d2d2d2" stroke-width="1.5" stroke-linecap="round" stroke-linejoin="round" opacity="0.7"/><path d="M201.0,58.0 C201.7,63.3 204.7,78.5 205.0,90.0 C205.3,101.5 201.8,118.7 203.0,127.0 C204.2,135.3 210.5,137.8 212.0,140.0" fill="none" stroke="#d7d7d7" stroke-width="1.4" stroke-linecap="round" stroke-linejoin="round" opacity="0.85"/><path d="M14.0,100.0 C16.7,100.8 24.0,104.5 30.0,105.0 C36.0,105.5 43.3,103.8 50.0,103.0 C56.7,102.2 66.7,100.5 70.0,100.0" fill="none" stroke="#bebebe" stroke-width="1.1" stroke-linecap="round" stroke-linejoin="round" opacity="0.45"/><path d="M20.0,115.0 C23.3,115.5 33.3,116.3 40.0,118.0 C46.7,119.7 56.7,123.8 60.0,125.0" fill="none" stroke="#bebebe" stroke-width="1.1" stroke-linecap="round" stroke-linejoin="round" opacity="0.45"/><path d="M180.0,2.0 C181.7,3.0 186.7,6.3 190.0,8.0 C193.3,9.7 198.3,11.3 200.0,12.0" fill="none" stroke="#e1e1e1" stroke-width="1.1" stroke-linecap="round" stroke-linejoin="round" opacity="0.6"/><path d="M205.0,3.0 C206.2,4.8 209.2,11.2 212.0,14.0 C214.8,16.8 220.3,19.0 222.0,20.0" fill="none" stroke="#e1e1e1" stroke-width="1" stroke-linecap="round" stroke-linejoin="round" opacity="0.6"/><path d="M5.0,5.0 C5.2,9.2 6.2,20.8 6.0,30.0 C5.8,39.2 4.3,55.0 4.0,60.0" fill="none" stroke="#cdcdcd" stroke-width="1" stroke-linecap="round" stroke-linejoin="round" opacity="0.5"/></g><ellipse cx="223.5" cy="58" rx="5" ry="22" fill="#2d2d2d" filter="url(#b1)"/><path d="M218.5,36.0 C218.1,39.7 216.0,50.5 216.0,58.0 C216.0,65.5 218.1,77.2 218.5,81.0" fill="none" stroke="#d7d7d7" stroke-width="1.8" stroke-linecap="round" stroke-linejoin="round" filter="url(#b0_5)" opacity="0.9"/><circle cx="225.0" cy="97.0" r="3.50" fill="#d2d2d2" filter="url(#b0_5)"/><circle cx="220.0" cy="101.0" r="2.50" fill="#c8c8c8" filter="url(#b0_5)"/><circle cx="137.0" cy="38.0" r="3.00" fill="#bebebe" filter="url(#b0_5)"/><circle cx="1.5" cy="126.0" r="3.50" fill="#ebebeb" filter="url(#b0_5)"/><circle cx="196.0" cy="8.0" r="3.00" fill="#c8c8c8" filter="url(#b0_5)"/><circle cx="205.0" cy="15.0" r="2.50" fill="#c3c3c3" filter="url(#b0_5)"/><circle cx="215.0" cy="6.0" r="3.00" fill="#cdcdcd" filter="url(#b0_5)"/><circle cx="224.0" cy="18.0" r="2.50" fill="#c3c3c3" filter="url(#b0_5)"/><circle cx="188.0" cy="14.0" r="2.00" fill="#bebebe" filter="url(#b0_5)"/><polygon points="120.0,150.4 103.8,149.2 92.3,146.9 80.8,144.6 69.2,142.3 50.8,137.7 34.6,135.8 23.0,136.5 11.5,140.0 0.0,142.3 0.0,152.2 125.0,152.2" fill="#101010" filter="url(#b0_5)"/><circle cx="165.0" cy="147.0" r="2.20" fill="#bebebe" filter="url(#b0_8)"/><circle cx="196.0" cy="148.0" r="2.50" fill="#c8c8c8" filter="url(#b0_8)"/><circle cx="215.0" cy="147.0" r="3.00" fill="#bebebe" filter="url(#b0_8)"/><circle cx="223.0" cy="149.0" r="2.00" fill="#c8c8c8" filter="url(#b0_8)"/><polygon points="0.0,119.0 3.5,120.0 4.0,133.0 0.0,135.0" fill="#ebebeb" filter="url(#b0_8)"/><line x1="8.6" y1="3.5" x2="8.6" y2="28.0" stroke="#fff" stroke-width="1.5"/><polygon points="8.6,34.5 6.0,28.0 11.2,28.0" fill="#fff"/><rect x="129.8" y="140.7" width="90.0" height="1.8" fill="#f2f2f2"/></g></g><clipPath id="Dc"><rect width="229.0" height="152.2"/></clipPath><g transform="translate(280.5,465.6)"><g clip-path="url(#Dc)"><g filter="url(#txD)"><rect width="229.0" height="152.2" fill="#404040"/><g filter="url(#b4)"><polygon points="0.0,60.0 40.0,70.0 90.0,40.0 140.0,20.0 229.0,0.0 229.0,30.0 150.0,50.0 90.0,80.0 40.0,100.0 0.0,95.0" fill="#4a4a4a"/><polygon points="0.0,140.0 60.0,120.0 120.0,130.0 229.0,150.0 229.0,152.0 0.0,152.0" fill="#464646"/></g></g><g filter="url(#dsp)"><g fill="#b9b9b9"><circle cx="7.0" cy="19.7" r="2.2"/><circle cx="16.5" cy="15.8" r="3.6"/><circle cx="10.0" cy="16.4" r="3.5"/><circle cx="9.4" cy="15.2" r="3.2"/><circle cx="12.9" cy="23.0" r="3.3"/><circle cx="12.5" cy="15.4" r="3.0"/><circle cx="9.1" cy="14.2" r="3.1"/><circle cx="10.5" cy="12.7" r="4.2"/><circle cx="11.3" cy="21.1" r="4.1"/><circle cx="52.2" cy="26.4" r="2.4"/><circle cx="38.1" cy="25.7" r="3.5"/><circle cx="41.8" cy="26.0" r="3.4"/><circle cx="44.4" cy="22.0" r="3.7"/><circle cx="40.3" cy="24.8" r="3.4"/><circle cx="46.2" cy="26.5" r="2.4"/><circle cx="42.0" cy="28.5" r="3.2"/><circle cx="61.2" cy="10.6" r="3.9"/><circle cx="63.1" cy="3.7" r="3.0"/><circle cx="62.5" cy="7.7" r="3.0"/><circle cx="64.3" cy="11.9" r="2.9"/><circle cx="58.7" cy="13.6" r="3.8"/><circle cx="66.1" cy="7.1" r="2.2"/><circle cx="65.1" cy="6.5" r="3.9"/><circle cx="66.0" cy="7.7" r="3.7"/><circle cx="69.3" cy="13.6" r="3.3"/><circle cx="65.1" cy="16.9" r="3.6"/><circle cx="72.1" cy="19.2" r="3.1"/><circle cx="69.9" cy="20.1" r="2.4"/><circle cx="66.1" cy="20.1" r="3.6"/><circle cx="39.3" cy="41.4" r="2.5"/><circle cx="34.2" cy="41.6" r="3.1"/><circle cx="29.3" cy="35.3" r="2.7"/><circle cx="35.0" cy="40.7" r="3.3"/><circle cx="29.5" cy="36.7" r="3.5"/><circle cx="53.2" cy="40.6" r="3.4"/><circle cx="55.8" cy="37.7" r="3.0"/><circle cx="52.8" cy="36.7" r="2.3"/><circle cx="51.7" cy="37.3" r="3.5"/><circle cx="53.4" cy="34.4" r="3.5"/><circle cx="67.2" cy="43.6" r="3.0"/><circle cx="64.3" cy="43.2" r="2.6"/><circle cx="66.6" cy="44.3" r="3.2"/><circle cx="64.1" cy="39.3" r="2.6"/><circle cx="68.6" cy="43.6" r="2.9"/><circle cx="53.6" cy="50.1" r="3.1"/><circle cx="52.3" cy="49.4" r="2.6"/><circle cx="52.7" cy="51.8" r="2.9"/><circle cx="56.9" cy="49.1" r="3.2"/><circle cx="15.1" cy="40.3" r="3.1"/><circle cx="18.1" cy="44.1" r="2.5"/><circle cx="19.5" cy="43.2" r="2.3"/><circle cx="97.2" cy="47.2" r="2.3"/><circle cx="95.7" cy="47.6" r="3.6"/><circle cx="96.1" cy="46.6" r="3.5"/><circle cx="95.4" cy="44.5" r="3.2"/><circle cx="92.6" cy="45.5" r="2.6"/><circle cx="96.2" cy="46.7" r="2.2"/><circle cx="107.9" cy="43.0" r="3.1"/><circle cx="107.4" cy="42.1" r="3.2"/><circle cx="107.6" cy="46.1" r="2.5"/><circle cx="108.4" cy="43.1" r="3.4"/><circle cx="108.8" cy="39.0" r="2.2"/><circle cx="112.6" cy="56.0" r="3.5"/><circle cx="111.0" cy="52.2" r="2.8"/><circle cx="116.7" cy="55.3" r="3.1"/><circle cx="114.6" cy="54.8" r="3.4"/><circle cx="111.5" cy="53.2" r="3.4"/><circle cx="88.1" cy="9.7" r="3.6"/><circle cx="90.3" cy="9.1" r="2.9"/><circle cx="88.8" cy="10.3" r="3.1"/><circle cx="94.9" cy="4.7" r="3.3"/><circle cx="90.0" cy="6.1" r="2.9"/><circle cx="109.7" cy="5.4" r="2.5"/><circle cx="110.0" cy="7.2" r="2.6"/><circle cx="110.6" cy="10.8" r="3.0"/><circle cx="106.9" cy="7.3" r="2.8"/><circle cx="86.6" cy="23.1" r="2.2"/><circle cx="87.4" cy="24.8" r="3.1"/><circle cx="83.8" cy="27.8" r="3.3"/><circle cx="87.5" cy="26.8" r="3.3"/><circle cx="101.9" cy="24.8" r="2.9"/><circle cx="99.2" cy="24.9" r="3.3"/><circle cx="102.0" cy="25.5" r="2.3"/><circle cx="102.9" cy="29.7" r="2.2"/><circle cx="100.4" cy="24.2" r="2.3"/><circle cx="114.6" cy="23.9" r="2.7"/><circle cx="115.7" cy="22.2" r="2.9"/><circle cx="110.3" cy="22.3" r="2.8"/><circle cx="116.3" cy="22.5" r="2.3"/><circle cx="61.1" cy="59.9" r="2.3"/><circle cx="60.1" cy="60.7" r="2.9"/><circle cx="61.6" cy="61.2" r="2.4"/><circle cx="58.1" cy="55.8" r="2.5"/><circle cx="57.9" cy="58.5" r="3.6"/><circle cx="67.4" cy="55.4" r="2.3"/><circle cx="74.5" cy="62.0" r="2.6"/><circle cx="74.3" cy="62.6" r="3.2"/><circle cx="73.2" cy="60.0" r="3.6"/><circle cx="70.3" cy="60.3" r="3.5"/><circle cx="70.6" cy="63.6" r="2.5"/><circle cx="65.5" cy="70.9" r="3.3"/><circle cx="65.2" cy="72.9" r="2.2"/><circle cx="64.7" cy="72.8" r="2.6"/><circle cx="64.2" cy="74.0" r="3.5"/><circle cx="64.7" cy="76.5" r="3.6"/><circle cx="27.0" cy="63.5" r="2.8"/><circle cx="23.2" cy="61.7" r="3.3"/><circle cx="23.9" cy="64.0" r="3.2"/><circle cx="23.0" cy="60.0" r="2.7"/><circle cx="7.9" cy="69.0" r="3.3"/><circle cx="6.5" cy="67.6" r="2.9"/><circle cx="9.4" cy="67.1" r="2.3"/><circle cx="22.3" cy="77.9" r="2.3"/><circle cx="18.8" cy="73.1" r="3.0"/><circle cx="23.6" cy="72.2" r="3.1"/><circle cx="21.4" cy="73.5" r="2.6"/><circle cx="24.7" cy="73.1" r="2.7"/><circle cx="27.2" cy="82.8" r="3.3"/><circle cx="27.7" cy="82.6" r="3.5"/><circle cx="27.0" cy="85.6" r="3.2"/><circle cx="26.6" cy="80.7" r="2.9"/><circle cx="38.5" cy="76.9" r="3.3"/><circle cx="36.0" cy="77.0" r="3.6"/><circle cx="39.6" cy="77.8" r="3.3"/><circle cx="37.9" cy="78.7" r="2.2"/><circle cx="40.6" cy="81.2" r="2.8"/><circle cx="17.2" cy="89.8" r="3.2"/><circle cx="21.3" cy="91.0" r="2.2"/><circle cx="17.6" cy="91.9" r="3.2"/><circle cx="48.0" cy="98.6" r="2.8"/><circle cx="50.4" cy="98.6" r="2.9"/><circle cx="44.4" cy="98.1" r="3.7"/><circle cx="49.7" cy="97.5" r="2.9"/><circle cx="51.1" cy="100.7" r="3.0"/><circle cx="53.7" cy="99.0" r="2.3"/><circle cx="54.9" cy="95.0" r="2.9"/><circle cx="62.8" cy="97.1" r="2.7"/><circle cx="61.8" cy="96.6" r="3.2"/><circle cx="58.3" cy="91.6" r="3.3"/><circle cx="59.8" cy="94.3" r="3.3"/><circle cx="62.7" cy="98.4" r="2.5"/><circle cx="57.7" cy="97.3" r="3.1"/><circle cx="61.3" cy="93.8" r="3.2"/><circle cx="72.5" cy="93.4" r="2.2"/><circle cx="69.3" cy="93.1" r="3.0"/><circle cx="67.8" cy="91.6" r="3.1"/><circle cx="70.5" cy="87.5" r="3.7"/><circle cx="68.1" cy="91.6" r="2.4"/><circle cx="68.4" cy="94.1" r="3.3"/><circle cx="73.8" cy="100.3" r="2.9"/><circle cx="68.6" cy="104.3" r="2.7"/><circle cx="73.7" cy="100.5" r="2.8"/><circle cx="75.9" cy="105.1" r="3.5"/><circle cx="70.6" cy="106.0" r="3.5"/><circle cx="76.8" cy="101.4" r="2.4"/><circle cx="72.7" cy="97.6" r="3.9"/><circle cx="77.7" cy="103.0" r="3.1"/><circle cx="76.9" cy="114.3" r="3.8"/><circle cx="77.9" cy="106.7" r="3.5"/><circle cx="75.5" cy="102.3" r="2.6"/><circle cx="79.9" cy="107.2" r="3.7"/><circle cx="81.4" cy="111.3" r="3.1"/><circle cx="84.0" cy="116.3" r="3.6"/><circle cx="90.9" cy="116.7" r="3.6"/><circle cx="84.6" cy="118.9" r="3.1"/><circle cx="86.9" cy="116.8" r="3.1"/><circle cx="87.9" cy="119.5" r="2.7"/><circle cx="65.6" cy="108.9" r="3.1"/><circle cx="63.6" cy="111.6" r="3.7"/><circle cx="64.7" cy="106.9" r="2.4"/><circle cx="64.3" cy="109.2" r="3.2"/><circle cx="70.8" cy="107.9" r="3.7"/><circle cx="67.3" cy="107.3" r="2.7"/><circle cx="56.3" cy="110.0" r="2.4"/><circle cx="51.6" cy="109.4" r="3.3"/><circle cx="53.9" cy="109.2" r="3.1"/><circle cx="57.1" cy="110.6" r="3.2"/><circle cx="52.0" cy="107.5" r="3.6"/><circle cx="92.4" cy="108.0" r="2.5"/><circle cx="93.2" cy="105.3" r="3.5"/><circle cx="92.5" cy="98.0" r="2.8"/><circle cx="92.8" cy="103.3" r="2.8"/><circle cx="94.5" cy="102.9" r="3.5"/><circle cx="6.0" cy="110.6" r="2.3"/><circle cx="6.7" cy="106.2" r="3.4"/><circle cx="3.5" cy="111.2" r="2.7"/><circle cx="4.6" cy="108.2" r="2.3"/><circle cx="10.1" cy="113.1" r="3.1"/><circle cx="11.2" cy="115.1" r="3.2"/><circle cx="10.1" cy="115.9" r="3.1"/><circle cx="22.5" cy="102.0" r="3.3"/><circle cx="24.7" cy="100.4" r="2.9"/><circle cx="23.1" cy="101.7" r="3.1"/><circle cx="25.5" cy="99.7" r="2.9"/><circle cx="105.0" cy="95.8" r="2.7"/><circle cx="105.1" cy="96.8" r="3.0"/><circle cx="107.6" cy="97.7" r="3.2"/><circle cx="106.2" cy="101.9" r="2.2"/><circle cx="104.1" cy="100.2" r="2.6"/><circle cx="106.8" cy="115.7" r="2.8"/><circle cx="104.7" cy="113.0" r="2.5"/><circle cx="103.3" cy="113.2" r="2.4"/><circle cx="105.8" cy="116.0" r="2.5"/><circle cx="19.3" cy="112.2" r="2.3"/><circle cx="19.5" cy="107.3" r="2.7"/><circle cx="18.1" cy="108.7" r="2.7"/><circle cx="31.2" cy="115.4" r="3.0"/><circle cx="30.2" cy="115.3" r="3.0"/><circle cx="32.0" cy="116.5" r="2.2"/><circle cx="9.3" cy="136.7" r="2.7"/><circle cx="11.1" cy="137.6" r="2.2"/><circle cx="10.6" cy="131.4" r="2.3"/><circle cx="10.6" cy="135.7" r="2.5"/><circle cx="13.4" cy="134.7" r="3.6"/><circle cx="19.6" cy="141.6" r="2.9"/><circle cx="20.9" cy="145.7" r="2.6"/><circle cx="18.1" cy="140.1" r="2.5"/><circle cx="21.0" cy="139.9" r="2.8"/><circle cx="12.5" cy="146.9" r="2.2"/><circle cx="14.7" cy="145.7" r="2.3"/><circle cx="12.1" cy="143.2" r="2.9"/><circle cx="14.6" cy="146.1" r="2.8"/><circle cx="36.3" cy="129.2" r="2.5"/><circle cx="32.0" cy="128.0" r="2.5"/><circle cx="30.9" cy="127.0" r="2.4"/><circle cx="37.3" cy="128.9" r="2.3"/><circle cx="50.2" cy="136.1" r="2.2"/><circle cx="48.1" cy="142.2" r="2.6"/><circle cx="45.9" cy="138.5" r="2.8"/><circle cx="44.8" cy="140.3" r="2.7"/><circle cx="48.1" cy="139.2" r="2.3"/><circle cx="53.5" cy="144.5" r="3.3"/><circle cx="60.9" cy="140.7" r="3.2"/><circle cx="57.1" cy="142.0" r="3.3"/><circle cx="57.5" cy="144.6" r="2.2"/><circle cx="61.9" cy="134.2" r="3.1"/><circle cx="62.6" cy="134.2" r="2.7"/><circle cx="61.5" cy="135.9" r="2.6"/><circle cx="62.6" cy="134.7" r="3.0"/><circle cx="73.4" cy="140.8" r="2.3"/><circle cx="77.5" cy="145.4" r="2.9"/><circle cx="76.5" cy="139.8" r="3.0"/><circle cx="72.4" cy="142.2" r="2.8"/><circle cx="93.5" cy="140.0" r="2.7"/><circle cx="93.7" cy="135.1" r="3.0"/><circle cx="93.7" cy="135.3" r="3.5"/><circle cx="92.3" cy="138.5" r="3.2"/><circle cx="103.2" cy="146.0" r="2.7"/><circle cx="104.6" cy="141.9" r="3.3"/><circle cx="107.3" cy="145.0" r="2.9"/><circle cx="103.2" cy="141.4" r="2.9"/><circle cx="49.8" cy="125.9" r="3.1"/><circle cx="48.8" cy="127.8" r="2.5"/><circle cx="49.3" cy="121.5" r="3.1"/><circle cx="105.4" cy="63.5" r="3.1"/><circle cx="104.5" cy="62.1" r="3.4"/><circle cx="110.8" cy="62.3" r="2.3"/><circle cx="106.7" cy="59.6" r="2.4"/><circle cx="83.1" cy="51.7" r="2.5"/><circle cx="82.2" cy="50.9" r="2.4"/><circle cx="82.3" cy="52.0" r="3.3"/><circle cx="70.7" cy="72.1" r="2.6"/><circle cx="72.2" cy="76.2" r="2.8"/><circle cx="114.1" cy="82.9" r="2.2"/><circle cx="116.3" cy="85.0" r="3.6"/><circle cx="112.0" cy="79.3" r="2.4"/><circle cx="110.7" cy="86.2" r="3.5"/><circle cx="113.0" cy="83.2" r="2.9"/><circle cx="112.5" cy="3.6" r="2.5"/><circle cx="111.9" cy="4.7" r="2.9"/><circle cx="110.9" cy="3.7" r="2.9"/><circle cx="115.4" cy="10.7" r="3.5"/><circle cx="117.7" cy="8.7" r="2.6"/><circle cx="121.6" cy="12.6" r="2.8"/><circle cx="120.4" cy="7.0" r="3.3"/><circle cx="129.2" cy="4.9" r="3.3"/><circle cx="125.2" cy="5.4" r="2.7"/><circle cx="131.3" cy="1.5" r="3.1"/><circle cx="115.5" cy="18.0" r="2.9"/><circle cx="115.7" cy="19.6" r="2.6"/><circle cx="115.6" cy="22.0" r="3.2"/><circle cx="123.7" cy="22.3" r="3.1"/><circle cx="125.2" cy="20.9" r="2.9"/><circle cx="129.9" cy="22.9" r="2.4"/><circle cx="131.9" cy="23.6" r="2.9"/><circle cx="111.8" cy="36.0" r="2.7"/><circle cx="113.4" cy="33.8" r="2.6"/><circle cx="115.8" cy="37.1" r="2.6"/><circle cx="125.6" cy="39.2" r="2.3"/><circle cx="128.9" cy="44.0" r="2.7"/><circle cx="127.2" cy="39.7" r="3.2"/><circle cx="124.0" cy="41.0" r="2.7"/><circle cx="137.4" cy="30.5" r="3.1"/><circle cx="136.0" cy="29.2" r="3.3"/><circle cx="135.0" cy="30.5" r="3.2"/><circle cx="119.5" cy="54.9" r="2.3"/><circle cx="115.0" cy="53.4" r="2.9"/><circle cx="122.2" cy="50.9" r="2.5"/><circle cx="117.6" cy="57.5" r="2.7"/><circle cx="131.4" cy="64.7" r="3.1"/><circle cx="128.4" cy="64.4" r="2.2"/><circle cx="131.0" cy="64.3" r="2.6"/><circle cx="131.9" cy="62.7" r="2.8"/><circle cx="141.6" cy="50.9" r="2.5"/><circle cx="139.6" cy="49.7" r="2.6"/><circle cx="140.9" cy="53.5" r="2.4"/><circle cx="137.9" cy="9.2" r="3.0"/><circle cx="137.5" cy="10.4" r="3.0"/><circle cx="137.4" cy="13.5" r="2.9"/><circle cx="161.2" cy="76.5" r="2.8"/><circle cx="160.6" cy="81.9" r="2.6"/><circle cx="156.8" cy="78.1" r="3.0"/><circle cx="154.7" cy="78.3" r="2.5"/><circle cx="156.3" cy="80.9" r="3.3"/><circle cx="180.0" cy="77.7" r="3.4"/><circle cx="178.3" cy="79.7" r="3.3"/><circle cx="175.8" cy="79.1" r="2.2"/><circle cx="174.8" cy="77.7" r="3.4"/><circle cx="168.2" cy="88.3" r="2.7"/><circle cx="161.9" cy="88.0" r="2.5"/><circle cx="165.2" cy="90.8" r="2.9"/><circle cx="163.6" cy="88.4" r="3.4"/><circle cx="185.4" cy="94.2" r="2.6"/><circle cx="187.3" cy="95.5" r="3.1"/><circle cx="186.9" cy="92.2" r="2.3"/><circle cx="185.6" cy="100.0" r="3.5"/><circle cx="184.3" cy="100.2" r="3.0"/><circle cx="167.2" cy="99.2" r="2.5"/><circle cx="171.6" cy="96.7" r="2.3"/><circle cx="167.6" cy="99.0" r="2.6"/><circle cx="168.1" cy="99.5" r="3.1"/><circle cx="189.7" cy="84.2" r="3.2"/><circle cx="191.2" cy="85.8" r="2.6"/><circle cx="188.7" cy="87.5" r="3.5"/><circle cx="190.3" cy="87.5" r="2.8"/><circle cx="199.6" cy="81.4" r="3.2"/><circle cx="198.5" cy="81.2" r="2.4"/><circle cx="201.8" cy="81.1" r="2.3"/><circle cx="200.7" cy="80.5" r="2.8"/><circle cx="213.9" cy="71.1" r="3.0"/><circle cx="214.5" cy="74.9" r="2.9"/><circle cx="213.8" cy="76.4" r="3.1"/><circle cx="213.4" cy="73.1" r="2.6"/><circle cx="218.8" cy="85.1" r="3.2"/><circle cx="218.6" cy="88.2" r="3.4"/><circle cx="221.0" cy="88.0" r="3.0"/><circle cx="223.0" cy="87.1" r="2.9"/><circle cx="221.1" cy="86.7" r="3.3"/><circle cx="221.4" cy="99.4" r="2.7"/><circle cx="220.1" cy="99.5" r="2.4"/><circle cx="221.0" cy="104.0" r="3.6"/><circle cx="222.4" cy="96.6" r="2.3"/><circle cx="219.4" cy="101.7" r="2.4"/><circle cx="207.5" cy="108.6" r="3.0"/><circle cx="209.4" cy="110.3" r="3.5"/><circle cx="211.2" cy="107.1" r="3.2"/><circle cx="210.0" cy="113.4" r="2.3"/><circle cx="212.0" cy="109.6" r="3.1"/><circle cx="201.2" cy="115.8" r="2.3"/><circle cx="199.5" cy="113.7" r="2.9"/><circle cx="202.3" cy="115.0" r="2.4"/><circle cx="198.9" cy="116.5" r="3.1"/><circle cx="224.5" cy="120.7" r="2.9"/><circle cx="225.6" cy="120.2" r="2.8"/><circle cx="224.5" cy="120.8" r="2.2"/><circle cx="224.9" cy="117.6" r="3.4"/><circle cx="212.7" cy="131.2" r="2.6"/><circle cx="216.3" cy="133.1" r="3.1"/><circle cx="216.6" cy="130.0" r="2.8"/><circle cx="212.8" cy="129.5" r="3.3"/><circle cx="214.1" cy="132.1" r="3.6"/><circle cx="188.3" cy="116.8" r="2.4"/><circle cx="189.2" cy="118.5" r="2.9"/><circle cx="187.8" cy="118.5" r="2.7"/><circle cx="190.6" cy="121.1" r="3.4"/><circle cx="182.2" cy="129.3" r="3.3"/><circle cx="176.9" cy="130.2" r="2.7"/><circle cx="181.4" cy="130.3" r="2.4"/><circle cx="177.4" cy="129.8" r="2.8"/><circle cx="170.1" cy="117.8" r="3.2"/><circle cx="170.4" cy="119.6" r="2.5"/><circle cx="170.5" cy="118.7" r="2.3"/><circle cx="171.8" cy="117.9" r="3.1"/><circle cx="158.1" cy="124.1" r="3.1"/><circle cx="161.4" cy="124.8" r="2.4"/><circle cx="156.4" cy="124.7" r="3.3"/><circle cx="150.0" cy="133.3" r="2.3"/><circle cx="150.9" cy="136.2" r="2.3"/><circle cx="148.9" cy="133.8" r="2.9"/><circle cx="163.8" cy="136.8" r="3.0"/><circle cx="168.7" cy="142.5" r="3.2"/><circle cx="166.8" cy="137.6" r="3.0"/><circle cx="184.6" cy="147.1" r="2.5"/><circle cx="187.3" cy="145.7" r="3.1"/><circle cx="185.9" cy="144.6" r="2.2"/><circle cx="201.1" cy="139.0" r="3.2"/><circle cx="201.3" cy="140.9" r="3.2"/><circle cx="199.6" cy="137.2" r="2.9"/><circle cx="220.0" cy="138.7" r="2.3"/><circle cx="221.2" cy="137.9" r="3.3"/><circle cx="221.4" cy="141.9" r="2.6"/><circle cx="220.1" cy="137.7" r="3.3"/><circle cx="115.8" cy="78.2" r="2.6"/><circle cx="113.7" cy="75.5" r="3.0"/><circle cx="117.3" cy="77.3" r="2.3"/><circle cx="115.0" cy="77.7" r="3.0"/><circle cx="125.4" cy="79.9" r="2.5"/><circle cx="125.6" cy="82.2" r="3.2"/><circle cx="125.1" cy="81.7" r="3.1"/><circle cx="133.9" cy="91.3" r="2.2"/><circle cx="129.2" cy="91.1" r="2.4"/><circle cx="136.9" cy="89.4" r="3.4"/><circle cx="133.4" cy="88.1" r="2.7"/><circle cx="112.8" cy="101.2" r="3.3"/><circle cx="110.6" cy="98.1" r="3.1"/><circle cx="112.7" cy="99.6" r="2.4"/><circle cx="118.5" cy="102.5" r="2.2"/><circle cx="118.6" cy="107.0" r="2.8"/><circle cx="117.7" cy="107.4" r="2.5"/><circle cx="123.2" cy="107.9" r="3.1"/><circle cx="128.6" cy="108.6" r="3.3"/><circle cx="130.6" cy="109.2" r="2.2"/><circle cx="130.0" cy="109.9" r="2.3"/><circle cx="116.5" cy="120.5" r="2.2"/><circle cx="115.4" cy="119.9" r="2.4"/><circle cx="114.3" cy="119.0" r="3.0"/><circle cx="127.2" cy="127.0" r="2.9"/><circle cx="127.9" cy="122.2" r="2.7"/><circle cx="126.9" cy="126.1" r="2.6"/><circle cx="121.4" cy="128.9" r="2.5"/><circle cx="134.8" cy="127.9" r="3.1"/><circle cx="135.3" cy="129.8" r="2.3"/><circle cx="134.9" cy="129.8" r="2.9"/><circle cx="113.3" cy="144.6" r="2.5"/><circle cx="113.2" cy="140.3" r="2.5"/><circle cx="113.5" cy="138.9" r="2.6"/><circle cx="119.6" cy="144.9" r="2.8"/><circle cx="121.2" cy="148.2" r="2.3"/><circle cx="122.7" cy="143.7" r="2.6"/><circle cx="150.6" cy="100.5" r="3.1"/><circle cx="148.2" cy="100.6" r="3.1"/><circle cx="150.5" cy="98.7" r="2.3"/><circle cx="145.7" cy="118.2" r="2.9"/><circle cx="144.1" cy="118.0" r="2.2"/><circle cx="145.6" cy="115.4" r="2.8"/><circle cx="157.7" cy="76.1" r="2.3"/><circle cx="156.9" cy="76.1" r="3.3"/><circle cx="156.1" cy="75.0" r="2.2"/><circle cx="210.7" cy="93.8" r="3.1"/><circle cx="208.5" cy="91.8" r="2.3"/><circle cx="207.7" cy="90.1" r="2.7"/><circle cx="227.1" cy="110.3" r="2.5"/><circle cx="226.8" cy="108.4" r="2.9"/><circle cx="229.4" cy="110.9" r="2.7"/><circle cx="61.9" cy="32.8" r="3.0"/><circle cx="21.0" cy="113.3" r="2.5"/><circle cx="18.0" cy="65.2" r="2.8"/><circle cx="19.8" cy="35.1" r="2.3"/><circle cx="4.0" cy="27.3" r="2.9"/><circle cx="104.0" cy="41.3" r="2.8"/><circle cx="103.1" cy="42.3" r="3.2"/><circle cx="-1.3" cy="125.0" r="2.8"/><circle cx="96.0" cy="41.3" r="2.9"/><circle cx="18.7" cy="14.7" r="2.7"/><circle cx="20.7" cy="15.3" r="2.5"/><circle cx="78.8" cy="40.2" r="2.2"/><circle cx="167.6" cy="80.3" r="2.2"/><circle cx="15.1" cy="46.3" r="2.5"/><circle cx="141.3" cy="131.7" r="2.5"/><circle cx="41.8" cy="10.1" r="2.7"/><circle cx="51.0" cy="42.6" r="2.4"/><circle cx="197.5" cy="132.0" r="2.9"/><circle cx="63.4" cy="97.8" r="2.6"/><circle cx="37.8" cy="53.0" r="2.7"/><circle cx="60.1" cy="144.4" r="2.8"/><circle cx="15.7" cy="97.5" r="2.8"/><circle cx="85.0" cy="153.9" r="2.5"/><circle cx="73.6" cy="117.5" r="2.6"/><circle cx="51.9" cy="3.4" r="2.3"/><circle cx="93.7" cy="9.5" r="2.3"/><circle cx="61.9" cy="36.3" r="2.5"/><circle cx="122.8" cy="113.5" r="2.5"/><circle cx="46.9" cy="153.0" r="2.5"/><circle cx="112.8" cy="116.6" r="2.8"/><circle cx="115.1" cy="117.4" r="2.2"/><circle cx="24.3" cy="96.5" r="2.7"/><circle cx="22.9" cy="96.1" r="3.2"/><circle cx="157.2" cy="90.7" r="2.6"/><circle cx="86.2" cy="154.3" r="2.5"/><circle cx="56.2" cy="84.3" r="2.8"/><circle cx="202.9" cy="113.1" r="2.3"/><circle cx="200.7" cy="114.8" r="2.6"/><circle cx="98.6" cy="68.5" r="3.0"/><circle cx="113.7" cy="25.8" r="2.6"/><circle cx="147.6" cy="92.9" r="2.3"/><circle cx="85.3" cy="24.1" r="2.3"/><circle cx="86.2" cy="24.7" r="3.0"/><circle cx="211.0" cy="140.8" r="2.7"/><circle cx="74.6" cy="1.1" r="2.8"/><circle cx="203.1" cy="128.2" r="2.7"/><circle cx="54.3" cy="35.5" r="2.7"/><circle cx="112.0" cy="8.1" r="3.1"/><circle cx="110.4" cy="9.0" r="2.8"/><circle cx="123.3" cy="16.5" r="2.5"/><circle cx="108.9" cy="83.3" r="2.4"/><circle cx="120.2" cy="91.0" r="2.8"/><circle cx="214.2" cy="114.6" r="2.4"/><circle cx="43.9" cy="46.6" r="2.6"/><circle cx="118.8" cy="16.0" r="2.5"/><circle cx="13.4" cy="0.8" r="2.3"/><circle cx="51.1" cy="33.0" r="2.3"/><circle cx="12.0" cy="3.5" r="2.5"/><circle cx="14.7" cy="34.8" r="2.4"/><circle cx="111.2" cy="83.0" r="2.3"/><circle cx="215.5" cy="86.1" r="3.0"/><circle cx="56.2" cy="71.3" r="2.7"/><circle cx="44.0" cy="11.9" r="2.4"/><circle cx="80.4" cy="62.1" r="2.8"/><circle cx="81.5" cy="60.7" r="3.2"/><circle cx="167.4" cy="102.1" r="2.4"/><circle cx="21.9" cy="60.6" r="2.6"/><circle cx="42.9" cy="81.1" r="2.8"/><circle cx="96.9" cy="41.1" r="2.4"/><circle cx="187.6" cy="131.7" r="2.6"/><circle cx="11.0" cy="153.6" r="2.6"/><circle cx="7.6" cy="154.5" r="2.5"/><circle cx="4.2" cy="10.8" r="2.7"/><circle cx="1.6" cy="13.5" r="2.8"/><circle cx="111.9" cy="30.7" r="2.5"/><circle cx="-1.2" cy="59.3" r="2.6"/><circle cx="-2.6" cy="57.9" r="2.8"/><circle cx="160.8" cy="111.5" r="2.6"/><circle cx="163.2" cy="111.9" r="2.5"/><circle cx="127.8" cy="109.9" r="2.3"/><circle cx="41.8" cy="32.2" r="2.2"/><circle cx="133.9" cy="84.2" r="2.7"/><circle cx="70.1" cy="6.3" r="2.3"/><circle cx="116.6" cy="130.7" r="2.7"/><circle cx="11.4" cy="77.3" r="2.7"/><circle cx="12.1" cy="76.5" r="2.4"/><circle cx="42.4" cy="90.6" r="2.2"/><circle cx="215.9" cy="87.6" r="2.6"/><circle cx="138.1" cy="93.7" r="2.3"/><circle cx="150.8" cy="86.3" r="2.2"/><circle cx="89.5" cy="103.6" r="2.7"/><circle cx="104.3" cy="143.0" r="2.6"/><circle cx="0.7" cy="95.6" r="2.5"/><circle cx="47.6" cy="39.3" r="2.3"/><circle cx="201.9" cy="136.1" r="2.7"/><circle cx="64.0" cy="68.2" r="2.7"/><circle cx="161.0" cy="94.6" r="3.2"/><circle cx="161.9" cy="93.8" r="2.7"/><circle cx="152.6" cy="144.4" r="2.9"/><circle cx="58.9" cy="136.1" r="3.0"/><circle cx="128.7" cy="41.1" r="2.4"/><circle cx="46.1" cy="52.8" r="2.9"/><circle cx="113.1" cy="140.9" r="2.2"/><circle cx="111.0" cy="140.3" r="2.9"/><circle cx="8.4" cy="97.3" r="2.9"/><circle cx="11.3" cy="98.7" r="2.3"/><circle cx="64.8" cy="0.4" r="3.0"/><circle cx="60.4" cy="-3.2" r="3.0"/><circle cx="29.1" cy="150.5" r="2.7"/><circle cx="172.8" cy="84.3" r="2.7"/><circle cx="128.6" cy="14.7" r="2.8"/><circle cx="206.6" cy="83.0" r="3.1"/><circle cx="208.4" cy="81.7" r="2.6"/><circle cx="85.2" cy="85.9" r="2.7"/><circle cx="30.9" cy="46.4" r="2.8"/><circle cx="26.9" cy="46.2" r="2.6"/><circle cx="81.0" cy="105.3" r="2.4"/><circle cx="20.1" cy="121.6" r="2.7"/><circle cx="20.4" cy="123.4" r="2.7"/><circle cx="92.5" cy="95.1" r="2.2"/><circle cx="36.3" cy="121.2" r="2.8"/><circle cx="213.0" cy="122.6" r="3.1"/><circle cx="213.7" cy="125.3" r="3.0"/><circle cx="34.3" cy="108.4" r="2.8"/><circle cx="201.5" cy="131.2" r="2.6"/><circle cx="44.5" cy="140.7" r="2.8"/><circle cx="69.3" cy="121.8" r="2.3"/><circle cx="51.5" cy="102.6" r="2.8"/><circle cx="74.3" cy="131.3" r="2.2"/><circle cx="74.2" cy="132.2" r="3.1"/><circle cx="62.3" cy="97.0" r="2.2"/><circle cx="156.3" cy="130.5" r="2.7"/><circle cx="24.2" cy="65.1" r="2.7"/></g><g fill="#828282"><circle cx="7.2" cy="19.9" r="1.4"/><circle cx="16.7" cy="16.0" r="2.7"/><circle cx="10.2" cy="16.6" r="2.6"/><circle cx="9.6" cy="15.4" r="2.4"/><circle cx="13.1" cy="23.2" r="2.5"/><circle cx="12.7" cy="15.6" r="2.2"/><circle cx="9.3" cy="14.4" r="2.2"/><circle cx="10.7" cy="12.9" r="3.3"/><circle cx="11.5" cy="21.3" r="3.3"/><circle cx="52.4" cy="26.6" r="1.6"/><circle cx="38.3" cy="25.9" r="2.7"/><circle cx="42.0" cy="26.2" r="2.6"/><circle cx="44.6" cy="22.2" r="2.9"/><circle cx="40.5" cy="25.0" r="2.6"/><circle cx="46.4" cy="26.7" r="1.5"/><circle cx="42.2" cy="28.7" r="2.3"/><circle cx="61.4" cy="10.8" r="3.1"/><circle cx="63.3" cy="3.9" r="2.2"/><circle cx="62.7" cy="7.9" r="2.2"/><circle cx="64.5" cy="12.1" r="2.0"/><circle cx="58.9" cy="13.8" r="2.9"/><circle cx="66.3" cy="7.3" r="1.3"/><circle cx="65.3" cy="6.7" r="3.0"/><circle cx="66.2" cy="7.9" r="2.9"/><circle cx="69.5" cy="13.8" r="2.5"/><circle cx="65.3" cy="17.1" r="2.8"/><circle cx="72.3" cy="19.4" r="2.3"/><circle cx="70.1" cy="20.3" r="1.6"/><circle cx="66.3" cy="20.3" r="2.7"/><circle cx="39.5" cy="41.6" r="1.6"/><circle cx="34.4" cy="41.8" r="2.2"/><circle cx="29.5" cy="35.5" r="1.9"/><circle cx="35.2" cy="40.9" r="2.5"/><circle cx="29.7" cy="36.9" r="2.7"/><circle cx="53.4" cy="40.8" r="2.5"/><circle cx="56.0" cy="37.9" r="2.1"/><circle cx="53.0" cy="36.9" r="1.4"/><circle cx="51.9" cy="37.5" r="2.6"/><circle cx="53.6" cy="34.6" r="2.7"/><circle cx="67.4" cy="43.8" r="2.2"/><circle cx="64.5" cy="43.4" r="1.7"/><circle cx="66.8" cy="44.5" r="2.3"/><circle cx="64.3" cy="39.5" r="1.7"/><circle cx="68.8" cy="43.8" r="2.1"/><circle cx="53.8" cy="50.3" r="2.3"/><circle cx="52.5" cy="49.6" r="1.8"/><circle cx="52.9" cy="52.0" r="2.0"/><circle cx="57.1" cy="49.3" r="2.3"/><circle cx="15.3" cy="40.5" r="2.2"/><circle cx="18.3" cy="44.3" r="1.7"/><circle cx="19.7" cy="43.4" r="1.5"/><circle cx="97.4" cy="47.4" r="1.5"/><circle cx="95.9" cy="47.8" r="2.7"/><circle cx="96.3" cy="46.8" r="2.6"/><circle cx="95.6" cy="44.7" r="2.3"/><circle cx="92.8" cy="45.7" r="1.8"/><circle cx="96.4" cy="46.9" r="1.4"/><circle cx="108.1" cy="43.2" r="2.2"/><circle cx="107.6" cy="42.3" r="2.3"/><circle cx="107.8" cy="46.3" r="1.7"/><circle cx="108.6" cy="43.3" r="2.5"/><circle cx="109.0" cy="39.2" r="1.4"/><circle cx="112.8" cy="56.2" r="2.7"/><circle cx="111.2" cy="52.4" r="2.0"/><circle cx="116.9" cy="55.5" r="2.2"/><circle cx="114.8" cy="55.0" r="2.6"/><circle cx="111.7" cy="53.4" r="2.5"/><circle cx="88.3" cy="9.9" r="2.8"/><circle cx="90.5" cy="9.3" r="2.0"/><circle cx="89.0" cy="10.5" r="2.3"/><circle cx="95.1" cy="4.9" r="2.5"/><circle cx="90.2" cy="6.3" r="2.1"/><circle cx="109.9" cy="5.6" r="1.7"/><circle cx="110.2" cy="7.4" r="1.7"/><circle cx="110.8" cy="11.0" r="2.2"/><circle cx="107.1" cy="7.5" r="1.9"/><circle cx="86.8" cy="23.3" r="1.4"/><circle cx="87.6" cy="25.0" r="2.3"/><circle cx="84.0" cy="28.0" r="2.5"/><circle cx="87.7" cy="27.0" r="2.5"/><circle cx="102.1" cy="25.0" r="2.0"/><circle cx="99.4" cy="25.1" r="2.5"/><circle cx="102.2" cy="25.7" r="1.5"/><circle cx="103.1" cy="29.9" r="1.3"/><circle cx="100.6" cy="24.4" r="1.4"/><circle cx="114.8" cy="24.1" r="1.8"/><circle cx="115.9" cy="22.4" r="2.0"/><circle cx="110.5" cy="22.5" r="2.0"/><circle cx="116.5" cy="22.7" r="1.4"/><circle cx="61.3" cy="60.1" r="1.5"/><circle cx="60.3" cy="60.9" r="2.0"/><circle cx="61.8" cy="61.4" r="1.6"/><circle cx="58.3" cy="56.0" r="1.7"/><circle cx="58.1" cy="58.7" r="2.8"/><circle cx="67.6" cy="55.6" r="1.4"/><circle cx="74.7" cy="62.2" r="1.8"/><circle cx="74.5" cy="62.8" r="2.3"/><circle cx="73.4" cy="60.2" r="2.8"/><circle cx="70.5" cy="60.5" r="2.7"/><circle cx="70.8" cy="63.8" r="1.6"/><circle cx="65.7" cy="71.1" r="2.5"/><circle cx="65.4" cy="73.1" r="1.4"/><circle cx="64.9" cy="73.0" r="1.8"/><circle cx="64.4" cy="74.2" r="2.6"/><circle cx="64.9" cy="76.7" r="2.8"/><circle cx="27.2" cy="63.7" r="1.9"/><circle cx="23.4" cy="61.9" r="2.4"/><circle cx="24.1" cy="64.2" r="2.3"/><circle cx="23.2" cy="60.2" r="1.8"/><circle cx="8.1" cy="69.2" r="2.4"/><circle cx="6.7" cy="67.8" r="2.1"/><circle cx="9.6" cy="67.3" r="1.4"/><circle cx="22.5" cy="78.1" r="1.5"/><circle cx="19.0" cy="73.3" r="2.1"/><circle cx="23.8" cy="72.4" r="2.3"/><circle cx="21.6" cy="73.7" r="1.7"/><circle cx="24.9" cy="73.3" r="1.9"/><circle cx="27.4" cy="83.0" r="2.4"/><circle cx="27.9" cy="82.8" r="2.6"/><circle cx="27.2" cy="85.8" r="2.4"/><circle cx="26.8" cy="80.9" r="2.1"/><circle cx="38.7" cy="77.1" r="2.5"/><circle cx="36.2" cy="77.2" r="2.8"/><circle cx="39.8" cy="78.0" r="2.5"/><circle cx="38.1" cy="78.9" r="1.4"/><circle cx="40.8" cy="81.4" r="2.0"/><circle cx="17.4" cy="90.0" r="2.4"/><circle cx="21.5" cy="91.2" r="1.3"/><circle cx="17.8" cy="92.1" r="2.4"/><circle cx="48.2" cy="98.8" r="2.0"/><circle cx="50.6" cy="98.8" r="2.1"/><circle cx="44.6" cy="98.3" r="2.9"/><circle cx="49.9" cy="97.7" r="2.0"/><circle cx="51.3" cy="100.9" r="2.2"/><circle cx="53.9" cy="99.2" r="1.4"/><circle cx="55.1" cy="95.2" r="2.0"/><circle cx="63.0" cy="97.3" r="1.9"/><circle cx="62.0" cy="96.8" r="2.3"/><circle cx="58.5" cy="91.8" r="2.4"/><circle cx="60.0" cy="94.5" r="2.5"/><circle cx="62.9" cy="98.6" r="1.6"/><circle cx="57.9" cy="97.5" r="2.3"/><circle cx="61.5" cy="94.0" r="2.4"/><circle cx="72.7" cy="93.6" r="1.4"/><circle cx="69.5" cy="93.3" r="2.1"/><circle cx="68.0" cy="91.8" r="2.3"/><circle cx="70.7" cy="87.7" r="2.9"/><circle cx="68.3" cy="91.8" r="1.5"/><circle cx="68.6" cy="94.3" r="2.4"/><circle cx="74.0" cy="100.5" r="2.1"/><circle cx="68.8" cy="104.5" r="1.8"/><circle cx="73.9" cy="100.7" r="2.0"/><circle cx="76.1" cy="105.3" r="2.6"/><circle cx="70.8" cy="106.2" r="2.7"/><circle cx="77.0" cy="101.6" r="1.6"/><circle cx="72.9" cy="97.8" r="3.0"/><circle cx="77.9" cy="103.2" r="2.3"/><circle cx="77.1" cy="114.5" r="2.9"/><circle cx="78.1" cy="106.9" r="2.6"/><circle cx="75.7" cy="102.5" r="1.8"/><circle cx="80.1" cy="107.4" r="2.9"/><circle cx="81.6" cy="111.5" r="2.2"/><circle cx="84.2" cy="116.5" r="2.7"/><circle cx="91.1" cy="116.9" r="2.8"/><circle cx="84.8" cy="119.1" r="2.2"/><circle cx="87.1" cy="117.0" r="2.2"/><circle cx="88.1" cy="119.7" r="1.9"/><circle cx="65.8" cy="109.1" r="2.3"/><circle cx="63.8" cy="111.8" r="2.8"/><circle cx="64.9" cy="107.1" r="1.5"/><circle cx="64.5" cy="109.4" r="2.4"/><circle cx="71.0" cy="108.1" r="2.9"/><circle cx="67.5" cy="107.5" r="1.8"/><circle cx="56.5" cy="110.2" r="1.6"/><circle cx="51.8" cy="109.6" r="2.4"/><circle cx="54.1" cy="109.4" r="2.2"/><circle cx="57.3" cy="110.8" r="2.4"/><circle cx="52.2" cy="107.7" r="2.8"/><circle cx="92.6" cy="108.2" r="1.7"/><circle cx="93.4" cy="105.5" r="2.7"/><circle cx="92.7" cy="98.2" r="2.0"/><circle cx="93.0" cy="103.5" r="1.9"/><circle cx="94.7" cy="103.1" r="2.6"/><circle cx="6.2" cy="110.8" r="1.5"/><circle cx="6.9" cy="106.4" r="2.5"/><circle cx="3.7" cy="111.4" r="1.9"/><circle cx="4.8" cy="108.4" r="1.4"/><circle cx="10.3" cy="113.3" r="2.3"/><circle cx="11.4" cy="115.3" r="2.4"/><circle cx="10.3" cy="116.1" r="2.2"/><circle cx="22.7" cy="102.2" r="2.4"/><circle cx="24.9" cy="100.6" r="2.1"/><circle cx="23.3" cy="101.9" r="2.2"/><circle cx="25.7" cy="99.9" r="2.0"/><circle cx="105.2" cy="96.0" r="1.9"/><circle cx="105.3" cy="97.0" r="2.2"/><circle cx="107.8" cy="97.9" r="2.3"/><circle cx="106.4" cy="102.1" r="1.4"/><circle cx="104.3" cy="100.4" r="1.8"/><circle cx="107.0" cy="115.9" r="1.9"/><circle cx="104.9" cy="113.2" r="1.7"/><circle cx="103.5" cy="113.4" r="1.6"/><circle cx="106.0" cy="116.2" r="1.7"/><circle cx="19.5" cy="112.4" r="1.4"/><circle cx="19.7" cy="107.5" r="1.8"/><circle cx="18.3" cy="108.9" r="1.8"/><circle cx="31.4" cy="115.6" r="2.2"/><circle cx="30.4" cy="115.5" r="2.1"/><circle cx="32.2" cy="116.7" r="1.3"/><circle cx="9.5" cy="136.9" r="1.9"/><circle cx="11.3" cy="137.8" r="1.3"/><circle cx="10.8" cy="131.6" r="1.5"/><circle cx="10.8" cy="135.9" r="1.6"/><circle cx="13.6" cy="134.9" r="2.8"/><circle cx="19.8" cy="141.8" r="2.0"/><circle cx="21.1" cy="145.9" r="1.8"/><circle cx="18.3" cy="140.3" r="1.6"/><circle cx="21.2" cy="140.1" r="1.9"/><circle cx="12.7" cy="147.1" r="1.4"/><circle cx="14.9" cy="145.9" r="1.5"/><circle cx="12.3" cy="143.4" r="2.0"/><circle cx="14.8" cy="146.3" r="2.0"/><circle cx="36.5" cy="129.4" r="1.6"/><circle cx="32.2" cy="128.2" r="1.7"/><circle cx="31.1" cy="127.2" r="1.5"/><circle cx="37.5" cy="129.1" r="1.4"/><circle cx="50.4" cy="136.3" r="1.3"/><circle cx="48.3" cy="142.4" r="1.8"/><circle cx="46.1" cy="138.7" r="1.9"/><circle cx="45.0" cy="140.5" r="1.8"/><circle cx="48.3" cy="139.4" r="1.5"/><circle cx="53.7" cy="144.7" r="2.5"/><circle cx="61.1" cy="140.9" r="2.4"/><circle cx="57.3" cy="142.2" r="2.5"/><circle cx="57.7" cy="144.8" r="1.4"/><circle cx="62.1" cy="134.4" r="2.2"/><circle cx="62.8" cy="134.4" r="1.8"/><circle cx="61.7" cy="136.1" r="1.8"/><circle cx="62.8" cy="134.9" r="2.1"/><circle cx="73.6" cy="141.0" r="1.5"/><circle cx="77.7" cy="145.6" r="2.0"/><circle cx="76.7" cy="140.0" r="2.1"/><circle cx="72.6" cy="142.4" r="2.0"/><circle cx="93.7" cy="140.2" r="1.9"/><circle cx="93.9" cy="135.3" r="2.1"/><circle cx="93.9" cy="135.5" r="2.6"/><circle cx="92.5" cy="138.7" r="2.3"/><circle cx="103.4" cy="146.2" r="1.9"/><circle cx="104.8" cy="142.1" r="2.4"/><circle cx="107.5" cy="145.2" r="2.1"/><circle cx="103.4" cy="141.6" r="2.0"/><circle cx="50.0" cy="126.1" r="2.3"/><circle cx="49.0" cy="128.0" r="1.6"/><circle cx="49.5" cy="121.7" r="2.2"/><circle cx="105.6" cy="63.7" r="2.3"/><circle cx="104.7" cy="62.3" r="2.5"/><circle cx="111.0" cy="62.5" r="1.5"/><circle cx="106.9" cy="59.8" r="1.6"/><circle cx="83.3" cy="51.9" r="1.6"/><circle cx="82.4" cy="51.1" r="1.6"/><circle cx="82.5" cy="52.2" r="2.5"/><circle cx="70.9" cy="72.3" r="1.8"/><circle cx="72.4" cy="76.4" r="2.0"/><circle cx="114.3" cy="83.1" r="1.4"/><circle cx="116.5" cy="85.2" r="2.7"/><circle cx="112.2" cy="79.5" r="1.6"/><circle cx="110.9" cy="86.4" r="2.7"/><circle cx="113.2" cy="83.4" r="2.1"/><circle cx="112.7" cy="3.8" r="1.6"/><circle cx="112.1" cy="4.9" r="2.1"/><circle cx="111.1" cy="3.9" r="2.0"/><circle cx="115.6" cy="10.9" r="2.6"/><circle cx="117.9" cy="8.9" r="1.7"/><circle cx="121.8" cy="12.8" r="1.9"/><circle cx="120.6" cy="7.2" r="2.5"/><circle cx="129.4" cy="5.1" r="2.4"/><circle cx="125.4" cy="5.6" r="1.9"/><circle cx="131.5" cy="1.7" r="2.3"/><circle cx="115.7" cy="18.2" r="2.0"/><circle cx="115.9" cy="19.8" r="1.7"/><circle cx="115.8" cy="22.2" r="2.4"/><circle cx="123.9" cy="22.5" r="2.3"/><circle cx="125.4" cy="21.1" r="2.1"/><circle cx="130.1" cy="23.1" r="1.6"/><circle cx="132.1" cy="23.8" r="2.0"/><circle cx="112.0" cy="36.2" r="1.9"/><circle cx="113.6" cy="34.0" r="1.7"/><circle cx="116.0" cy="37.3" r="1.8"/><circle cx="125.8" cy="39.4" r="1.5"/><circle cx="129.1" cy="44.2" r="1.8"/><circle cx="127.4" cy="39.9" r="2.3"/><circle cx="124.2" cy="41.2" r="1.9"/><circle cx="137.6" cy="30.7" r="2.2"/><circle cx="136.2" cy="29.4" r="2.4"/><circle cx="135.2" cy="30.7" r="2.3"/><circle cx="119.7" cy="55.1" r="1.5"/><circle cx="115.2" cy="53.6" r="2.1"/><circle cx="122.4" cy="51.1" r="1.6"/><circle cx="117.8" cy="57.7" r="1.9"/><circle cx="131.6" cy="64.9" r="2.3"/><circle cx="128.6" cy="64.6" r="1.4"/><circle cx="131.2" cy="64.5" r="1.7"/><circle cx="132.1" cy="62.9" r="1.9"/><circle cx="141.8" cy="51.1" r="1.7"/><circle cx="139.8" cy="49.9" r="1.8"/><circle cx="141.1" cy="53.7" r="1.6"/><circle cx="138.1" cy="9.4" r="2.2"/><circle cx="137.7" cy="10.6" r="2.1"/><circle cx="137.6" cy="13.7" r="2.1"/><circle cx="161.4" cy="76.7" r="2.0"/><circle cx="160.8" cy="82.1" r="1.8"/><circle cx="157.0" cy="78.3" r="2.1"/><circle cx="154.9" cy="78.5" r="1.7"/><circle cx="156.5" cy="81.1" r="2.4"/><circle cx="180.2" cy="77.9" r="2.5"/><circle cx="178.5" cy="79.9" r="2.4"/><circle cx="176.0" cy="79.3" r="1.4"/><circle cx="175.0" cy="77.9" r="2.5"/><circle cx="168.4" cy="88.5" r="1.9"/><circle cx="162.1" cy="88.2" r="1.7"/><circle cx="165.4" cy="91.0" r="2.0"/><circle cx="163.8" cy="88.6" r="2.6"/><circle cx="185.6" cy="94.4" r="1.7"/><circle cx="187.5" cy="95.7" r="2.3"/><circle cx="187.1" cy="92.4" r="1.4"/><circle cx="185.8" cy="100.2" r="2.7"/><circle cx="184.5" cy="100.4" r="2.2"/><circle cx="167.4" cy="99.4" r="1.7"/><circle cx="171.8" cy="96.9" r="1.5"/><circle cx="167.8" cy="99.2" r="1.7"/><circle cx="168.3" cy="99.7" r="2.2"/><circle cx="189.9" cy="84.4" r="2.4"/><circle cx="191.4" cy="86.0" r="1.8"/><circle cx="188.9" cy="87.7" r="2.6"/><circle cx="190.5" cy="87.7" r="1.9"/><circle cx="199.8" cy="81.6" r="2.3"/><circle cx="198.7" cy="81.4" r="1.5"/><circle cx="202.0" cy="81.3" r="1.4"/><circle cx="200.9" cy="80.7" r="2.0"/><circle cx="214.1" cy="71.3" r="2.1"/><circle cx="214.7" cy="75.1" r="2.1"/><circle cx="214.0" cy="76.6" r="2.2"/><circle cx="213.6" cy="73.3" r="1.7"/><circle cx="219.0" cy="85.3" r="2.4"/><circle cx="218.8" cy="88.4" r="2.6"/><circle cx="221.2" cy="88.2" r="2.2"/><circle cx="223.2" cy="87.3" r="2.0"/><circle cx="221.3" cy="86.9" r="2.5"/><circle cx="221.6" cy="99.6" r="1.8"/><circle cx="220.3" cy="99.7" r="1.6"/><circle cx="221.2" cy="104.2" r="2.7"/><circle cx="222.6" cy="96.8" r="1.4"/><circle cx="219.6" cy="101.9" r="1.5"/><circle cx="207.7" cy="108.8" r="2.2"/><circle cx="209.6" cy="110.5" r="2.6"/><circle cx="211.4" cy="107.3" r="2.4"/><circle cx="210.2" cy="113.6" r="1.5"/><circle cx="212.2" cy="109.8" r="2.3"/><circle cx="201.4" cy="116.0" r="1.4"/><circle cx="199.7" cy="113.9" r="2.1"/><circle cx="202.5" cy="115.2" r="1.5"/><circle cx="199.1" cy="116.7" r="2.3"/><circle cx="224.7" cy="120.9" r="2.0"/><circle cx="225.8" cy="120.4" r="1.9"/><circle cx="224.7" cy="121.0" r="1.3"/><circle cx="225.1" cy="117.8" r="2.6"/><circle cx="212.9" cy="131.4" r="1.8"/><circle cx="216.5" cy="133.3" r="2.2"/><circle cx="216.8" cy="130.2" r="1.9"/><circle cx="213.0" cy="129.7" r="2.5"/><circle cx="214.3" cy="132.3" r="2.7"/><circle cx="188.5" cy="117.0" r="1.5"/><circle cx="189.4" cy="118.7" r="2.1"/><circle cx="188.0" cy="118.7" r="1.8"/><circle cx="190.8" cy="121.3" r="2.6"/><circle cx="182.4" cy="129.5" r="2.5"/><circle cx="177.1" cy="130.4" r="1.9"/><circle cx="181.6" cy="130.5" r="1.6"/><circle cx="177.6" cy="130.0" r="2.0"/><circle cx="170.3" cy="118.0" r="2.3"/><circle cx="170.6" cy="119.8" r="1.6"/><circle cx="170.7" cy="118.9" r="1.5"/><circle cx="172.0" cy="118.1" r="2.2"/><circle cx="158.3" cy="124.3" r="2.3"/><circle cx="161.6" cy="125.0" r="1.5"/><circle cx="156.6" cy="124.9" r="2.4"/><circle cx="150.2" cy="133.5" r="1.5"/><circle cx="151.1" cy="136.4" r="1.5"/><circle cx="149.1" cy="134.0" r="2.1"/><circle cx="164.0" cy="137.0" r="2.2"/><circle cx="168.9" cy="142.7" r="2.3"/><circle cx="167.0" cy="137.8" r="2.1"/><circle cx="184.8" cy="147.3" r="1.7"/><circle cx="187.5" cy="145.9" r="2.2"/><circle cx="186.1" cy="144.8" r="1.3"/><circle cx="201.3" cy="139.2" r="2.4"/><circle cx="201.5" cy="141.1" r="2.4"/><circle cx="199.8" cy="137.4" r="2.1"/><circle cx="220.2" cy="138.9" r="1.4"/><circle cx="221.4" cy="138.1" r="2.5"/><circle cx="221.6" cy="142.1" r="1.8"/><circle cx="220.3" cy="137.9" r="2.5"/><circle cx="116.0" cy="78.4" r="1.8"/><circle cx="113.9" cy="75.7" r="2.1"/><circle cx="117.5" cy="77.5" r="1.5"/><circle cx="115.2" cy="77.9" r="2.2"/><circle cx="125.6" cy="80.1" r="1.6"/><circle cx="125.8" cy="82.4" r="2.4"/><circle cx="125.3" cy="81.9" r="2.3"/><circle cx="134.1" cy="91.5" r="1.3"/><circle cx="129.4" cy="91.3" r="1.5"/><circle cx="137.1" cy="89.6" r="2.5"/><circle cx="133.6" cy="88.3" r="1.8"/><circle cx="113.0" cy="101.4" r="2.5"/><circle cx="110.8" cy="98.3" r="2.2"/><circle cx="112.9" cy="99.8" r="1.6"/><circle cx="118.7" cy="102.7" r="1.4"/><circle cx="118.8" cy="107.2" r="2.0"/><circle cx="117.9" cy="107.6" r="1.6"/><circle cx="123.4" cy="108.1" r="2.3"/><circle cx="128.8" cy="108.8" r="2.5"/><circle cx="130.8" cy="109.4" r="1.4"/><circle cx="130.2" cy="110.1" r="1.4"/><circle cx="116.7" cy="120.7" r="1.3"/><circle cx="115.6" cy="120.1" r="1.5"/><circle cx="114.5" cy="119.2" r="2.2"/><circle cx="127.4" cy="127.2" r="2.1"/><circle cx="128.1" cy="122.4" r="1.8"/><circle cx="127.1" cy="126.3" r="1.7"/><circle cx="121.6" cy="129.1" r="1.6"/><circle cx="135.0" cy="128.1" r="2.2"/><circle cx="135.5" cy="130.0" r="1.5"/><circle cx="135.1" cy="130.0" r="2.1"/><circle cx="113.5" cy="144.8" r="1.7"/><circle cx="113.4" cy="140.5" r="1.6"/><circle cx="113.7" cy="139.1" r="1.8"/><circle cx="119.8" cy="145.1" r="2.0"/><circle cx="121.4" cy="148.4" r="1.5"/><circle cx="122.9" cy="143.9" r="1.8"/><circle cx="150.8" cy="100.7" r="2.2"/><circle cx="148.4" cy="100.8" r="2.2"/><circle cx="150.7" cy="98.9" r="1.4"/><circle cx="145.9" cy="118.4" r="2.0"/><circle cx="144.3" cy="118.2" r="1.4"/><circle cx="145.8" cy="115.6" r="2.0"/><circle cx="157.9" cy="76.3" r="1.4"/><circle cx="157.1" cy="76.3" r="2.4"/><circle cx="156.3" cy="75.2" r="1.4"/><circle cx="210.9" cy="94.0" r="2.3"/><circle cx="208.7" cy="92.0" r="1.4"/><circle cx="207.9" cy="90.3" r="1.8"/><circle cx="227.3" cy="110.5" r="1.6"/><circle cx="227.0" cy="108.6" r="2.0"/><circle cx="229.6" cy="111.1" r="1.9"/><circle cx="62.1" cy="33.0" r="2.2"/><circle cx="21.2" cy="113.5" r="1.6"/><circle cx="18.2" cy="65.4" r="1.9"/><circle cx="20.0" cy="35.3" r="1.4"/><circle cx="4.2" cy="27.5" r="2.0"/><circle cx="104.2" cy="41.5" r="1.9"/><circle cx="103.3" cy="42.5" r="2.3"/><circle cx="-1.1" cy="125.2" r="1.9"/><circle cx="96.2" cy="41.5" r="2.0"/><circle cx="18.9" cy="14.9" r="1.8"/><circle cx="20.9" cy="15.5" r="1.7"/><circle cx="79.0" cy="40.4" r="1.3"/><circle cx="167.8" cy="80.5" r="1.4"/><circle cx="15.3" cy="46.5" r="1.6"/><circle cx="141.5" cy="131.9" r="1.7"/><circle cx="42.0" cy="10.3" r="1.9"/><circle cx="51.2" cy="42.8" r="1.6"/><circle cx="197.7" cy="132.2" r="2.1"/><circle cx="63.6" cy="98.0" r="1.8"/><circle cx="38.0" cy="53.2" r="1.9"/><circle cx="60.3" cy="144.6" r="2.0"/><circle cx="15.9" cy="97.7" r="1.9"/><circle cx="85.2" cy="154.1" r="1.6"/><circle cx="73.8" cy="117.7" r="1.7"/><circle cx="52.1" cy="3.6" r="1.5"/><circle cx="93.9" cy="9.7" r="1.4"/><circle cx="62.1" cy="36.5" r="1.6"/><circle cx="123.0" cy="113.7" r="1.7"/><circle cx="47.1" cy="153.2" r="1.7"/><circle cx="113.0" cy="116.8" r="2.0"/><circle cx="115.3" cy="117.6" r="1.3"/><circle cx="24.5" cy="96.7" r="1.8"/><circle cx="23.1" cy="96.3" r="2.3"/><circle cx="157.4" cy="90.9" r="1.7"/><circle cx="86.4" cy="154.5" r="1.6"/><circle cx="56.4" cy="84.5" r="1.9"/><circle cx="203.1" cy="113.3" r="1.4"/><circle cx="200.9" cy="115.0" r="1.7"/><circle cx="98.8" cy="68.7" r="2.1"/><circle cx="113.9" cy="26.0" r="1.7"/><circle cx="147.8" cy="93.1" r="1.4"/><circle cx="85.5" cy="24.3" r="1.5"/><circle cx="86.4" cy="24.9" r="2.2"/><circle cx="211.2" cy="141.0" r="1.8"/><circle cx="74.8" cy="1.3" r="2.0"/><circle cx="203.3" cy="128.4" r="1.9"/><circle cx="54.5" cy="35.7" r="1.8"/><circle cx="112.2" cy="8.3" r="2.2"/><circle cx="110.6" cy="9.2" r="1.9"/><circle cx="123.5" cy="16.7" r="1.7"/><circle cx="109.1" cy="83.5" r="1.6"/><circle cx="120.4" cy="91.2" r="1.9"/><circle cx="214.4" cy="114.8" r="1.6"/><circle cx="44.1" cy="46.8" r="1.7"/><circle cx="119.0" cy="16.2" r="1.6"/><circle cx="13.6" cy="1.0" r="1.5"/><circle cx="51.3" cy="33.2" r="1.4"/><circle cx="12.2" cy="3.7" r="1.7"/><circle cx="14.9" cy="35.0" r="1.5"/><circle cx="111.4" cy="83.2" r="1.5"/><circle cx="215.7" cy="86.3" r="2.2"/><circle cx="56.4" cy="71.5" r="1.8"/><circle cx="44.2" cy="12.1" r="1.5"/><circle cx="80.6" cy="62.3" r="2.0"/><circle cx="81.7" cy="60.9" r="2.3"/><circle cx="167.6" cy="102.3" r="1.6"/><circle cx="22.1" cy="60.8" r="1.8"/><circle cx="43.1" cy="81.3" r="1.9"/><circle cx="97.1" cy="41.3" r="1.5"/><circle cx="187.8" cy="131.9" r="1.7"/><circle cx="11.2" cy="153.8" r="1.8"/><circle cx="7.8" cy="154.7" r="1.6"/><circle cx="4.4" cy="11.0" r="1.9"/><circle cx="1.8" cy="13.7" r="2.0"/><circle cx="112.1" cy="30.9" r="1.7"/><circle cx="-1.0" cy="59.5" r="1.8"/><circle cx="-2.4" cy="58.1" r="1.9"/><circle cx="161.0" cy="111.7" r="1.7"/><circle cx="163.4" cy="112.1" r="1.7"/><circle cx="128.0" cy="110.1" r="1.4"/><circle cx="42.0" cy="32.4" r="1.3"/><circle cx="134.1" cy="84.4" r="1.8"/><circle cx="70.3" cy="6.5" r="1.4"/><circle cx="116.8" cy="130.9" r="1.8"/><circle cx="11.6" cy="77.5" r="1.9"/><circle cx="12.3" cy="76.7" r="1.5"/><circle cx="42.6" cy="90.8" r="1.3"/><circle cx="216.1" cy="87.8" r="1.8"/><circle cx="138.3" cy="93.9" r="1.4"/><circle cx="151.0" cy="86.5" r="1.3"/><circle cx="89.7" cy="103.8" r="1.9"/><circle cx="104.5" cy="143.2" r="1.8"/><circle cx="0.9" cy="95.8" r="1.7"/><circle cx="47.8" cy="39.5" r="1.5"/><circle cx="202.1" cy="136.3" r="1.8"/><circle cx="64.2" cy="68.4" r="1.9"/><circle cx="161.2" cy="94.8" r="2.3"/><circle cx="162.1" cy="94.0" r="1.8"/><circle cx="152.8" cy="144.6" r="2.0"/><circle cx="59.1" cy="136.3" r="2.1"/><circle cx="128.9" cy="41.3" r="1.5"/><circle cx="46.3" cy="53.0" r="2.1"/><circle cx="113.3" cy="141.1" r="1.3"/><circle cx="111.2" cy="140.5" r="2.1"/><circle cx="8.6" cy="97.5" r="2.0"/><circle cx="11.5" cy="98.9" r="1.5"/><circle cx="65.0" cy="0.6" r="2.2"/><circle cx="60.6" cy="-3.0" r="2.1"/><circle cx="29.3" cy="150.7" r="1.8"/><circle cx="173.0" cy="84.5" r="1.9"/><circle cx="128.8" cy="14.9" r="2.0"/><circle cx="206.8" cy="83.2" r="2.2"/><circle cx="208.6" cy="81.9" r="1.8"/><circle cx="85.4" cy="86.1" r="1.9"/><circle cx="31.1" cy="46.6" r="1.9"/><circle cx="27.1" cy="46.4" r="1.8"/><circle cx="81.2" cy="105.5" r="1.6"/><circle cx="20.3" cy="121.8" r="1.9"/><circle cx="20.6" cy="123.6" r="1.8"/><circle cx="92.7" cy="95.3" r="1.3"/><circle cx="36.5" cy="121.4" r="1.9"/><circle cx="213.2" cy="122.8" r="2.2"/><circle cx="213.9" cy="125.5" r="2.2"/><circle cx="34.5" cy="108.6" r="1.9"/><circle cx="201.7" cy="131.4" r="1.8"/><circle cx="44.7" cy="140.9" r="1.9"/><circle cx="69.5" cy="122.0" r="1.5"/><circle cx="51.7" cy="102.8" r="1.9"/><circle cx="74.5" cy="131.5" r="1.3"/><circle cx="74.4" cy="132.4" r="2.3"/><circle cx="62.5" cy="97.2" r="1.4"/><circle cx="156.5" cy="130.7" r="1.8"/><circle cx="24.4" cy="65.3" r="1.8"/></g><g fill="#cdcdcd"><circle cx="16.2" cy="17.3" r="0.8"/><circle cx="13.6" cy="22.0" r="0.6"/><circle cx="13.3" cy="15.6" r="0.5"/><circle cx="11.2" cy="13.2" r="0.4"/><circle cx="42.4" cy="27.2" r="0.7"/><circle cx="42.8" cy="29.6" r="0.6"/><circle cx="63.8" cy="3.7" r="0.5"/><circle cx="63.5" cy="6.6" r="0.5"/><circle cx="63.9" cy="11.8" r="0.4"/><circle cx="66.9" cy="6.7" r="0.6"/><circle cx="66.0" cy="7.3" r="0.7"/><circle cx="69.6" cy="20.8" r="0.5"/><circle cx="66.9" cy="18.6" r="0.8"/><circle cx="38.4" cy="40.9" r="0.7"/><circle cx="35.4" cy="41.5" r="0.5"/><circle cx="30.9" cy="35.7" r="0.6"/><circle cx="53.7" cy="41.5" r="0.7"/><circle cx="52.8" cy="36.6" r="0.5"/><circle cx="51.8" cy="37.8" r="0.6"/><circle cx="66.6" cy="43.9" r="0.5"/><circle cx="68.8" cy="43.0" r="0.6"/><circle cx="53.4" cy="49.4" r="0.7"/><circle cx="52.0" cy="52.3" r="0.5"/><circle cx="57.6" cy="48.5" r="0.6"/><circle cx="20.3" cy="43.4" r="0.7"/><circle cx="96.9" cy="48.0" r="0.5"/><circle cx="96.0" cy="48.2" r="0.5"/><circle cx="96.2" cy="46.4" r="0.6"/><circle cx="108.1" cy="42.0" r="0.6"/><circle cx="106.8" cy="43.1" r="0.4"/><circle cx="107.3" cy="42.4" r="0.5"/><circle cx="112.3" cy="55.2" r="0.6"/><circle cx="111.6" cy="53.0" r="0.5"/><circle cx="89.5" cy="8.9" r="0.6"/><circle cx="87.7" cy="9.6" r="0.4"/><circle cx="96.0" cy="4.6" r="0.4"/><circle cx="88.9" cy="5.5" r="0.5"/><circle cx="110.0" cy="6.0" r="0.7"/><circle cx="110.7" cy="6.4" r="0.8"/><circle cx="111.2" cy="10.6" r="0.6"/><circle cx="107.2" cy="7.9" r="0.5"/><circle cx="87.0" cy="22.7" r="0.4"/><circle cx="84.6" cy="27.4" r="0.8"/><circle cx="88.5" cy="26.6" r="0.5"/><circle cx="102.7" cy="24.8" r="0.8"/><circle cx="110.8" cy="21.8" r="0.5"/><circle cx="60.8" cy="59.1" r="0.5"/><circle cx="62.0" cy="61.2" r="0.6"/><circle cx="68.2" cy="55.7" r="0.6"/><circle cx="74.3" cy="61.7" r="0.5"/><circle cx="72.9" cy="63.6" r="0.7"/><circle cx="65.8" cy="69.5" r="0.7"/><circle cx="63.1" cy="75.3" r="0.8"/><circle cx="27.4" cy="63.9" r="0.6"/><circle cx="22.5" cy="60.6" r="0.5"/><circle cx="22.0" cy="78.7" r="0.7"/><circle cx="20.9" cy="73.2" r="0.8"/><circle cx="24.2" cy="74.1" r="0.8"/><circle cx="37.2" cy="75.7" r="0.5"/><circle cx="38.5" cy="77.5" r="0.4"/><circle cx="20.6" cy="91.3" r="0.6"/><circle cx="17.9" cy="92.1" r="0.7"/><circle cx="45.7" cy="97.8" r="0.7"/><circle cx="49.1" cy="98.6" r="0.7"/><circle cx="51.7" cy="100.3" r="0.5"/><circle cx="56.0" cy="93.9" r="0.5"/><circle cx="62.8" cy="97.9" r="0.5"/><circle cx="61.6" cy="96.7" r="0.7"/><circle cx="60.5" cy="95.6" r="0.5"/><circle cx="63.2" cy="99.3" r="0.4"/><circle cx="57.2" cy="96.8" r="0.8"/><circle cx="72.7" cy="93.3" r="0.5"/><circle cx="69.1" cy="90.4" r="0.5"/><circle cx="69.2" cy="87.5" r="0.6"/><circle cx="73.7" cy="100.1" r="0.7"/><circle cx="69.6" cy="104.2" r="0.7"/><circle cx="73.5" cy="99.6" r="0.7"/><circle cx="76.3" cy="105.2" r="0.5"/><circle cx="76.2" cy="101.9" r="0.4"/><circle cx="76.7" cy="114.2" r="0.7"/><circle cx="77.8" cy="105.2" r="0.5"/><circle cx="75.7" cy="102.0" r="0.6"/><circle cx="91.6" cy="118.3" r="0.6"/><circle cx="85.3" cy="119.4" r="0.4"/><circle cx="71.4" cy="107.9" r="0.4"/><circle cx="56.9" cy="110.0" r="0.6"/><circle cx="54.4" cy="109.6" r="0.8"/><circle cx="95.9" cy="103.5" r="0.6"/><circle cx="6.0" cy="111.2" r="0.4"/><circle cx="2.5" cy="110.6" r="0.5"/><circle cx="3.8" cy="109.0" r="0.6"/><circle cx="12.4" cy="115.5" r="0.6"/><circle cx="10.4" cy="116.2" r="0.4"/><circle cx="24.3" cy="100.5" r="0.5"/><circle cx="26.5" cy="98.6" r="0.6"/><circle cx="104.4" cy="96.2" r="0.4"/><circle cx="104.6" cy="97.1" r="0.7"/><circle cx="106.6" cy="98.3" r="0.8"/><circle cx="107.7" cy="114.6" r="0.7"/><circle cx="104.5" cy="113.9" r="0.5"/><circle cx="106.8" cy="115.4" r="0.5"/><circle cx="19.7" cy="111.7" r="0.6"/><circle cx="18.5" cy="108.5" r="0.6"/><circle cx="30.6" cy="115.0" r="0.8"/><circle cx="32.0" cy="115.8" r="0.5"/><circle cx="10.8" cy="131.8" r="0.8"/><circle cx="11.0" cy="136.6" r="0.7"/><circle cx="20.1" cy="142.1" r="0.5"/><circle cx="12.3" cy="146.7" r="0.6"/><circle cx="14.7" cy="145.1" r="0.7"/><circle cx="12.1" cy="144.1" r="0.7"/><circle cx="35.5" cy="128.6" r="0.8"/><circle cx="32.3" cy="128.2" r="0.6"/><circle cx="31.7" cy="126.1" r="0.7"/><circle cx="36.8" cy="129.0" r="0.6"/><circle cx="48.0" cy="142.6" r="0.5"/><circle cx="46.8" cy="138.1" r="0.8"/><circle cx="47.4" cy="138.4" r="0.8"/><circle cx="59.9" cy="142.1" r="0.6"/><circle cx="57.0" cy="141.2" r="0.6"/><circle cx="61.0" cy="133.6" r="0.5"/><circle cx="61.6" cy="136.6" r="0.6"/><circle cx="63.9" cy="134.8" r="0.5"/><circle cx="72.6" cy="141.2" r="0.7"/><circle cx="78.5" cy="145.0" r="0.6"/><circle cx="71.3" cy="141.8" r="0.4"/><circle cx="93.7" cy="135.4" r="0.7"/><circle cx="92.5" cy="139.1" r="0.5"/><circle cx="103.2" cy="146.3" r="0.6"/><circle cx="108.4" cy="144.9" r="0.6"/><circle cx="49.2" cy="121.7" r="0.8"/><circle cx="111.6" cy="62.6" r="0.7"/><circle cx="82.3" cy="52.5" r="0.5"/><circle cx="82.6" cy="50.2" r="0.8"/><circle cx="70.2" cy="71.2" r="0.7"/><circle cx="111.1" cy="78.9" r="0.6"/><circle cx="111.4" cy="5.2" r="0.5"/><circle cx="110.5" cy="3.4" r="0.4"/><circle cx="115.0" cy="10.5" r="0.5"/><circle cx="117.4" cy="8.2" r="0.7"/><circle cx="125.6" cy="6.3" r="0.7"/><circle cx="116.6" cy="21.8" r="0.7"/><circle cx="122.5" cy="21.3" r="0.6"/><circle cx="124.0" cy="20.3" r="0.4"/><circle cx="112.1" cy="36.5" r="0.8"/><circle cx="123.2" cy="40.3" r="0.8"/><circle cx="136.2" cy="29.0" r="0.7"/><circle cx="135.1" cy="31.2" r="0.7"/><circle cx="128.4" cy="64.7" r="0.6"/><circle cx="130.4" cy="65.0" r="0.5"/><circle cx="132.0" cy="62.5" r="0.5"/><circle cx="141.7" cy="51.5" r="0.4"/><circle cx="140.3" cy="49.9" r="0.7"/><circle cx="141.7" cy="53.0" r="0.5"/><circle cx="137.1" cy="9.8" r="0.6"/><circle cx="161.4" cy="82.4" r="0.4"/><circle cx="156.0" cy="77.4" r="0.6"/><circle cx="155.2" cy="78.2" r="0.7"/><circle cx="155.3" cy="81.1" r="0.5"/><circle cx="176.9" cy="78.6" r="0.7"/><circle cx="175.1" cy="79.4" r="0.8"/><circle cx="162.8" cy="87.3" r="0.8"/><circle cx="164.8" cy="91.5" r="0.4"/><circle cx="187.3" cy="95.8" r="0.7"/><circle cx="187.7" cy="93.1" r="0.8"/><circle cx="167.9" cy="98.2" r="0.5"/><circle cx="191.4" cy="86.1" r="0.6"/><circle cx="189.6" cy="87.7" r="0.6"/><circle cx="198.9" cy="81.1" r="0.7"/><circle cx="199.3" cy="81.1" r="0.7"/><circle cx="213.6" cy="71.8" r="0.7"/><circle cx="212.8" cy="75.5" r="0.5"/><circle cx="217.7" cy="83.7" r="0.6"/><circle cx="218.4" cy="89.2" r="0.7"/><circle cx="223.6" cy="87.4" r="0.8"/><circle cx="219.3" cy="101.5" r="0.6"/><circle cx="210.2" cy="113.5" r="0.7"/><circle cx="199.4" cy="114.1" r="0.7"/><circle cx="203.1" cy="114.2" r="0.7"/><circle cx="217.0" cy="134.2" r="0.6"/><circle cx="217.1" cy="130.7" r="0.6"/><circle cx="211.7" cy="130.0" r="0.6"/><circle cx="212.8" cy="131.6" r="0.6"/><circle cx="188.2" cy="118.2" r="0.5"/><circle cx="187.8" cy="118.6" r="0.8"/><circle cx="189.6" cy="122.1" r="0.6"/><circle cx="181.9" cy="129.5" r="0.7"/><circle cx="176.1" cy="130.3" r="0.7"/><circle cx="181.9" cy="130.4" r="0.7"/><circle cx="177.5" cy="131.0" r="0.6"/><circle cx="169.9" cy="118.5" r="0.7"/><circle cx="171.1" cy="118.8" r="0.7"/><circle cx="172.1" cy="118.7" r="0.7"/><circle cx="149.6" cy="133.5" r="0.7"/><circle cx="151.5" cy="136.0" r="0.5"/><circle cx="149.6" cy="134.5" r="0.6"/><circle cx="163.8" cy="137.0" r="0.7"/><circle cx="168.0" cy="138.4" r="0.6"/><circle cx="185.3" cy="147.7" r="0.8"/><circle cx="186.7" cy="144.5" r="0.8"/><circle cx="201.8" cy="141.3" r="0.4"/><circle cx="198.6" cy="136.2" r="0.5"/><circle cx="219.2" cy="138.4" r="0.4"/><circle cx="220.0" cy="138.8" r="0.4"/><circle cx="220.3" cy="138.0" r="0.5"/><circle cx="117.2" cy="77.8" r="0.5"/><circle cx="125.3" cy="82.6" r="0.7"/><circle cx="125.5" cy="80.5" r="0.8"/><circle cx="134.4" cy="91.2" r="0.6"/><circle cx="129.3" cy="90.2" r="0.5"/><circle cx="137.6" cy="90.2" r="0.6"/><circle cx="132.5" cy="87.1" r="0.8"/><circle cx="110.4" cy="99.3" r="0.5"/><circle cx="117.7" cy="101.9" r="0.4"/><circle cx="123.0" cy="108.0" r="0.5"/><circle cx="131.1" cy="109.9" r="0.7"/><circle cx="115.4" cy="118.5" r="0.7"/><circle cx="126.5" cy="127.1" r="0.4"/><circle cx="126.5" cy="126.7" r="0.7"/><circle cx="135.6" cy="129.5" r="0.7"/><circle cx="114.3" cy="145.6" r="0.5"/><circle cx="119.8" cy="143.9" r="0.7"/><circle cx="122.2" cy="144.6" r="0.5"/><circle cx="150.1" cy="99.5" r="0.5"/><circle cx="146.2" cy="119.4" r="0.6"/><circle cx="144.8" cy="118.5" r="0.6"/><circle cx="157.2" cy="75.9" r="0.7"/><circle cx="207.5" cy="89.7" r="0.8"/><circle cx="229.7" cy="111.5" r="0.5"/><circle cx="62.4" cy="32.8" r="0.7"/><circle cx="20.1" cy="113.5" r="0.4"/><circle cx="17.7" cy="65.4" r="0.5"/><circle cx="103.8" cy="41.9" r="0.6"/><circle cx="-0.2" cy="125.7" r="0.7"/><circle cx="95.0" cy="41.5" r="0.4"/><circle cx="78.2" cy="40.3" r="0.5"/><circle cx="141.8" cy="131.8" r="0.8"/><circle cx="50.1" cy="43.0" r="0.6"/><circle cx="197.0" cy="132.8" r="0.6"/><circle cx="62.5" cy="97.5" r="0.5"/><circle cx="60.6" cy="144.1" r="0.7"/><circle cx="14.9" cy="97.3" r="0.8"/><circle cx="74.2" cy="116.5" r="0.4"/><circle cx="121.9" cy="113.2" r="0.8"/><circle cx="112.9" cy="116.6" r="0.4"/><circle cx="85.3" cy="154.2" r="0.5"/><circle cx="203.4" cy="112.7" r="0.4"/><circle cx="98.3" cy="69.4" r="0.4"/><circle cx="84.6" cy="24.4" r="0.5"/><circle cx="86.8" cy="25.5" r="0.4"/><circle cx="54.9" cy="36.1" r="0.7"/><circle cx="110.7" cy="9.4" r="0.6"/><circle cx="123.2" cy="16.1" r="0.5"/><circle cx="119.7" cy="91.5" r="0.7"/><circle cx="214.1" cy="115.4" r="0.6"/><circle cx="44.5" cy="45.7" r="0.7"/><circle cx="12.6" cy="0.0" r="0.5"/><circle cx="51.8" cy="33.3" r="0.5"/><circle cx="12.1" cy="3.2" r="0.7"/><circle cx="13.9" cy="35.4" r="0.7"/><circle cx="111.5" cy="83.0" r="0.7"/><circle cx="214.6" cy="86.9" r="0.5"/><circle cx="43.5" cy="11.5" r="0.6"/><circle cx="167.0" cy="101.8" r="0.5"/><circle cx="22.0" cy="60.0" r="0.4"/><circle cx="42.1" cy="80.0" r="0.6"/><circle cx="188.0" cy="132.0" r="0.7"/><circle cx="10.3" cy="154.0" r="0.6"/><circle cx="-3.5" cy="58.3" r="0.6"/><circle cx="127.5" cy="110.7" r="0.5"/><circle cx="70.0" cy="5.4" r="0.6"/><circle cx="12.1" cy="76.1" r="0.4"/><circle cx="217.0" cy="87.6" r="0.7"/><circle cx="137.6" cy="94.5" r="0.5"/><circle cx="105.1" cy="142.0" r="0.4"/><circle cx="46.9" cy="39.4" r="0.6"/><circle cx="64.3" cy="68.8" r="0.7"/><circle cx="161.2" cy="95.8" r="0.7"/><circle cx="161.1" cy="93.9" r="0.6"/><circle cx="45.1" cy="53.6" r="0.8"/><circle cx="113.7" cy="141.6" r="0.5"/><circle cx="110.7" cy="140.2" r="0.7"/><circle cx="65.0" cy="0.2" r="0.6"/><circle cx="30.0" cy="150.4" r="0.4"/><circle cx="20.0" cy="121.8" r="0.4"/><circle cx="212.6" cy="123.4" r="0.7"/><circle cx="34.7" cy="107.2" r="0.5"/><circle cx="200.7" cy="132.1" r="0.6"/><circle cx="43.8" cy="139.9" r="0.7"/><circle cx="69.8" cy="121.0" r="0.7"/><circle cx="51.7" cy="102.6" r="0.8"/><circle cx="74.5" cy="132.0" r="0.7"/><circle cx="62.9" cy="96.9" r="0.6"/><circle cx="155.9" cy="131.2" r="0.5"/></g></g><g clip-path="url(#Di)"><g filter="url(#txC)"><rect x="145.3" y="0" width="83.69999999999999" height="68.8" fill="#3a3a3a"/><path d="M150.0,30.0 C154.2,31.7 166.7,37.0 175.0,40.0 C183.3,43.0 191.0,46.0 200.0,48.0 C209.0,50.0 224.2,51.3 229.0,52.0" fill="none" stroke="#555555" stroke-width="3" stroke-linecap="round" stroke-linejoin="round" filter="url(#b1)" opacity="0.8"/><path d="M165.0,60.0 C169.2,58.3 181.7,54.2 190.0,50.0 C198.3,45.8 208.5,38.7 215.0,35.0 C221.5,31.3 226.7,29.2 229.0,28.0" fill="none" stroke="#505050" stroke-width="2" stroke-linecap="round" stroke-linejoin="round" filter="url(#b1)" opacity="0.8"/><g filter="url(#dsp)"><polygon points="146.4,34.0 158.0,31.0 166.0,38.0 170.7,46.0 168.0,60.0 166.0,69.2 147.0,69.2" fill="#b4b4b4"/><polygon points="152.0,45.0 160.0,44.0 163.0,55.0 156.0,62.0 151.0,56.0" fill="#6e6e6e"/><polygon points="174.0,56.0 180.0,52.0 192.0,53.0 197.2,60.0 196.0,69.2 174.0,69.2" fill="#bebebe"/><polygon points="146.4,0.0 156.0,0.0 155.7,10.0 149.0,11.5 146.4,8.0" fill="#bebebe"/><polygon points="178.7,13.0 185.0,9.0 192.6,12.0 191.0,21.0 182.0,21.0" fill="#bebebe"/><polygon points="215.7,58.0 224.0,55.4 229.5,57.0 229.5,67.0 217.0,67.0" fill="#afafaf"/></g><circle cx="168.8" cy="17.8" r="5.80" fill="#c3c3c3" filter="url(#b0_5)"/><circle cx="169.1" cy="18.1" r="3.60" fill="#969696" filter="url(#b0_8)"/><circle cx="181.5" cy="25.8" r="6.30" fill="#bebebe" filter="url(#b0_5)"/><circle cx="181.8" cy="26.1" r="3.91" fill="#919191" filter="url(#b0_8)"/><circle cx="190.3" cy="23.0" r="4.60" fill="#b9b9b9" filter="url(#b0_5)"/><circle cx="190.6" cy="23.3" r="2.85" fill="#8c8c8c" filter="url(#b0_8)"/><ellipse cx="214.5" cy="26.5" rx="2.2" ry="2.8" fill="none" stroke="#afafaf" stroke-width="1"/><ellipse cx="214.5" cy="44" rx="4.4" ry="5.5" fill="none" stroke="#afafaf" stroke-width="1"/><ellipse cx="200.6" cy="48.4" rx="2.8" ry="3.5" fill="none" stroke="#afafaf" stroke-width="1"/><ellipse cx="224" cy="36" rx="1.6" ry="2" fill="none" stroke="#afafaf" stroke-width="1"/></g></g><clipPath id="Di"><rect x="145.3" y="0" width="83.69999999999999" height="68.8"/></clipPath><rect x="144.3" y="0" width="1.9" height="68.8" fill="#fff"/><rect x="144.3" y="67.89999999999999" width="84.69999999999999" height="1.9" fill="#fff"/><rect x="129.1" y="142.2" width="88.9" height="1.8" fill="#f2f2f2"/></g></g><clipPath id="Ec"><rect width="229.0" height="152.2"/></clipPath><g transform="translate(28.2,641.2)"><g clip-path="url(#Ec)"><g filter="url(#txE)"><rect width="229.0" height="152.2" fill="#484848"/><g filter="url(#b3)"><polygon points="0.0,0.0 41.0,0.0 30.0,20.0 20.0,50.0 14.0,70.0 22.0,100.0 32.0,115.0 0.0,125.0" fill="#707070"/><polygon points="41.0,0.0 60.0,0.0 50.0,20.0 40.0,40.0 30.0,60.0 25.0,45.0 30.0,20.0" fill="#4e4e4e"/><polygon points="178.0,0.0 205.0,0.0 212.0,40.0 214.0,80.0 208.0,100.0 190.0,112.0 196.0,70.0 192.0,35.0" fill="#747474"/><polygon points="205.0,0.0 229.0,0.0 229.0,80.0 222.0,75.0 214.0,60.0 212.0,40.0" fill="#525252"/><polygon points="186.0,105.0 214.0,95.0 229.0,80.0 229.0,152.0 190.0,152.0 186.0,130.0" fill="#787878"/><polygon points="35.0,118.0 60.0,125.0 110.0,130.0 150.0,118.0 190.0,110.0 186.0,130.0 190.0,152.0 100.0,152.0 104.0,143.0 92.0,138.0 69.0,136.0 46.0,132.7 37.0,129.0" fill="#545454"/><polygon points="0.0,99.0 15.0,100.0 30.0,106.0 37.0,117.0 30.0,118.0 14.0,120.0 0.0,125.0" fill="#b2b2b2"/></g><g filter="url(#b2)"><path d="M41.0,0.0 C39.2,3.3 33.5,11.7 30.0,20.0 C26.5,28.3 22.7,41.7 20.0,50.0 C17.3,58.3 14.3,62.5 14.0,70.0 C13.7,77.5 15.3,88.0 18.0,95.0 C20.7,102.0 25.5,107.8 30.0,112.0 C34.5,116.2 42.5,118.7 45.0,120.0" fill="none" stroke="#d2d2d2" stroke-width="8" stroke-linecap="round" stroke-linejoin="round" opacity="0.7"/><path d="M28.0,0.0 C26.3,4.2 21.2,15.8 18.0,25.0 C14.8,34.2 11.0,45.8 9.0,55.0 C7.0,64.2 6.5,75.8 6.0,80.0" fill="none" stroke="#b9b9b9" stroke-width="5" stroke-linecap="round" stroke-linejoin="round" opacity="0.5"/><path d="M190.6,23.0 C192.9,25.7 201.3,31.3 204.4,39.0 C207.5,46.7 208.6,59.3 209.0,69.0 C209.4,78.7 209.8,90.0 206.7,97.0 C203.6,104.0 196.7,107.8 190.6,110.8 C184.5,113.8 176.8,113.1 170.0,115.0 C163.2,116.9 153.3,120.8 150.0,122.0" fill="none" stroke="#d7d7d7" stroke-width="9" stroke-linecap="round" stroke-linejoin="round" opacity="0.75"/><path d="M200.0,0.0 C202.0,5.0 209.3,20.0 212.0,30.0 C214.7,40.0 215.7,50.8 216.0,60.0 C216.3,69.2 214.3,80.8 214.0,85.0" fill="none" stroke="#c8c8c8" stroke-width="6" stroke-linecap="round" stroke-linejoin="round" opacity="0.5"/><path d="M182.0,5.0 C184.3,8.8 192.8,18.8 196.0,28.0 C199.2,37.2 200.5,49.3 201.0,60.0 C201.5,70.7 199.3,86.7 199.0,92.0" fill="none" stroke="#b4b4b4" stroke-width="5" stroke-linecap="round" stroke-linejoin="round" opacity="0.45"/><path d="M225.0,5.0 C223.3,11.7 216.0,33.3 215.0,45.0 C214.0,56.7 218.3,70.0 219.0,75.0" fill="none" stroke="#bebebe" stroke-width="5" stroke-linecap="round" stroke-linejoin="round" opacity="0.55"/><path d="M2.0,10.0 C3.0,15.0 7.7,30.0 8.0,40.0 C8.3,50.0 5.0,60.0 4.0,70.0 C3.0,80.0 2.3,95.0 2.0,100.0" fill="none" stroke="#b9b9b9" stroke-width="4" stroke-linecap="round" stroke-linejoin="round" opacity="0.6"/><path d="M12.0,2.0 C11.0,6.7 7.5,20.3 6.0,30.0 C4.5,39.7 3.5,55.0 3.0,60.0" fill="none" stroke="#b9b9b9" stroke-width="3" stroke-linecap="round" stroke-linejoin="round" opacity="0.5"/><path d="M60.0,0.0 C66.7,0.3 86.7,2.0 100.0,2.0 C113.3,2.0 133.3,0.3 140.0,0.0" fill="none" stroke="#aaaaaa" stroke-width="5" stroke-linecap="round" stroke-linejoin="round" opacity="0.4"/><path d="M40.0,120.0 C45.0,121.7 58.3,127.7 70.0,130.0 C81.7,132.3 96.7,134.7 110.0,134.0 C123.3,133.3 137.3,129.3 150.0,126.0 C162.7,122.7 180.0,116.0 186.0,114.0" fill="none" stroke="#afafaf" stroke-width="6" stroke-linecap="round" stroke-linejoin="round" opacity="0.45"/></g></g><g filter="url(#dsp2)"><g filter="url(#txEc)"><polygon points="56.8,28.8 71.5,24.0 86.8,23.8 100.0,17.0 111.8,8.8 125.0,3.0 137.0,0.0 160.0,1.0 172.0,4.0 186.8,28.8 191.8,38.8 196.8,78.8 190.0,96.0 181.8,108.8 166.0,118.0 151.8,123.8 136.0,127.0 121.8,128.8 100.0,127.0 81.8,123.8 66.0,119.0 56.8,113.8 46.8,98.8 41.8,83.8 26.8,78.8 21.8,68.8 21.8,63.8 28.0,52.0 36.8,43.8 46.0,35.0" fill="#828282" filter="url(#b2)"/><polygon points="56.8,28.8 71.5,24.0 86.8,23.8 100.0,17.0 111.8,8.8 125.0,3.0 137.0,0.0 160.0,1.0 172.0,4.0 186.8,28.8 191.8,38.8 196.8,78.8 190.0,96.0 181.8,108.8 166.0,118.0 151.8,123.8 136.0,127.0 121.8,128.8 100.0,127.0 81.8,123.8 66.0,119.0 56.8,113.8 46.8,98.8 41.8,83.8 26.8,78.8 21.8,68.8 21.8,63.8 28.0,52.0 36.8,43.8 46.0,35.0" fill="#949494" filter="url(#b1)"/><polygon points="23.1,55.0 35.0,53.0 46.0,62.0 50.0,75.0 45.0,85.0 33.0,82.0 23.0,76.0 21.5,65.0" fill="#c8c8c8" filter="url(#b1)"/><circle cx="90.0" cy="42.0" r="2.50" fill="#3c3c3c" filter="url(#b0_8)"/><circle cx="96.0" cy="47.0" r="2.00" fill="#3c3c3c" filter="url(#b0_8)"/><circle cx="118.0" cy="22.0" r="2.50" fill="#3c3c3c" filter="url(#b0_8)"/><circle cx="125.0" cy="30.0" r="2.00" fill="#3c3c3c" filter="url(#b0_8)"/><circle cx="145.0" cy="12.0" r="3.00" fill="#3c3c3c" filter="url(#b0_8)"/><circle cx="152.0" cy="18.0" r="2.50" fill="#3c3c3c" filter="url(#b0_8)"/><circle cx="160.0" cy="5.0" r="2.50" fill="#3c3c3c" filter="url(#b0_8)"/><circle cx="134.0" cy="40.0" r="2.00" fill="#3c3c3c" filter="url(#b0_8)"/><circle cx="112.0" cy="70.0" r="1.80" fill="#3c3c3c" filter="url(#b0_8)"/><circle cx="150.0" cy="60.0" r="2.00" fill="#3c3c3c" filter="url(#b0_8)"/><circle cx="170.0" cy="30.0" r="2.00" fill="#3c3c3c" filter="url(#b0_8)"/><circle cx="100.0" cy="32.0" r="2.00" fill="#3c3c3c" filter="url(#b0_8)"/><circle cx="130.0" cy="12.0" r="2.50" fill="#3c3c3c" filter="url(#b0_8)"/><circle cx="165.0" cy="15.0" r="3.00" fill="#3c3c3c" filter="url(#b0_8)"/><circle cx="176.0" cy="10.0" r="2.50" fill="#3c3c3c" filter="url(#b0_8)"/><circle cx="140.0" cy="22.0" r="2.00" fill="#3c3c3c" filter="url(#b0_8)"/><circle cx="158.0" cy="28.0" r="2.00" fill="#3c3c3c" filter="url(#b0_8)"/><circle cx="110.0" cy="18.0" r="2.00" fill="#3c3c3c" filter="url(#b0_8)"/><circle cx="115.0" cy="55.0" r="3.00" fill="#c8c8c8" filter="url(#b0_8)"/><circle cx="130.0" cy="75.0" r="3.00" fill="#c8c8c8" filter="url(#b0_8)"/><circle cx="96.0" cy="100.0" r="3.50" fill="#c8c8c8" filter="url(#b0_8)"/><circle cx="125.0" cy="100.0" r="3.00" fill="#c8c8c8" filter="url(#b0_8)"/><circle cx="140.0" cy="85.0" r="2.50" fill="#c8c8c8" filter="url(#b0_8)"/><circle cx="165.0" cy="70.0" r="2.50" fill="#c8c8c8" filter="url(#b0_8)"/><circle cx="80.0" cy="60.0" r="2.50" fill="#c8c8c8" filter="url(#b0_8)"/><circle cx="150.0" cy="35.0" r="2.50" fill="#c8c8c8" filter="url(#b0_8)"/><circle cx="105.0" cy="80.0" r="2.50" fill="#c8c8c8" filter="url(#b0_8)"/><circle cx="175.0" cy="55.0" r="2.50" fill="#c8c8c8" filter="url(#b0_8)"/></g><polygon points="56.8,28.8 71.5,24.0 86.8,23.8 100.0,17.0 111.8,8.8 125.0,3.0 137.0,0.0 160.0,1.0 172.0,4.0 186.8,28.8 191.8,38.8 196.8,78.8 190.0,96.0 181.8,108.8 166.0,118.0 151.8,123.8 136.0,127.0 121.8,128.8 100.0,127.0 81.8,123.8 66.0,119.0 56.8,113.8 46.8,98.8 41.8,83.8 26.8,78.8 21.8,68.8 21.8,63.8 28.0,52.0 36.8,43.8 46.0,35.0" fill="url(#spA)" opacity="0.8"/><polygon points="56.8,28.8 71.5,24.0 86.8,23.8 100.0,17.0 111.8,8.8 125.0,3.0 137.0,0.0 160.0,1.0 172.0,4.0 186.8,28.8 191.8,38.8 196.8,78.8 190.0,96.0 181.8,108.8 166.0,118.0 151.8,123.8 136.0,127.0 121.8,128.8 100.0,127.0 81.8,123.8 66.0,119.0 56.8,113.8 46.8,98.8 41.8,83.8 26.8,78.8 21.8,68.8 21.8,63.8 28.0,52.0 36.8,43.8 46.0,35.0" fill="url(#spD)" opacity="0.4"/><polygon points="56.8,28.8 71.5,24.0 86.8,23.8 100.0,17.0 111.8,8.8 125.0,3.0 137.0,0.0 160.0,1.0 172.0,4.0 186.8,28.8 191.8,38.8 196.8,78.8 190.0,96.0 181.8,108.8 166.0,118.0 151.8,123.8 136.0,127.0 121.8,128.8 100.0,127.0 81.8,123.8 66.0,119.0 56.8,113.8 46.8,98.8 41.8,83.8 26.8,78.8 21.8,68.8 21.8,63.8 28.0,52.0 36.8,43.8 46.0,35.0" fill="none" stroke="#cdcdcd" stroke-width="1.4" opacity="0.75"/></g><g filter="url(#b0_5)"><path d="M41.0,0.0 C39.2,3.3 33.5,11.7 30.0,20.0 C26.5,28.3 22.7,41.7 20.0,50.0 C17.3,58.3 14.3,62.5 14.0,70.0 C13.7,77.5 15.3,88.0 18.0,95.0 C20.7,102.0 25.5,107.8 30.0,112.0 C34.5,116.2 42.5,118.7 45.0,120.0" fill="none" stroke="#d7d7d7" stroke-width="1.4" stroke-linecap="round" stroke-linejoin="round" opacity="0.9"/><path d="M35.0,0.0 C32.8,4.2 25.8,15.8 22.0,25.0 C18.2,34.2 14.3,46.7 12.0,55.0 C9.7,63.3 8.7,71.7 8.0,75.0" fill="none" stroke="#c8c8c8" stroke-width="1.1" stroke-linecap="round" stroke-linejoin="round" opacity="0.7"/><path d="M8.0,8.0 C7.3,12.5 4.3,26.3 4.0,35.0 C3.7,43.7 6.2,50.8 6.0,60.0 C5.8,69.2 3.5,85.0 3.0,90.0" fill="none" stroke="#d2d2d2" stroke-width="1.0" stroke-linecap="round" stroke-linejoin="round" opacity="0.7"/><path d="M20.0,60.0 C19.3,63.3 15.7,73.3 16.0,80.0 C16.3,86.7 19.0,94.7 22.0,100.0 C25.0,105.3 32.0,110.0 34.0,112.0" fill="none" stroke="#cdcdcd" stroke-width="1.0" stroke-linecap="round" stroke-linejoin="round" opacity="0.6"/><path d="M190.6,23.0 C192.9,25.7 201.3,31.3 204.4,39.0 C207.5,46.7 208.6,59.3 209.0,69.0 C209.4,78.7 209.8,90.0 206.7,97.0 C203.6,104.0 196.7,107.8 190.6,110.8 C184.5,113.8 176.8,113.1 170.0,115.0 C163.2,116.9 153.3,120.8 150.0,122.0" fill="none" stroke="#dcdcdc" stroke-width="1.4" stroke-linecap="round" stroke-linejoin="round" opacity="0.9"/><path d="M185.0,10.0 C187.2,13.3 195.0,21.7 198.0,30.0 C201.0,38.3 202.7,50.0 203.0,60.0 C203.3,70.0 200.5,85.0 200.0,90.0" fill="none" stroke="#c8c8c8" stroke-width="1.1" stroke-linecap="round" stroke-linejoin="round" opacity="0.6"/><path d="M225.0,5.0 C223.3,11.7 216.0,33.3 215.0,45.0 C214.0,56.7 218.3,70.0 219.0,75.0" fill="none" stroke="#d7d7d7" stroke-width="1.1" stroke-linecap="round" stroke-linejoin="round" opacity="0.8"/><path d="M110.0,143.0 C116.7,141.2 138.3,135.3 150.0,132.0 C161.7,128.7 172.3,125.3 180.0,123.0 C187.7,120.7 193.3,118.8 196.0,118.0" fill="none" stroke="#bebebe" stroke-width="1.1" stroke-linecap="round" stroke-linejoin="round" opacity="0.6"/><path d="M40.0,117.0 C45.0,118.8 58.3,125.3 70.0,128.0 C81.7,130.7 103.3,132.2 110.0,133.0" fill="none" stroke="#b4b4b4" stroke-width="1.1" stroke-linecap="round" stroke-linejoin="round" opacity="0.5"/><path d="M188.0,112.0 C190.0,114.2 195.7,121.2 200.0,125.0 C204.3,128.8 209.2,132.5 214.0,135.0 C218.8,137.5 226.5,139.2 229.0,140.0" fill="none" stroke="#c8c8c8" stroke-width="1.1" stroke-linecap="round" stroke-linejoin="round" opacity="0.7"/></g><polygon points="0.0,101.0 15.0,102.0 30.0,108.0 36.0,118.0 30.0,118.0 14.0,120.0 0.0,125.0" fill="url(#spA)"/><polygon points="0.0,101.0 15.0,102.0 30.0,108.0 36.0,118.0 30.0,118.0 14.0,120.0 0.0,125.0" fill="url(#spB)"/><polygon points="186.0,105.0 214.0,95.0 229.0,80.0 229.0,152.0 190.0,152.0 186.0,130.0" fill="url(#spB)" opacity="0.8"/><polygon points="0.0,124.6 13.8,120.0 30.0,117.7 34.6,122.3 36.9,129.2 46.0,132.7 69.0,136.0 92.0,138.5 104.0,143.0 101.5,152.2 0.0,152.2" fill="#1e1e1e" filter="url(#b0_5)"/><polygon points="104.0,146.0 140.0,146.0 145.0,152.2 101.0,152.2" fill="#282828" filter="url(#b0_8)"/><line x1="9.2" y1="9.7" x2="21.1" y2="29.5" stroke="#fff" stroke-width="1.5"/><polygon points="24.2,34.6 18.9,30.8 23.3,28.1" fill="#fff"/><rect x="119.0" y="143.29999999999998" width="100.4" height="1.8" fill="#f2f2f2"/></g></g><clipPath id="Fc"><rect width="229.0" height="152.2"/></clipPath><g transform="translate(280.4,641.2)"><g clip-path="url(#Fc)"><g filter="url(#txF)"><rect width="229.0" height="152.2" fill="url(#dnA)"/></g><g filter="url(#b4)"><polygon points="0.0,45.0 25.0,45.0 30.0,70.0 10.0,80.0 0.0,75.0" fill="#000" opacity="0.3"/><polygon points="90.0,60.0 130.0,55.0 140.0,75.0 100.0,80.0" fill="#000" opacity="0.2"/><polygon points="40.0,95.0 110.0,90.0 140.0,100.0 100.0,108.0 50.0,108.0" fill="#fff" opacity="0.12"/><polygon points="60.0,120.0 100.0,125.0 110.0,152.0 60.0,152.0" fill="#000" opacity="0.2"/></g><polygon points="2.0,16.0 12.0,14.0 21.0,22.0 19.0,36.0 21.0,41.5 12.0,40.0 3.0,34.0" fill="#b9b9b9" filter="url(#b0_8)" opacity="0.6"/><polygon points="2.0,16.0 12.0,14.0 21.0,22.0 19.0,36.0 21.0,41.5 12.0,40.0 3.0,34.0" fill="url(#spA)" opacity="0.8"/><polygon points="66.0,24.0 76.0,21.0 85.0,26.0 82.0,36.0 74.0,39.0 67.0,32.0" fill="#b9b9b9" filter="url(#b0_8)" opacity="0.6"/><polygon points="66.0,24.0 76.0,21.0 85.0,26.0 82.0,36.0 74.0,39.0 67.0,32.0" fill="url(#spA)" opacity="0.8"/><polygon points="96.0,6.0 104.0,4.0 111.0,8.0 108.0,14.0 99.0,13.0" fill="#b9b9b9" filter="url(#b0_8)" opacity="0.6"/><polygon points="96.0,6.0 104.0,4.0 111.0,8.0 108.0,14.0 99.0,13.0" fill="url(#spA)" opacity="0.8"/><polygon points="178.0,95.0 190.0,92.0 196.0,104.0 188.0,112.0 180.0,106.0" fill="#b9b9b9" filter="url(#b0_8)" opacity="0.6"/><polygon points="178.0,95.0 190.0,92.0 196.0,104.0 188.0,112.0 180.0,106.0" fill="url(#spA)" opacity="0.8"/><polygon points="0.0,135.0 10.0,138.0 12.0,152.0 0.0,152.0" fill="#b9b9b9" filter="url(#b0_8)" opacity="0.6"/><polygon points="0.0,135.0 10.0,138.0 12.0,152.0 0.0,152.0" fill="url(#spA)" opacity="0.8"/><g clip-path="url(#Fi)"><g filter="url(#txC)"><rect x="145.5" y="0" width="83.5" height="68.0" fill="#3e3e3e"/><g stroke="#c8c8c8" stroke-width="0.6" opacity="0.75"><line x1="164.4" y1="65.4" x2="177.8" y2="71.0"/><line x1="152.6" y1="16.8" x2="144.1" y2="16.8"/><line x1="199.1" y1="31.2" x2="200.8" y2="43.0"/><line x1="161.6" y1="56.5" x2="170.0" y2="58.9"/><line x1="147.2" y1="18.1" x2="152.0" y2="34.3"/><line x1="177.2" y1="7.7" x2="189.5" y2="20.7"/><line x1="150.8" y1="42.2" x2="156.0" y2="55.1"/><line x1="173.8" y1="47.0" x2="173.9" y2="60.8"/><line x1="220.8" y1="39.5" x2="226.9" y2="42.5"/><line x1="224.5" y1="33.2" x2="238.7" y2="43.2"/><line x1="193.8" y1="49.6" x2="185.1" y2="53.0"/><line x1="175.3" y1="59.7" x2="189.1" y2="66.0"/><line x1="153.7" y1="46.9" x2="143.3" y2="60.9"/><line x1="215.9" y1="34.2" x2="222.3" y2="38.8"/><line x1="189.6" y1="34.7" x2="206.1" y2="38.4"/><line x1="187.9" y1="47.7" x2="194.7" y2="53.4"/><line x1="146.5" y1="23.3" x2="153.9" y2="31.6"/><line x1="177.0" y1="56.7" x2="169.3" y2="59.4"/><line x1="178.6" y1="11.3" x2="169.9" y2="26.7"/><line x1="162.4" y1="52.1" x2="166.0" y2="57.1"/><line x1="209.3" y1="23.2" x2="219.0" y2="29.0"/><line x1="164.8" y1="27.9" x2="166.7" y2="38.7"/><line x1="194.6" y1="19.6" x2="201.4" y2="21.7"/><line x1="154.4" y1="35.4" x2="161.1" y2="49.6"/><line x1="187.7" y1="48.2" x2="180.9" y2="48.6"/><line x1="146.9" y1="9.5" x2="151.4" y2="21.6"/><line x1="207.6" y1="23.9" x2="201.6" y2="24.6"/><line x1="215.3" y1="14.3" x2="209.4" y2="16.7"/><line x1="226.1" y1="51.6" x2="213.1" y2="52.0"/><line x1="160.3" y1="66.0" x2="161.6" y2="72.8"/><line x1="196.1" y1="33.8" x2="196.7" y2="41.6"/><line x1="155.7" y1="39.5" x2="156.8" y2="46.9"/><line x1="182.2" y1="49.3" x2="174.9" y2="58.4"/><line x1="178.4" y1="24.5" x2="184.7" y2="30.0"/><line x1="182.8" y1="7.4" x2="173.3" y2="18.4"/><line x1="196.6" y1="1.5" x2="201.2" y2="11.7"/><line x1="153.3" y1="65.8" x2="144.6" y2="74.2"/><line x1="204.4" y1="13.6" x2="213.6" y2="21.8"/><line x1="207.6" y1="44.0" x2="221.0" y2="44.3"/><line x1="221.4" y1="50.5" x2="204.1" y2="54.6"/><line x1="164.2" y1="20.2" x2="161.6" y2="37.7"/><line x1="176.3" y1="64.0" x2="165.5" y2="69.5"/><line x1="197.7" y1="65.1" x2="190.3" y2="71.1"/><line x1="216.1" y1="13.3" x2="223.1" y2="29.4"/><line x1="216.2" y1="21.2" x2="224.4" y2="31.8"/><line x1="215.9" y1="46.5" x2="201.4" y2="49.5"/><line x1="214.0" y1="41.1" x2="218.7" y2="51.2"/><line x1="186.4" y1="36.0" x2="178.4" y2="40.5"/><line x1="151.2" y1="49.9" x2="158.5" y2="58.2"/><line x1="155.3" y1="56.4" x2="161.5" y2="63.6"/><line x1="212.7" y1="34.3" x2="223.4" y2="47.0"/><line x1="179.9" y1="24.6" x2="164.5" y2="26.2"/><line x1="207.9" y1="17.0" x2="196.9" y2="24.3"/><line x1="214.8" y1="25.0" x2="202.8" y2="34.9"/><line x1="177.9" y1="44.5" x2="164.1" y2="55.9"/><line x1="222.4" y1="53.5" x2="234.5" y2="59.0"/><line x1="202.7" y1="5.9" x2="204.6" y2="22.2"/><line x1="221.1" y1="62.9" x2="233.8" y2="66.7"/><line x1="217.7" y1="44.4" x2="221.2" y2="49.8"/><line x1="222.3" y1="58.4" x2="217.5" y2="67.6"/><line x1="214.7" y1="55.4" x2="206.1" y2="65.4"/><line x1="172.2" y1="20.2" x2="176.5" y2="29.1"/><line x1="188.9" y1="7.8" x2="182.4" y2="15.6"/><line x1="158.8" y1="17.3" x2="162.6" y2="27.8"/><line x1="210.8" y1="6.8" x2="218.1" y2="12.9"/><line x1="160.3" y1="51.0" x2="166.5" y2="53.2"/><line x1="191.9" y1="50.1" x2="181.1" y2="56.7"/><line x1="172.8" y1="60.0" x2="164.8" y2="68.6"/><line x1="192.5" y1="63.7" x2="175.3" y2="63.8"/><line x1="156.6" y1="22.2" x2="158.9" y2="29.9"/><line x1="209.1" y1="4.1" x2="196.9" y2="8.6"/><line x1="196.7" y1="28.2" x2="184.1" y2="30.8"/><line x1="220.4" y1="62.7" x2="210.3" y2="77.4"/><line x1="186.4" y1="24.9" x2="175.5" y2="30.7"/><line x1="171.3" y1="46.2" x2="171.9" y2="53.8"/><line x1="215.5" y1="34.0" x2="203.1" y2="35.1"/><line x1="223.7" y1="19.7" x2="233.3" y2="27.4"/><line x1="209.5" y1="56.1" x2="206.2" y2="62.8"/><line x1="178.4" y1="2.4" x2="185.2" y2="18.3"/><line x1="174.5" y1="47.5" x2="171.6" y2="54.7"/><line x1="203.0" y1="5.4" x2="213.8" y2="12.5"/><line x1="156.1" y1="65.6" x2="159.3" y2="78.8"/><line x1="226.1" y1="7.3" x2="219.6" y2="7.4"/><line x1="195.7" y1="44.6" x2="185.4" y2="45.1"/><line x1="224.6" y1="44.2" x2="225.1" y2="52.2"/><line x1="165.2" y1="24.8" x2="170.0" y2="34.1"/><line x1="213.0" y1="25.5" x2="210.4" y2="31.4"/><line x1="157.2" y1="48.3" x2="148.1" y2="51.6"/><line x1="148.2" y1="15.8" x2="152.6" y2="25.2"/><line x1="192.4" y1="20.5" x2="185.5" y2="34.3"/><line x1="210.9" y1="50.4" x2="208.5" y2="59.2"/><line x1="215.8" y1="19.7" x2="205.5" y2="24.5"/><line x1="198.0" y1="33.9" x2="193.3" y2="42.9"/><line x1="193.8" y1="50.1" x2="199.4" y2="62.1"/><line x1="183.6" y1="32.0" x2="188.1" y2="43.7"/><line x1="204.7" y1="11.8" x2="219.0" y2="18.8"/><line x1="152.9" y1="53.9" x2="146.6" y2="59.8"/><line x1="198.6" y1="17.2" x2="190.8" y2="20.3"/><line x1="155.2" y1="2.5" x2="149.7" y2="9.1"/><line x1="171.7" y1="66.4" x2="161.7" y2="77.4"/><line x1="193.6" y1="43.6" x2="209.3" y2="44.1"/><line x1="173.0" y1="58.1" x2="177.5" y2="74.4"/><line x1="145.5" y1="66.7" x2="157.1" y2="70.3"/><line x1="185.7" y1="67.1" x2="174.5" y2="80.9"/><line x1="221.1" y1="28.9" x2="228.1" y2="32.4"/><line x1="204.7" y1="64.7" x2="199.7" y2="73.5"/><line x1="195.4" y1="44.7" x2="205.4" y2="54.9"/><line x1="162.1" y1="1.9" x2="173.7" y2="4.3"/><line x1="203.6" y1="15.3" x2="208.2" y2="28.9"/><line x1="167.5" y1="35.5" x2="164.0" y2="45.8"/></g><polygon points="146.0,14.0 160.0,10.0 172.0,18.0 178.0,30.0 176.0,45.0 172.0,58.0 168.0,68.5 146.0,68.5" fill="#767676" filter="url(#b2)"/><polygon points="146.0,14.0 160.0,10.0 172.0,18.0 178.0,30.0 176.0,45.0 172.0,58.0 168.0,68.5 146.0,68.5" fill="url(#spB)"/><circle cx="174.2" cy="5.2" r="5.00" fill="#969696" stroke="#d2d2d2" stroke-width="1.3"/><circle cx="174.2" cy="5.2" r="2.2" fill="none" stroke="#c3c3c3" stroke-width="0.8"/><circle cx="185.4" cy="12.1" r="5.20" fill="#969696" stroke="#d2d2d2" stroke-width="1.3"/><circle cx="185.4" cy="12.1" r="2.3" fill="none" stroke="#c3c3c3" stroke-width="0.8"/><circle cx="189.8" cy="19.9" r="6.00" fill="#969696" stroke="#d2d2d2" stroke-width="1.3"/><circle cx="189.8" cy="19.9" r="2.7" fill="none" stroke="#c3c3c3" stroke-width="0.8"/><circle cx="185.4" cy="32.0" r="6.00" fill="#969696" stroke="#d2d2d2" stroke-width="1.3"/><circle cx="185.4" cy="32.0" r="2.7" fill="none" stroke="#c3c3c3" stroke-width="0.8"/><circle cx="196.7" cy="42.4" r="6.00" fill="#969696" stroke="#d2d2d2" stroke-width="1.3"/><circle cx="196.7" cy="42.4" r="2.7" fill="none" stroke="#c3c3c3" stroke-width="0.8"/><circle cx="212.3" cy="52.8" r="6.00" fill="#969696" stroke="#d2d2d2" stroke-width="1.3"/><circle cx="212.3" cy="52.8" r="2.7" fill="none" stroke="#c3c3c3" stroke-width="0.8"/><circle cx="205.3" cy="15.6" r="6.00" fill="#969696" stroke="#d2d2d2" stroke-width="1.3"/><circle cx="205.3" cy="15.6" r="2.7" fill="none" stroke="#c3c3c3" stroke-width="0.8"/><circle cx="225.2" cy="11.2" r="4.50" fill="#969696" stroke="#d2d2d2" stroke-width="1.3"/><circle cx="225.2" cy="11.2" r="2.0" fill="none" stroke="#c3c3c3" stroke-width="0.8"/><circle cx="217.5" cy="39.0" r="6.00" fill="#969696" stroke="#d2d2d2" stroke-width="1.3"/><circle cx="217.5" cy="39.0" r="2.7" fill="none" stroke="#c3c3c3" stroke-width="0.8"/><circle cx="200.2" cy="58.8" r="5.00" fill="#969696" stroke="#d2d2d2" stroke-width="1.3"/><circle cx="200.2" cy="58.8" r="2.2" fill="none" stroke="#c3c3c3" stroke-width="0.8"/><circle cx="181.1" cy="64.0" r="4.50" fill="#969696" stroke="#d2d2d2" stroke-width="1.3"/><circle cx="181.1" cy="64.0" r="2.0" fill="none" stroke="#c3c3c3" stroke-width="0.8"/><circle cx="222.6" cy="24.2" r="5.00" fill="#969696" stroke="#d2d2d2" stroke-width="1.3"/><circle cx="222.6" cy="24.2" r="2.2" fill="none" stroke="#c3c3c3" stroke-width="0.8"/><circle cx="228.0" cy="58.0" r="4.50" fill="#969696" stroke="#d2d2d2" stroke-width="1.3"/><circle cx="228.0" cy="58.0" r="2.0" fill="none" stroke="#c3c3c3" stroke-width="0.8"/><circle cx="160.0" cy="2.0" r="4.00" fill="#969696" stroke="#d2d2d2" stroke-width="1.3"/><circle cx="160.0" cy="2.0" r="1.8" fill="none" stroke="#c3c3c3" stroke-width="0.8"/></g></g><clipPath id="Fi"><rect x="145.5" y="0" width="83.5" height="68.0"/></clipPath><rect x="144.5" y="0" width="1.9" height="68.0" fill="#fff"/><rect x="144.5" y="67.1" width="84.5" height="1.9" fill="#fff"/><rect x="131.4" y="142.1" width="86.29999999999998" height="1.8" fill="#f2f2f2"/></g></g>
<rect x="1" y="1" width="518" height="803" fill="none" stroke="#000" stroke-width="2.2"/>
</svg>
</body></html>
